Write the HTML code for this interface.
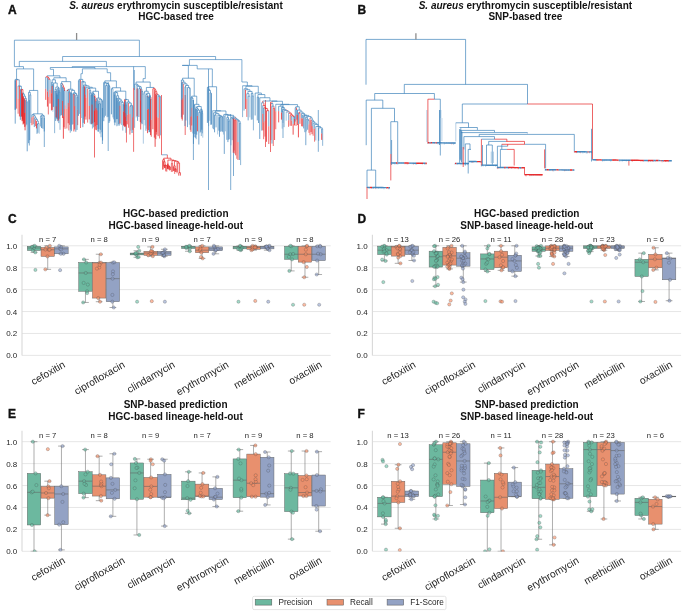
<!DOCTYPE html><html><head><meta charset="utf-8"><style>html,body{margin:0;padding:0;background:#fff;}svg{display:block;will-change:transform;}</style></head><body>
<svg width="685" height="614" viewBox="0 0 685 614" font-family='"Liberation Sans", sans-serif'>
<rect width="685" height="614" fill="#fff"/>
<text x="176" y="8.9" font-size="10" font-weight="bold" text-anchor="middle" fill="#111"><tspan font-style="italic">S. aureus</tspan> erythromycin susceptible/resistant</text>
<text x="176" y="19.9" font-size="10" font-weight="bold" text-anchor="middle" fill="#111">HGC-based tree</text>
<text x="525.4" y="8.9" font-size="10" font-weight="bold" text-anchor="middle" fill="#111"><tspan font-style="italic">S. aureus</tspan> erythromycin susceptible/resistant</text>
<text x="525.4" y="19.9" font-size="10" font-weight="bold" text-anchor="middle" fill="#111">SNP-based tree</text>
<text x="175.8" y="216.9" font-size="10" font-weight="bold" text-anchor="middle" fill="#111">HGC-based prediction</text>
<text x="175.8" y="229" font-size="10" font-weight="bold" text-anchor="middle" fill="#111">HGC-based lineage-held-out</text>
<text x="526.7" y="216.9" font-size="10" font-weight="bold" text-anchor="middle" fill="#111">HGC-based prediction</text>
<text x="526.7" y="229" font-size="10" font-weight="bold" text-anchor="middle" fill="#111">SNP-based lineage-held-out</text>
<text x="175.6" y="408" font-size="10" font-weight="bold" text-anchor="middle" fill="#111">SNP-based prediction</text>
<text x="175.6" y="420" font-size="10" font-weight="bold" text-anchor="middle" fill="#111">HGC-based lineage-held-out</text>
<text x="526.7" y="408" font-size="10" font-weight="bold" text-anchor="middle" fill="#111">SNP-based prediction</text>
<text x="526.7" y="420" font-size="10" font-weight="bold" text-anchor="middle" fill="#111">SNP-based lineage-held-out</text>
<text x="8" y="14" font-size="12" font-weight="bold" font-style="normal" text-anchor="start" fill="#111" stroke="#111" stroke-width="0.35">A</text>
<text x="357.6" y="13.9" font-size="12" font-weight="bold" font-style="normal" text-anchor="start" fill="#111" stroke="#111" stroke-width="0.35">B</text>
<text x="8" y="222.6" font-size="12" font-weight="bold" font-style="normal" text-anchor="start" fill="#111" stroke="#111" stroke-width="0.35">C</text>
<text x="357.6" y="222.6" font-size="12" font-weight="bold" font-style="normal" text-anchor="start" fill="#111" stroke="#111" stroke-width="0.35">D</text>
<text x="8" y="417.8" font-size="12" font-weight="bold" font-style="normal" text-anchor="start" fill="#111" stroke="#111" stroke-width="0.35">E</text>
<text x="357.6" y="417.8" font-size="12" font-weight="bold" font-style="normal" text-anchor="start" fill="#111" stroke="#111" stroke-width="0.35">F</text>
<path d="M22 355.4H330.7M22 333.48H330.7M22 311.56H330.7M22 289.64H330.7M22 267.72H330.7M22 245.8H330.7" stroke="#e3e3e3" stroke-width="0.9" fill="none"/>
<path d="M22 234.84V355.4" stroke="#d9d9d9" stroke-width="1.1" fill="none"/>
<text x="17.3" y="358.4" font-size="8.0" font-weight="normal" font-style="normal" text-anchor="end" fill="#262626" >0.0</text>
<text x="17.3" y="336.48" font-size="8.0" font-weight="normal" font-style="normal" text-anchor="end" fill="#262626" >0.2</text>
<text x="17.3" y="314.56" font-size="8.0" font-weight="normal" font-style="normal" text-anchor="end" fill="#262626" >0.4</text>
<text x="17.3" y="292.64" font-size="8.0" font-weight="normal" font-style="normal" text-anchor="end" fill="#262626" >0.6</text>
<text x="17.3" y="270.72" font-size="8.0" font-weight="normal" font-style="normal" text-anchor="end" fill="#262626" >0.8</text>
<text x="17.3" y="248.8" font-size="8.0" font-weight="normal" font-style="normal" text-anchor="end" fill="#262626" >1.0</text>
<text x="47.73" y="242" font-size="7.7" font-weight="normal" font-style="normal" text-anchor="middle" fill="#262626" >n = 7</text>
<text transform="translate(49.73,375.9) rotate(-30)" font-size="10.2" text-anchor="middle" fill="#262626">cefoxitin</text>
<text x="99.18" y="242" font-size="7.7" font-weight="normal" font-style="normal" text-anchor="middle" fill="#262626" >n = 8</text>
<text transform="translate(101.18,380.72) rotate(-30)" font-size="10.2" text-anchor="middle" fill="#262626">ciprofloxacin</text>
<text x="150.62" y="242" font-size="7.7" font-weight="normal" font-style="normal" text-anchor="middle" fill="#262626" >n = 9</text>
<text transform="translate(152.62,379.87) rotate(-30)" font-size="10.2" text-anchor="middle" fill="#262626">clindamycin</text>
<text x="202.08" y="242" font-size="7.7" font-weight="normal" font-style="normal" text-anchor="middle" fill="#262626" >n = 7</text>
<text transform="translate(204.08,381.14) rotate(-30)" font-size="10.2" text-anchor="middle" fill="#262626">erythromycin</text>
<text x="253.53" y="242" font-size="7.7" font-weight="normal" font-style="normal" text-anchor="middle" fill="#262626" >n = 9</text>
<text transform="translate(255.53,377.74) rotate(-30)" font-size="10.2" text-anchor="middle" fill="#262626">methicillin</text>
<text x="304.98" y="242" font-size="7.7" font-weight="normal" font-style="normal" text-anchor="middle" fill="#262626" >n = 8</text>
<text transform="translate(306.98,375.62) rotate(-30)" font-size="10.2" text-anchor="middle" fill="#262626">oxacillin</text>
<clipPath id="clip1"><rect x="22" y="230.84" width="308.7" height="124.86"/></clipPath>
<g clip-path="url(#clip1)">
<path d="M34.01 246.24V245.8M34.01 250.51V252.38M30.64 245.8H37.37M30.64 252.38H37.37" stroke="#777" stroke-width="0.6" fill="none"/>
<rect x="27.28" y="246.24" width="13.45" height="4.27" fill="#6cb89f" stroke="#606060" stroke-width="0.45"/>
<path d="M27.28 247.99H40.73" stroke="#606060" stroke-width="0.55" fill="none"/>
<circle cx="35.27" cy="252.38" r="1.6" fill="#66c2a5" fill-opacity="0.6" stroke="#444" stroke-width="0.35" stroke-opacity="0.75"/>
<circle cx="32.83" cy="250.51" r="1.6" fill="#66c2a5" fill-opacity="0.6" stroke="#444" stroke-width="0.35" stroke-opacity="0.75"/>
<circle cx="33.98" cy="247.99" r="1.6" fill="#66c2a5" fill-opacity="0.6" stroke="#444" stroke-width="0.35" stroke-opacity="0.75"/>
<circle cx="33.76" cy="246.24" r="1.6" fill="#66c2a5" fill-opacity="0.6" stroke="#444" stroke-width="0.35" stroke-opacity="0.75"/>
<circle cx="34.73" cy="245.8" r="1.6" fill="#66c2a5" fill-opacity="0.6" stroke="#444" stroke-width="0.35" stroke-opacity="0.75"/>
<circle cx="35.39" cy="269.91" r="1.6" fill="#66c2a5" fill-opacity="0.6" stroke="#444" stroke-width="0.35" stroke-opacity="0.75"/>
<circle cx="32.06" cy="246.8" r="1.6" fill="#66c2a5" fill-opacity="0.6" stroke="#444" stroke-width="0.35" stroke-opacity="0.75"/>
<path d="M47.73 247.44V245.8M47.73 256.43V269.36M44.36 245.8H51.09M44.36 269.36H51.09" stroke="#777" stroke-width="0.6" fill="none"/>
<rect x="41" y="247.44" width="13.45" height="8.99" fill="#e8906e" stroke="#606060" stroke-width="0.45"/>
<path d="M41 249.75H54.45" stroke="#606060" stroke-width="0.55" fill="none"/>
<circle cx="45.34" cy="269.36" r="1.6" fill="#fc8d62" fill-opacity="0.6" stroke="#444" stroke-width="0.35" stroke-opacity="0.75"/>
<circle cx="47.46" cy="256.43" r="1.6" fill="#fc8d62" fill-opacity="0.6" stroke="#444" stroke-width="0.35" stroke-opacity="0.75"/>
<circle cx="48.79" cy="249.75" r="1.6" fill="#fc8d62" fill-opacity="0.6" stroke="#444" stroke-width="0.35" stroke-opacity="0.75"/>
<circle cx="46.42" cy="247.44" r="1.6" fill="#fc8d62" fill-opacity="0.6" stroke="#444" stroke-width="0.35" stroke-opacity="0.75"/>
<circle cx="49.86" cy="245.8" r="1.6" fill="#fc8d62" fill-opacity="0.6" stroke="#444" stroke-width="0.35" stroke-opacity="0.75"/>
<circle cx="49.65" cy="249.67" r="1.6" fill="#fc8d62" fill-opacity="0.6" stroke="#444" stroke-width="0.35" stroke-opacity="0.75"/>
<circle cx="45.47" cy="249.58" r="1.6" fill="#fc8d62" fill-opacity="0.6" stroke="#444" stroke-width="0.35" stroke-opacity="0.75"/>
<path d="M61.45 246.9V245.8M61.45 253.8V253.8M58.08 245.8H64.81M58.08 253.8H64.81" stroke="#777" stroke-width="0.6" fill="none"/>
<rect x="54.72" y="246.9" width="13.45" height="6.9" fill="#93a2c4" stroke="#606060" stroke-width="0.45"/>
<path d="M54.72 248.87H68.17" stroke="#606060" stroke-width="0.55" fill="none"/>
<circle cx="63.55" cy="253.8" r="1.6" fill="#8da0cb" fill-opacity="0.6" stroke="#444" stroke-width="0.35" stroke-opacity="0.75"/>
<circle cx="60.87" cy="253.8" r="1.6" fill="#8da0cb" fill-opacity="0.6" stroke="#444" stroke-width="0.35" stroke-opacity="0.75"/>
<circle cx="60.08" cy="248.87" r="1.6" fill="#8da0cb" fill-opacity="0.6" stroke="#444" stroke-width="0.35" stroke-opacity="0.75"/>
<circle cx="61.07" cy="246.9" r="1.6" fill="#8da0cb" fill-opacity="0.6" stroke="#444" stroke-width="0.35" stroke-opacity="0.75"/>
<circle cx="59.18" cy="245.8" r="1.6" fill="#8da0cb" fill-opacity="0.6" stroke="#444" stroke-width="0.35" stroke-opacity="0.75"/>
<circle cx="60.11" cy="270.13" r="1.6" fill="#8da0cb" fill-opacity="0.6" stroke="#444" stroke-width="0.35" stroke-opacity="0.75"/>
<circle cx="61.15" cy="249.47" r="1.6" fill="#8da0cb" fill-opacity="0.6" stroke="#444" stroke-width="0.35" stroke-opacity="0.75"/>
<path d="M85.46 262.46V259.39M85.46 291.28V302.46M82.09 259.39H88.82M82.09 302.46H88.82" stroke="#777" stroke-width="0.6" fill="none"/>
<rect x="78.73" y="262.46" width="13.45" height="28.82" fill="#6cb89f" stroke="#606060" stroke-width="0.45"/>
<path d="M78.73 272.98H92.18" stroke="#606060" stroke-width="0.55" fill="none"/>
<circle cx="83.16" cy="302.46" r="1.6" fill="#66c2a5" fill-opacity="0.6" stroke="#444" stroke-width="0.35" stroke-opacity="0.75"/>
<circle cx="87.08" cy="291.28" r="1.6" fill="#66c2a5" fill-opacity="0.6" stroke="#444" stroke-width="0.35" stroke-opacity="0.75"/>
<circle cx="85.73" cy="272.98" r="1.6" fill="#66c2a5" fill-opacity="0.6" stroke="#444" stroke-width="0.35" stroke-opacity="0.75"/>
<circle cx="86.14" cy="262.46" r="1.6" fill="#66c2a5" fill-opacity="0.6" stroke="#444" stroke-width="0.35" stroke-opacity="0.75"/>
<circle cx="83.95" cy="259.39" r="1.6" fill="#66c2a5" fill-opacity="0.6" stroke="#444" stroke-width="0.35" stroke-opacity="0.75"/>
<circle cx="87.82" cy="284.57" r="1.6" fill="#66c2a5" fill-opacity="0.6" stroke="#444" stroke-width="0.35" stroke-opacity="0.75"/>
<circle cx="87.18" cy="293.04" r="1.6" fill="#66c2a5" fill-opacity="0.6" stroke="#444" stroke-width="0.35" stroke-opacity="0.75"/>
<circle cx="83.64" cy="282.93" r="1.6" fill="#66c2a5" fill-opacity="0.6" stroke="#444" stroke-width="0.35" stroke-opacity="0.75"/>
<path d="M99.18 262.57V254.24M99.18 298.08V301.7M95.81 254.24H102.54M95.81 301.7H102.54" stroke="#777" stroke-width="0.6" fill="none"/>
<rect x="92.45" y="262.57" width="13.45" height="35.51" fill="#e8906e" stroke="#606060" stroke-width="0.45"/>
<path d="M92.45 262.79H105.9" stroke="#606060" stroke-width="0.55" fill="none"/>
<circle cx="99.99" cy="301.7" r="1.6" fill="#fc8d62" fill-opacity="0.6" stroke="#444" stroke-width="0.35" stroke-opacity="0.75"/>
<circle cx="98.23" cy="298.08" r="1.6" fill="#fc8d62" fill-opacity="0.6" stroke="#444" stroke-width="0.35" stroke-opacity="0.75"/>
<circle cx="99.6" cy="262.79" r="1.6" fill="#fc8d62" fill-opacity="0.6" stroke="#444" stroke-width="0.35" stroke-opacity="0.75"/>
<circle cx="101.01" cy="262.57" r="1.6" fill="#fc8d62" fill-opacity="0.6" stroke="#444" stroke-width="0.35" stroke-opacity="0.75"/>
<circle cx="100.84" cy="254.24" r="1.6" fill="#fc8d62" fill-opacity="0.6" stroke="#444" stroke-width="0.35" stroke-opacity="0.75"/>
<circle cx="99.2" cy="267.46" r="1.6" fill="#fc8d62" fill-opacity="0.6" stroke="#444" stroke-width="0.35" stroke-opacity="0.75"/>
<circle cx="99.6" cy="264.83" r="1.6" fill="#fc8d62" fill-opacity="0.6" stroke="#444" stroke-width="0.35" stroke-opacity="0.75"/>
<circle cx="96.94" cy="268.6" r="1.6" fill="#fc8d62" fill-opacity="0.6" stroke="#444" stroke-width="0.35" stroke-opacity="0.75"/>
<path d="M112.9 262.57V262.24M112.9 301.7V307.5M109.53 262.24H116.26M109.53 307.5H116.26" stroke="#777" stroke-width="0.6" fill="none"/>
<rect x="106.17" y="262.57" width="13.45" height="39.13" fill="#93a2c4" stroke="#606060" stroke-width="0.45"/>
<path d="M106.17 278.68H119.62" stroke="#606060" stroke-width="0.55" fill="none"/>
<circle cx="113.73" cy="307.5" r="1.6" fill="#8da0cb" fill-opacity="0.6" stroke="#444" stroke-width="0.35" stroke-opacity="0.75"/>
<circle cx="112.29" cy="301.7" r="1.6" fill="#8da0cb" fill-opacity="0.6" stroke="#444" stroke-width="0.35" stroke-opacity="0.75"/>
<circle cx="112.6" cy="278.68" r="1.6" fill="#8da0cb" fill-opacity="0.6" stroke="#444" stroke-width="0.35" stroke-opacity="0.75"/>
<circle cx="112.94" cy="262.57" r="1.6" fill="#8da0cb" fill-opacity="0.6" stroke="#444" stroke-width="0.35" stroke-opacity="0.75"/>
<circle cx="114.23" cy="262.24" r="1.6" fill="#8da0cb" fill-opacity="0.6" stroke="#444" stroke-width="0.35" stroke-opacity="0.75"/>
<circle cx="113" cy="271.41" r="1.6" fill="#8da0cb" fill-opacity="0.6" stroke="#444" stroke-width="0.35" stroke-opacity="0.75"/>
<circle cx="112.38" cy="294.93" r="1.6" fill="#8da0cb" fill-opacity="0.6" stroke="#444" stroke-width="0.35" stroke-opacity="0.75"/>
<circle cx="112.85" cy="274.19" r="1.6" fill="#8da0cb" fill-opacity="0.6" stroke="#444" stroke-width="0.35" stroke-opacity="0.75"/>
<path d="M136.91 253.03V250.73M136.91 254.9V257.31M133.54 250.73H140.27M133.54 257.31H140.27" stroke="#777" stroke-width="0.6" fill="none"/>
<rect x="130.18" y="253.03" width="13.45" height="1.86" fill="#6cb89f" stroke="#606060" stroke-width="0.45"/>
<path d="M130.18 253.8H143.63" stroke="#606060" stroke-width="0.55" fill="none"/>
<circle cx="137.35" cy="257.31" r="1.6" fill="#66c2a5" fill-opacity="0.6" stroke="#444" stroke-width="0.35" stroke-opacity="0.75"/>
<circle cx="136.39" cy="254.9" r="1.6" fill="#66c2a5" fill-opacity="0.6" stroke="#444" stroke-width="0.35" stroke-opacity="0.75"/>
<circle cx="135.32" cy="253.8" r="1.6" fill="#66c2a5" fill-opacity="0.6" stroke="#444" stroke-width="0.35" stroke-opacity="0.75"/>
<circle cx="136.92" cy="253.03" r="1.6" fill="#66c2a5" fill-opacity="0.6" stroke="#444" stroke-width="0.35" stroke-opacity="0.75"/>
<circle cx="139.22" cy="250.73" r="1.6" fill="#66c2a5" fill-opacity="0.6" stroke="#444" stroke-width="0.35" stroke-opacity="0.75"/>
<circle cx="138.2" cy="246.9" r="1.6" fill="#66c2a5" fill-opacity="0.6" stroke="#444" stroke-width="0.35" stroke-opacity="0.75"/>
<circle cx="137.1" cy="301.7" r="1.6" fill="#66c2a5" fill-opacity="0.6" stroke="#444" stroke-width="0.35" stroke-opacity="0.75"/>
<circle cx="138.63" cy="257.02" r="1.6" fill="#66c2a5" fill-opacity="0.6" stroke="#444" stroke-width="0.35" stroke-opacity="0.75"/>
<circle cx="135.62" cy="253.06" r="1.6" fill="#66c2a5" fill-opacity="0.6" stroke="#444" stroke-width="0.35" stroke-opacity="0.75"/>
<path d="M150.62 251.28V246.9M150.62 255.34V256.21M147.26 246.9H153.99M147.26 256.21H153.99" stroke="#777" stroke-width="0.6" fill="none"/>
<rect x="143.9" y="251.28" width="13.45" height="4.06" fill="#e8906e" stroke="#606060" stroke-width="0.45"/>
<path d="M143.9 253.03H157.35" stroke="#606060" stroke-width="0.55" fill="none"/>
<circle cx="152.82" cy="256.21" r="1.6" fill="#fc8d62" fill-opacity="0.6" stroke="#444" stroke-width="0.35" stroke-opacity="0.75"/>
<circle cx="148.25" cy="255.34" r="1.6" fill="#fc8d62" fill-opacity="0.6" stroke="#444" stroke-width="0.35" stroke-opacity="0.75"/>
<circle cx="151.99" cy="253.03" r="1.6" fill="#fc8d62" fill-opacity="0.6" stroke="#444" stroke-width="0.35" stroke-opacity="0.75"/>
<circle cx="152.16" cy="251.28" r="1.6" fill="#fc8d62" fill-opacity="0.6" stroke="#444" stroke-width="0.35" stroke-opacity="0.75"/>
<circle cx="152.48" cy="246.9" r="1.6" fill="#fc8d62" fill-opacity="0.6" stroke="#444" stroke-width="0.35" stroke-opacity="0.75"/>
<circle cx="151.78" cy="301.15" r="1.6" fill="#fc8d62" fill-opacity="0.6" stroke="#444" stroke-width="0.35" stroke-opacity="0.75"/>
<circle cx="152.11" cy="251.47" r="1.6" fill="#fc8d62" fill-opacity="0.6" stroke="#444" stroke-width="0.35" stroke-opacity="0.75"/>
<circle cx="150.71" cy="253.47" r="1.6" fill="#fc8d62" fill-opacity="0.6" stroke="#444" stroke-width="0.35" stroke-opacity="0.75"/>
<circle cx="150.92" cy="251.11" r="1.6" fill="#fc8d62" fill-opacity="0.6" stroke="#444" stroke-width="0.35" stroke-opacity="0.75"/>
<path d="M164.34 251.28V249.31M164.34 255.34V256.21M160.98 249.31H167.71M160.98 256.21H167.71" stroke="#777" stroke-width="0.6" fill="none"/>
<rect x="157.62" y="251.28" width="13.45" height="4.06" fill="#93a2c4" stroke="#606060" stroke-width="0.45"/>
<path d="M157.62 253.03H171.07" stroke="#606060" stroke-width="0.55" fill="none"/>
<circle cx="164.27" cy="256.21" r="1.6" fill="#8da0cb" fill-opacity="0.6" stroke="#444" stroke-width="0.35" stroke-opacity="0.75"/>
<circle cx="163.66" cy="255.34" r="1.6" fill="#8da0cb" fill-opacity="0.6" stroke="#444" stroke-width="0.35" stroke-opacity="0.75"/>
<circle cx="163.61" cy="253.03" r="1.6" fill="#8da0cb" fill-opacity="0.6" stroke="#444" stroke-width="0.35" stroke-opacity="0.75"/>
<circle cx="164.53" cy="251.28" r="1.6" fill="#8da0cb" fill-opacity="0.6" stroke="#444" stroke-width="0.35" stroke-opacity="0.75"/>
<circle cx="164.94" cy="249.31" r="1.6" fill="#8da0cb" fill-opacity="0.6" stroke="#444" stroke-width="0.35" stroke-opacity="0.75"/>
<circle cx="164.88" cy="301.7" r="1.6" fill="#8da0cb" fill-opacity="0.6" stroke="#444" stroke-width="0.35" stroke-opacity="0.75"/>
<circle cx="164.14" cy="255.11" r="1.6" fill="#8da0cb" fill-opacity="0.6" stroke="#444" stroke-width="0.35" stroke-opacity="0.75"/>
<circle cx="162.08" cy="253.02" r="1.6" fill="#8da0cb" fill-opacity="0.6" stroke="#444" stroke-width="0.35" stroke-opacity="0.75"/>
<circle cx="163.05" cy="252.73" r="1.6" fill="#8da0cb" fill-opacity="0.6" stroke="#444" stroke-width="0.35" stroke-opacity="0.75"/>
<path d="M188.36 246.24V245.8M188.36 248.54V251.28M184.99 245.8H191.72M184.99 251.28H191.72" stroke="#777" stroke-width="0.6" fill="none"/>
<rect x="181.63" y="246.24" width="13.45" height="2.3" fill="#6cb89f" stroke="#606060" stroke-width="0.45"/>
<path d="M181.63 246.9H195.08" stroke="#606060" stroke-width="0.55" fill="none"/>
<circle cx="189.78" cy="251.28" r="1.6" fill="#66c2a5" fill-opacity="0.6" stroke="#444" stroke-width="0.35" stroke-opacity="0.75"/>
<circle cx="189.87" cy="248.54" r="1.6" fill="#66c2a5" fill-opacity="0.6" stroke="#444" stroke-width="0.35" stroke-opacity="0.75"/>
<circle cx="187.18" cy="246.9" r="1.6" fill="#66c2a5" fill-opacity="0.6" stroke="#444" stroke-width="0.35" stroke-opacity="0.75"/>
<circle cx="190" cy="246.24" r="1.6" fill="#66c2a5" fill-opacity="0.6" stroke="#444" stroke-width="0.35" stroke-opacity="0.75"/>
<circle cx="189.19" cy="245.8" r="1.6" fill="#66c2a5" fill-opacity="0.6" stroke="#444" stroke-width="0.35" stroke-opacity="0.75"/>
<circle cx="186.35" cy="248.08" r="1.6" fill="#66c2a5" fill-opacity="0.6" stroke="#444" stroke-width="0.35" stroke-opacity="0.75"/>
<circle cx="186.04" cy="246.7" r="1.6" fill="#66c2a5" fill-opacity="0.6" stroke="#444" stroke-width="0.35" stroke-opacity="0.75"/>
<path d="M202.08 246.9V245.8M202.08 252.7V258.4M198.71 245.8H205.44M198.71 258.4H205.44" stroke="#777" stroke-width="0.6" fill="none"/>
<rect x="195.35" y="246.9" width="13.45" height="5.81" fill="#e8906e" stroke="#606060" stroke-width="0.45"/>
<path d="M195.35 250.18H208.8" stroke="#606060" stroke-width="0.55" fill="none"/>
<circle cx="202.67" cy="258.4" r="1.6" fill="#fc8d62" fill-opacity="0.6" stroke="#444" stroke-width="0.35" stroke-opacity="0.75"/>
<circle cx="201.33" cy="252.7" r="1.6" fill="#fc8d62" fill-opacity="0.6" stroke="#444" stroke-width="0.35" stroke-opacity="0.75"/>
<circle cx="200.01" cy="250.18" r="1.6" fill="#fc8d62" fill-opacity="0.6" stroke="#444" stroke-width="0.35" stroke-opacity="0.75"/>
<circle cx="200.44" cy="246.9" r="1.6" fill="#fc8d62" fill-opacity="0.6" stroke="#444" stroke-width="0.35" stroke-opacity="0.75"/>
<circle cx="202.21" cy="245.8" r="1.6" fill="#fc8d62" fill-opacity="0.6" stroke="#444" stroke-width="0.35" stroke-opacity="0.75"/>
<circle cx="200.48" cy="248.88" r="1.6" fill="#fc8d62" fill-opacity="0.6" stroke="#444" stroke-width="0.35" stroke-opacity="0.75"/>
<circle cx="200.98" cy="257.02" r="1.6" fill="#fc8d62" fill-opacity="0.6" stroke="#444" stroke-width="0.35" stroke-opacity="0.75"/>
<path d="M215.8 246.9V245.8M215.8 250.73V253.8M212.43 245.8H219.16M212.43 253.8H219.16" stroke="#777" stroke-width="0.6" fill="none"/>
<rect x="209.07" y="246.9" width="13.45" height="3.84" fill="#93a2c4" stroke="#606060" stroke-width="0.45"/>
<path d="M209.07 248.87H222.52" stroke="#606060" stroke-width="0.55" fill="none"/>
<circle cx="213.51" cy="253.8" r="1.6" fill="#8da0cb" fill-opacity="0.6" stroke="#444" stroke-width="0.35" stroke-opacity="0.75"/>
<circle cx="215.25" cy="250.73" r="1.6" fill="#8da0cb" fill-opacity="0.6" stroke="#444" stroke-width="0.35" stroke-opacity="0.75"/>
<circle cx="215.42" cy="248.87" r="1.6" fill="#8da0cb" fill-opacity="0.6" stroke="#444" stroke-width="0.35" stroke-opacity="0.75"/>
<circle cx="214.3" cy="246.9" r="1.6" fill="#8da0cb" fill-opacity="0.6" stroke="#444" stroke-width="0.35" stroke-opacity="0.75"/>
<circle cx="213.92" cy="245.8" r="1.6" fill="#8da0cb" fill-opacity="0.6" stroke="#444" stroke-width="0.35" stroke-opacity="0.75"/>
<circle cx="217.71" cy="248.99" r="1.6" fill="#8da0cb" fill-opacity="0.6" stroke="#444" stroke-width="0.35" stroke-opacity="0.75"/>
<circle cx="215.84" cy="250.01" r="1.6" fill="#8da0cb" fill-opacity="0.6" stroke="#444" stroke-width="0.35" stroke-opacity="0.75"/>
<path d="M239.81 246.24V245.8M239.81 248.87V250.18M236.44 245.8H243.17M236.44 250.18H243.17" stroke="#777" stroke-width="0.6" fill="none"/>
<rect x="233.08" y="246.24" width="13.45" height="2.63" fill="#6cb89f" stroke="#606060" stroke-width="0.45"/>
<path d="M233.08 246.9H246.53" stroke="#606060" stroke-width="0.55" fill="none"/>
<circle cx="240.86" cy="250.18" r="1.6" fill="#66c2a5" fill-opacity="0.6" stroke="#444" stroke-width="0.35" stroke-opacity="0.75"/>
<circle cx="238.17" cy="248.87" r="1.6" fill="#66c2a5" fill-opacity="0.6" stroke="#444" stroke-width="0.35" stroke-opacity="0.75"/>
<circle cx="240.79" cy="246.9" r="1.6" fill="#66c2a5" fill-opacity="0.6" stroke="#444" stroke-width="0.35" stroke-opacity="0.75"/>
<circle cx="240.66" cy="246.24" r="1.6" fill="#66c2a5" fill-opacity="0.6" stroke="#444" stroke-width="0.35" stroke-opacity="0.75"/>
<circle cx="240.02" cy="245.8" r="1.6" fill="#66c2a5" fill-opacity="0.6" stroke="#444" stroke-width="0.35" stroke-opacity="0.75"/>
<circle cx="238.46" cy="301.7" r="1.6" fill="#66c2a5" fill-opacity="0.6" stroke="#444" stroke-width="0.35" stroke-opacity="0.75"/>
<circle cx="242.09" cy="247.53" r="1.6" fill="#66c2a5" fill-opacity="0.6" stroke="#444" stroke-width="0.35" stroke-opacity="0.75"/>
<circle cx="241.23" cy="248.81" r="1.6" fill="#66c2a5" fill-opacity="0.6" stroke="#444" stroke-width="0.35" stroke-opacity="0.75"/>
<circle cx="239.88" cy="249.54" r="1.6" fill="#66c2a5" fill-opacity="0.6" stroke="#444" stroke-width="0.35" stroke-opacity="0.75"/>
<path d="M253.53 246.24V245.8M253.53 249.31V250.18M250.16 245.8H256.89M250.16 250.18H256.89" stroke="#777" stroke-width="0.6" fill="none"/>
<rect x="246.8" y="246.24" width="13.45" height="3.07" fill="#e8906e" stroke="#606060" stroke-width="0.45"/>
<path d="M246.8 247.44H260.25" stroke="#606060" stroke-width="0.55" fill="none"/>
<circle cx="251.41" cy="250.18" r="1.6" fill="#fc8d62" fill-opacity="0.6" stroke="#444" stroke-width="0.35" stroke-opacity="0.75"/>
<circle cx="252.56" cy="249.31" r="1.6" fill="#fc8d62" fill-opacity="0.6" stroke="#444" stroke-width="0.35" stroke-opacity="0.75"/>
<circle cx="255.77" cy="247.44" r="1.6" fill="#fc8d62" fill-opacity="0.6" stroke="#444" stroke-width="0.35" stroke-opacity="0.75"/>
<circle cx="255.33" cy="246.24" r="1.6" fill="#fc8d62" fill-opacity="0.6" stroke="#444" stroke-width="0.35" stroke-opacity="0.75"/>
<circle cx="252.6" cy="245.8" r="1.6" fill="#fc8d62" fill-opacity="0.6" stroke="#444" stroke-width="0.35" stroke-opacity="0.75"/>
<circle cx="255.25" cy="300.93" r="1.6" fill="#fc8d62" fill-opacity="0.6" stroke="#444" stroke-width="0.35" stroke-opacity="0.75"/>
<circle cx="252.61" cy="247.34" r="1.6" fill="#fc8d62" fill-opacity="0.6" stroke="#444" stroke-width="0.35" stroke-opacity="0.75"/>
<circle cx="255.63" cy="247.66" r="1.6" fill="#fc8d62" fill-opacity="0.6" stroke="#444" stroke-width="0.35" stroke-opacity="0.75"/>
<circle cx="254.7" cy="247.42" r="1.6" fill="#fc8d62" fill-opacity="0.6" stroke="#444" stroke-width="0.35" stroke-opacity="0.75"/>
<path d="M267.25 246.24V245.8M267.25 248.87V250.18M263.88 245.8H270.61M263.88 250.18H270.61" stroke="#777" stroke-width="0.6" fill="none"/>
<rect x="260.52" y="246.24" width="13.45" height="2.63" fill="#93a2c4" stroke="#606060" stroke-width="0.45"/>
<path d="M260.52 246.9H273.97" stroke="#606060" stroke-width="0.55" fill="none"/>
<circle cx="269.46" cy="250.18" r="1.6" fill="#8da0cb" fill-opacity="0.6" stroke="#444" stroke-width="0.35" stroke-opacity="0.75"/>
<circle cx="267.58" cy="248.87" r="1.6" fill="#8da0cb" fill-opacity="0.6" stroke="#444" stroke-width="0.35" stroke-opacity="0.75"/>
<circle cx="265.67" cy="246.9" r="1.6" fill="#8da0cb" fill-opacity="0.6" stroke="#444" stroke-width="0.35" stroke-opacity="0.75"/>
<circle cx="269.01" cy="246.24" r="1.6" fill="#8da0cb" fill-opacity="0.6" stroke="#444" stroke-width="0.35" stroke-opacity="0.75"/>
<circle cx="269.52" cy="245.8" r="1.6" fill="#8da0cb" fill-opacity="0.6" stroke="#444" stroke-width="0.35" stroke-opacity="0.75"/>
<circle cx="268.22" cy="301.7" r="1.6" fill="#8da0cb" fill-opacity="0.6" stroke="#444" stroke-width="0.35" stroke-opacity="0.75"/>
<circle cx="267.29" cy="248.2" r="1.6" fill="#8da0cb" fill-opacity="0.6" stroke="#444" stroke-width="0.35" stroke-opacity="0.75"/>
<circle cx="266.66" cy="246.33" r="1.6" fill="#8da0cb" fill-opacity="0.6" stroke="#444" stroke-width="0.35" stroke-opacity="0.75"/>
<circle cx="266.51" cy="246.59" r="1.6" fill="#8da0cb" fill-opacity="0.6" stroke="#444" stroke-width="0.35" stroke-opacity="0.75"/>
<path d="M291.25 246.24V245.8M291.25 259.39V270.9M287.89 245.8H294.62M287.89 270.9H294.62" stroke="#777" stroke-width="0.6" fill="none"/>
<rect x="284.53" y="246.24" width="13.45" height="13.15" fill="#6cb89f" stroke="#606060" stroke-width="0.45"/>
<path d="M284.53 254.24H297.98" stroke="#606060" stroke-width="0.55" fill="none"/>
<circle cx="289.36" cy="270.9" r="1.6" fill="#66c2a5" fill-opacity="0.6" stroke="#444" stroke-width="0.35" stroke-opacity="0.75"/>
<circle cx="292.05" cy="259.39" r="1.6" fill="#66c2a5" fill-opacity="0.6" stroke="#444" stroke-width="0.35" stroke-opacity="0.75"/>
<circle cx="290.28" cy="254.24" r="1.6" fill="#66c2a5" fill-opacity="0.6" stroke="#444" stroke-width="0.35" stroke-opacity="0.75"/>
<circle cx="291.25" cy="246.24" r="1.6" fill="#66c2a5" fill-opacity="0.6" stroke="#444" stroke-width="0.35" stroke-opacity="0.75"/>
<circle cx="290.42" cy="245.8" r="1.6" fill="#66c2a5" fill-opacity="0.6" stroke="#444" stroke-width="0.35" stroke-opacity="0.75"/>
<circle cx="293.04" cy="304.76" r="1.6" fill="#66c2a5" fill-opacity="0.6" stroke="#444" stroke-width="0.35" stroke-opacity="0.75"/>
<circle cx="293.17" cy="253.98" r="1.6" fill="#66c2a5" fill-opacity="0.6" stroke="#444" stroke-width="0.35" stroke-opacity="0.75"/>
<circle cx="288.94" cy="256.84" r="1.6" fill="#66c2a5" fill-opacity="0.6" stroke="#444" stroke-width="0.35" stroke-opacity="0.75"/>
<path d="M304.98 246.24V245.8M304.98 262.13V277.26M301.61 245.8H308.34M301.61 277.26H308.34" stroke="#777" stroke-width="0.6" fill="none"/>
<rect x="298.25" y="246.24" width="13.45" height="15.89" fill="#e8906e" stroke="#606060" stroke-width="0.45"/>
<path d="M298.25 254.24H311.7" stroke="#606060" stroke-width="0.55" fill="none"/>
<circle cx="304.2" cy="277.26" r="1.6" fill="#fc8d62" fill-opacity="0.6" stroke="#444" stroke-width="0.35" stroke-opacity="0.75"/>
<circle cx="303.6" cy="262.13" r="1.6" fill="#fc8d62" fill-opacity="0.6" stroke="#444" stroke-width="0.35" stroke-opacity="0.75"/>
<circle cx="305.81" cy="254.24" r="1.6" fill="#fc8d62" fill-opacity="0.6" stroke="#444" stroke-width="0.35" stroke-opacity="0.75"/>
<circle cx="306.6" cy="246.24" r="1.6" fill="#fc8d62" fill-opacity="0.6" stroke="#444" stroke-width="0.35" stroke-opacity="0.75"/>
<circle cx="307.05" cy="245.8" r="1.6" fill="#fc8d62" fill-opacity="0.6" stroke="#444" stroke-width="0.35" stroke-opacity="0.75"/>
<circle cx="304.23" cy="304.76" r="1.6" fill="#fc8d62" fill-opacity="0.6" stroke="#444" stroke-width="0.35" stroke-opacity="0.75"/>
<circle cx="306.81" cy="266.95" r="1.6" fill="#fc8d62" fill-opacity="0.6" stroke="#444" stroke-width="0.35" stroke-opacity="0.75"/>
<circle cx="305.87" cy="249.69" r="1.6" fill="#fc8d62" fill-opacity="0.6" stroke="#444" stroke-width="0.35" stroke-opacity="0.75"/>
<path d="M318.7 246.24V245.8M318.7 260.6V274.52M315.33 245.8H322.06M315.33 274.52H322.06" stroke="#777" stroke-width="0.6" fill="none"/>
<rect x="311.97" y="246.24" width="13.45" height="14.36" fill="#93a2c4" stroke="#606060" stroke-width="0.45"/>
<path d="M311.97 254.24H325.42" stroke="#606060" stroke-width="0.55" fill="none"/>
<circle cx="316.7" cy="274.52" r="1.6" fill="#8da0cb" fill-opacity="0.6" stroke="#444" stroke-width="0.35" stroke-opacity="0.75"/>
<circle cx="317.11" cy="260.6" r="1.6" fill="#8da0cb" fill-opacity="0.6" stroke="#444" stroke-width="0.35" stroke-opacity="0.75"/>
<circle cx="320.67" cy="254.24" r="1.6" fill="#8da0cb" fill-opacity="0.6" stroke="#444" stroke-width="0.35" stroke-opacity="0.75"/>
<circle cx="317.32" cy="246.24" r="1.6" fill="#8da0cb" fill-opacity="0.6" stroke="#444" stroke-width="0.35" stroke-opacity="0.75"/>
<circle cx="319.94" cy="245.8" r="1.6" fill="#8da0cb" fill-opacity="0.6" stroke="#444" stroke-width="0.35" stroke-opacity="0.75"/>
<circle cx="319.18" cy="304.76" r="1.6" fill="#8da0cb" fill-opacity="0.6" stroke="#444" stroke-width="0.35" stroke-opacity="0.75"/>
<circle cx="320.33" cy="246.45" r="1.6" fill="#8da0cb" fill-opacity="0.6" stroke="#444" stroke-width="0.35" stroke-opacity="0.75"/>
<circle cx="318.06" cy="253.68" r="1.6" fill="#8da0cb" fill-opacity="0.6" stroke="#444" stroke-width="0.35" stroke-opacity="0.75"/>
</g>
<path d="M372.4 355.4H681.1M372.4 333.48H681.1M372.4 311.56H681.1M372.4 289.64H681.1M372.4 267.72H681.1M372.4 245.8H681.1" stroke="#e3e3e3" stroke-width="0.9" fill="none"/>
<path d="M372.4 234.84V355.4" stroke="#d9d9d9" stroke-width="1.1" fill="none"/>
<text x="367.7" y="358.4" font-size="8.0" font-weight="normal" font-style="normal" text-anchor="end" fill="#262626" >0.0</text>
<text x="367.7" y="336.48" font-size="8.0" font-weight="normal" font-style="normal" text-anchor="end" fill="#262626" >0.2</text>
<text x="367.7" y="314.56" font-size="8.0" font-weight="normal" font-style="normal" text-anchor="end" fill="#262626" >0.4</text>
<text x="367.7" y="292.64" font-size="8.0" font-weight="normal" font-style="normal" text-anchor="end" fill="#262626" >0.6</text>
<text x="367.7" y="270.72" font-size="8.0" font-weight="normal" font-style="normal" text-anchor="end" fill="#262626" >0.8</text>
<text x="367.7" y="248.8" font-size="8.0" font-weight="normal" font-style="normal" text-anchor="end" fill="#262626" >1.0</text>
<text x="398.12" y="242" font-size="7.7" font-weight="normal" font-style="normal" text-anchor="middle" fill="#262626" >n = 13</text>
<text transform="translate(400.12,375.9) rotate(-30)" font-size="10.2" text-anchor="middle" fill="#262626">cefoxitin</text>
<text x="449.57" y="242" font-size="7.7" font-weight="normal" font-style="normal" text-anchor="middle" fill="#262626" >n = 26</text>
<text transform="translate(451.57,380.72) rotate(-30)" font-size="10.2" text-anchor="middle" fill="#262626">ciprofloxacin</text>
<text x="501.02" y="242" font-size="7.7" font-weight="normal" font-style="normal" text-anchor="middle" fill="#262626" >n = 11</text>
<text transform="translate(503.02,379.87) rotate(-30)" font-size="10.2" text-anchor="middle" fill="#262626">clindamycin</text>
<text x="552.48" y="242" font-size="7.7" font-weight="normal" font-style="normal" text-anchor="middle" fill="#262626" >n = 28</text>
<text transform="translate(554.48,381.14) rotate(-30)" font-size="10.2" text-anchor="middle" fill="#262626">erythromycin</text>
<text x="603.92" y="242" font-size="7.7" font-weight="normal" font-style="normal" text-anchor="middle" fill="#262626" >n = 23</text>
<text transform="translate(605.92,377.74) rotate(-30)" font-size="10.2" text-anchor="middle" fill="#262626">methicillin</text>
<text x="655.38" y="242" font-size="7.7" font-weight="normal" font-style="normal" text-anchor="middle" fill="#262626" >n = 6</text>
<text transform="translate(657.38,375.62) rotate(-30)" font-size="10.2" text-anchor="middle" fill="#262626">oxacillin</text>
<clipPath id="clip2"><rect x="372.4" y="230.84" width="308.7" height="124.86"/></clipPath>
<g clip-path="url(#clip2)">
<path d="M384.4 246.13V245.8M384.4 254.57V260.92M381.04 245.8H387.77M381.04 260.92H387.77" stroke="#777" stroke-width="0.6" fill="none"/>
<rect x="377.68" y="246.13" width="13.45" height="8.44" fill="#6cb89f" stroke="#606060" stroke-width="0.45"/>
<path d="M377.68 250.18H391.13" stroke="#606060" stroke-width="0.55" fill="none"/>
<circle cx="385.48" cy="260.92" r="1.6" fill="#66c2a5" fill-opacity="0.6" stroke="#444" stroke-width="0.35" stroke-opacity="0.75"/>
<circle cx="386.78" cy="254.57" r="1.6" fill="#66c2a5" fill-opacity="0.6" stroke="#444" stroke-width="0.35" stroke-opacity="0.75"/>
<circle cx="386.56" cy="250.18" r="1.6" fill="#66c2a5" fill-opacity="0.6" stroke="#444" stroke-width="0.35" stroke-opacity="0.75"/>
<circle cx="384.62" cy="246.13" r="1.6" fill="#66c2a5" fill-opacity="0.6" stroke="#444" stroke-width="0.35" stroke-opacity="0.75"/>
<circle cx="384.14" cy="245.8" r="1.6" fill="#66c2a5" fill-opacity="0.6" stroke="#444" stroke-width="0.35" stroke-opacity="0.75"/>
<circle cx="383.29" cy="282.08" r="1.6" fill="#66c2a5" fill-opacity="0.6" stroke="#444" stroke-width="0.35" stroke-opacity="0.75"/>
<circle cx="382.18" cy="246.57" r="1.6" fill="#66c2a5" fill-opacity="0.6" stroke="#444" stroke-width="0.35" stroke-opacity="0.75"/>
<circle cx="382.14" cy="259.64" r="1.6" fill="#66c2a5" fill-opacity="0.6" stroke="#444" stroke-width="0.35" stroke-opacity="0.75"/>
<circle cx="384.24" cy="248.36" r="1.6" fill="#66c2a5" fill-opacity="0.6" stroke="#444" stroke-width="0.35" stroke-opacity="0.75"/>
<circle cx="383.53" cy="251.97" r="1.6" fill="#66c2a5" fill-opacity="0.6" stroke="#444" stroke-width="0.35" stroke-opacity="0.75"/>
<circle cx="383.83" cy="249.45" r="1.6" fill="#66c2a5" fill-opacity="0.6" stroke="#444" stroke-width="0.35" stroke-opacity="0.75"/>
<circle cx="386.29" cy="253.23" r="1.6" fill="#66c2a5" fill-opacity="0.6" stroke="#444" stroke-width="0.35" stroke-opacity="0.75"/>
<circle cx="384.53" cy="251.25" r="1.6" fill="#66c2a5" fill-opacity="0.6" stroke="#444" stroke-width="0.35" stroke-opacity="0.75"/>
<path d="M398.12 246.13V245.8M398.12 256.1V263.34M394.76 245.8H401.49M394.76 263.34H401.49" stroke="#777" stroke-width="0.6" fill="none"/>
<rect x="391.4" y="246.13" width="13.45" height="9.97" fill="#e8906e" stroke="#606060" stroke-width="0.45"/>
<path d="M391.4 246.9H404.85" stroke="#606060" stroke-width="0.55" fill="none"/>
<circle cx="400.43" cy="263.34" r="1.6" fill="#fc8d62" fill-opacity="0.6" stroke="#444" stroke-width="0.35" stroke-opacity="0.75"/>
<circle cx="400.34" cy="256.1" r="1.6" fill="#fc8d62" fill-opacity="0.6" stroke="#444" stroke-width="0.35" stroke-opacity="0.75"/>
<circle cx="396.5" cy="246.9" r="1.6" fill="#fc8d62" fill-opacity="0.6" stroke="#444" stroke-width="0.35" stroke-opacity="0.75"/>
<circle cx="399.34" cy="246.13" r="1.6" fill="#fc8d62" fill-opacity="0.6" stroke="#444" stroke-width="0.35" stroke-opacity="0.75"/>
<circle cx="399.16" cy="245.8" r="1.6" fill="#fc8d62" fill-opacity="0.6" stroke="#444" stroke-width="0.35" stroke-opacity="0.75"/>
<circle cx="397.94" cy="253.75" r="1.6" fill="#fc8d62" fill-opacity="0.6" stroke="#444" stroke-width="0.35" stroke-opacity="0.75"/>
<circle cx="398.27" cy="257.63" r="1.6" fill="#fc8d62" fill-opacity="0.6" stroke="#444" stroke-width="0.35" stroke-opacity="0.75"/>
<circle cx="398.08" cy="254.39" r="1.6" fill="#fc8d62" fill-opacity="0.6" stroke="#444" stroke-width="0.35" stroke-opacity="0.75"/>
<circle cx="400.16" cy="249.38" r="1.6" fill="#fc8d62" fill-opacity="0.6" stroke="#444" stroke-width="0.35" stroke-opacity="0.75"/>
<circle cx="398.13" cy="247.67" r="1.6" fill="#fc8d62" fill-opacity="0.6" stroke="#444" stroke-width="0.35" stroke-opacity="0.75"/>
<circle cx="399.72" cy="248.78" r="1.6" fill="#fc8d62" fill-opacity="0.6" stroke="#444" stroke-width="0.35" stroke-opacity="0.75"/>
<circle cx="397.42" cy="248.49" r="1.6" fill="#fc8d62" fill-opacity="0.6" stroke="#444" stroke-width="0.35" stroke-opacity="0.75"/>
<circle cx="399.96" cy="252.57" r="1.6" fill="#fc8d62" fill-opacity="0.6" stroke="#444" stroke-width="0.35" stroke-opacity="0.75"/>
<path d="M411.85 246.13V245.8M411.85 254.57V260.49M408.48 245.8H415.21M408.48 260.49H415.21" stroke="#777" stroke-width="0.6" fill="none"/>
<rect x="405.12" y="246.13" width="13.45" height="8.44" fill="#93a2c4" stroke="#606060" stroke-width="0.45"/>
<path d="M405.12 250.18H418.57" stroke="#606060" stroke-width="0.55" fill="none"/>
<circle cx="414.04" cy="260.49" r="1.6" fill="#8da0cb" fill-opacity="0.6" stroke="#444" stroke-width="0.35" stroke-opacity="0.75"/>
<circle cx="412.83" cy="254.57" r="1.6" fill="#8da0cb" fill-opacity="0.6" stroke="#444" stroke-width="0.35" stroke-opacity="0.75"/>
<circle cx="411.87" cy="250.18" r="1.6" fill="#8da0cb" fill-opacity="0.6" stroke="#444" stroke-width="0.35" stroke-opacity="0.75"/>
<circle cx="411.93" cy="246.13" r="1.6" fill="#8da0cb" fill-opacity="0.6" stroke="#444" stroke-width="0.35" stroke-opacity="0.75"/>
<circle cx="412.57" cy="245.8" r="1.6" fill="#8da0cb" fill-opacity="0.6" stroke="#444" stroke-width="0.35" stroke-opacity="0.75"/>
<circle cx="412.27" cy="280.98" r="1.6" fill="#8da0cb" fill-opacity="0.6" stroke="#444" stroke-width="0.35" stroke-opacity="0.75"/>
<circle cx="410.94" cy="250.68" r="1.6" fill="#8da0cb" fill-opacity="0.6" stroke="#444" stroke-width="0.35" stroke-opacity="0.75"/>
<circle cx="410.44" cy="246.8" r="1.6" fill="#8da0cb" fill-opacity="0.6" stroke="#444" stroke-width="0.35" stroke-opacity="0.75"/>
<circle cx="411.9" cy="250.46" r="1.6" fill="#8da0cb" fill-opacity="0.6" stroke="#444" stroke-width="0.35" stroke-opacity="0.75"/>
<circle cx="413.93" cy="255.72" r="1.6" fill="#8da0cb" fill-opacity="0.6" stroke="#444" stroke-width="0.35" stroke-opacity="0.75"/>
<circle cx="412.44" cy="253.17" r="1.6" fill="#8da0cb" fill-opacity="0.6" stroke="#444" stroke-width="0.35" stroke-opacity="0.75"/>
<circle cx="409.81" cy="252.31" r="1.6" fill="#8da0cb" fill-opacity="0.6" stroke="#444" stroke-width="0.35" stroke-opacity="0.75"/>
<circle cx="413.38" cy="251.96" r="1.6" fill="#8da0cb" fill-opacity="0.6" stroke="#444" stroke-width="0.35" stroke-opacity="0.75"/>
<path d="M435.85 251.17V245.8M435.85 267.06V286.24M432.49 245.8H439.22M432.49 286.24H439.22" stroke="#777" stroke-width="0.6" fill="none"/>
<rect x="429.13" y="251.17" width="13.45" height="15.89" fill="#6cb89f" stroke="#606060" stroke-width="0.45"/>
<path d="M429.13 256.76H442.58" stroke="#606060" stroke-width="0.55" fill="none"/>
<circle cx="435.11" cy="286.24" r="1.6" fill="#66c2a5" fill-opacity="0.6" stroke="#444" stroke-width="0.35" stroke-opacity="0.75"/>
<circle cx="436.41" cy="267.06" r="1.6" fill="#66c2a5" fill-opacity="0.6" stroke="#444" stroke-width="0.35" stroke-opacity="0.75"/>
<circle cx="437.02" cy="256.76" r="1.6" fill="#66c2a5" fill-opacity="0.6" stroke="#444" stroke-width="0.35" stroke-opacity="0.75"/>
<circle cx="434" cy="251.17" r="1.6" fill="#66c2a5" fill-opacity="0.6" stroke="#444" stroke-width="0.35" stroke-opacity="0.75"/>
<circle cx="435.07" cy="245.8" r="1.6" fill="#66c2a5" fill-opacity="0.6" stroke="#444" stroke-width="0.35" stroke-opacity="0.75"/>
<circle cx="433.6" cy="301.7" r="1.6" fill="#66c2a5" fill-opacity="0.6" stroke="#444" stroke-width="0.35" stroke-opacity="0.75"/>
<circle cx="435.61" cy="302.79" r="1.6" fill="#66c2a5" fill-opacity="0.6" stroke="#444" stroke-width="0.35" stroke-opacity="0.75"/>
<circle cx="437.13" cy="303.23" r="1.6" fill="#66c2a5" fill-opacity="0.6" stroke="#444" stroke-width="0.35" stroke-opacity="0.75"/>
<circle cx="437.01" cy="252.64" r="1.6" fill="#66c2a5" fill-opacity="0.6" stroke="#444" stroke-width="0.35" stroke-opacity="0.75"/>
<circle cx="437.78" cy="256.12" r="1.6" fill="#66c2a5" fill-opacity="0.6" stroke="#444" stroke-width="0.35" stroke-opacity="0.75"/>
<circle cx="437.08" cy="259.84" r="1.6" fill="#66c2a5" fill-opacity="0.6" stroke="#444" stroke-width="0.35" stroke-opacity="0.75"/>
<circle cx="437.59" cy="277.08" r="1.6" fill="#66c2a5" fill-opacity="0.6" stroke="#444" stroke-width="0.35" stroke-opacity="0.75"/>
<circle cx="436.84" cy="265.37" r="1.6" fill="#66c2a5" fill-opacity="0.6" stroke="#444" stroke-width="0.35" stroke-opacity="0.75"/>
<circle cx="435.72" cy="253.49" r="1.6" fill="#66c2a5" fill-opacity="0.6" stroke="#444" stroke-width="0.35" stroke-opacity="0.75"/>
<circle cx="434.54" cy="277.73" r="1.6" fill="#66c2a5" fill-opacity="0.6" stroke="#444" stroke-width="0.35" stroke-opacity="0.75"/>
<circle cx="436.63" cy="260.34" r="1.6" fill="#66c2a5" fill-opacity="0.6" stroke="#444" stroke-width="0.35" stroke-opacity="0.75"/>
<circle cx="434.97" cy="266.56" r="1.6" fill="#66c2a5" fill-opacity="0.6" stroke="#444" stroke-width="0.35" stroke-opacity="0.75"/>
<circle cx="433.94" cy="279.29" r="1.6" fill="#66c2a5" fill-opacity="0.6" stroke="#444" stroke-width="0.35" stroke-opacity="0.75"/>
<circle cx="435.6" cy="265.74" r="1.6" fill="#66c2a5" fill-opacity="0.6" stroke="#444" stroke-width="0.35" stroke-opacity="0.75"/>
<circle cx="437.65" cy="266.66" r="1.6" fill="#66c2a5" fill-opacity="0.6" stroke="#444" stroke-width="0.35" stroke-opacity="0.75"/>
<circle cx="434.07" cy="266.73" r="1.6" fill="#66c2a5" fill-opacity="0.6" stroke="#444" stroke-width="0.35" stroke-opacity="0.75"/>
<circle cx="436.26" cy="253.35" r="1.6" fill="#66c2a5" fill-opacity="0.6" stroke="#444" stroke-width="0.35" stroke-opacity="0.75"/>
<circle cx="435.34" cy="278.81" r="1.6" fill="#66c2a5" fill-opacity="0.6" stroke="#444" stroke-width="0.35" stroke-opacity="0.75"/>
<circle cx="435.93" cy="260.93" r="1.6" fill="#66c2a5" fill-opacity="0.6" stroke="#444" stroke-width="0.35" stroke-opacity="0.75"/>
<circle cx="434.15" cy="246.2" r="1.6" fill="#66c2a5" fill-opacity="0.6" stroke="#444" stroke-width="0.35" stroke-opacity="0.75"/>
<circle cx="438.06" cy="284.78" r="1.6" fill="#66c2a5" fill-opacity="0.6" stroke="#444" stroke-width="0.35" stroke-opacity="0.75"/>
<path d="M449.57 247.33V245.8M449.57 265.09V268.93M446.21 245.8H452.94M446.21 268.93H452.94" stroke="#777" stroke-width="0.6" fill="none"/>
<rect x="442.85" y="247.33" width="13.45" height="17.76" fill="#e8906e" stroke="#606060" stroke-width="0.45"/>
<path d="M442.85 255.88H456.3" stroke="#606060" stroke-width="0.55" fill="none"/>
<circle cx="449.4" cy="268.93" r="1.6" fill="#fc8d62" fill-opacity="0.6" stroke="#444" stroke-width="0.35" stroke-opacity="0.75"/>
<circle cx="448.66" cy="265.09" r="1.6" fill="#fc8d62" fill-opacity="0.6" stroke="#444" stroke-width="0.35" stroke-opacity="0.75"/>
<circle cx="450.26" cy="255.88" r="1.6" fill="#fc8d62" fill-opacity="0.6" stroke="#444" stroke-width="0.35" stroke-opacity="0.75"/>
<circle cx="448.19" cy="247.33" r="1.6" fill="#fc8d62" fill-opacity="0.6" stroke="#444" stroke-width="0.35" stroke-opacity="0.75"/>
<circle cx="451.53" cy="245.8" r="1.6" fill="#fc8d62" fill-opacity="0.6" stroke="#444" stroke-width="0.35" stroke-opacity="0.75"/>
<circle cx="451.8" cy="293.37" r="1.6" fill="#fc8d62" fill-opacity="0.6" stroke="#444" stroke-width="0.35" stroke-opacity="0.75"/>
<circle cx="450.67" cy="300.6" r="1.6" fill="#fc8d62" fill-opacity="0.6" stroke="#444" stroke-width="0.35" stroke-opacity="0.75"/>
<circle cx="449.26" cy="304.44" r="1.6" fill="#fc8d62" fill-opacity="0.6" stroke="#444" stroke-width="0.35" stroke-opacity="0.75"/>
<circle cx="449.63" cy="254.91" r="1.6" fill="#fc8d62" fill-opacity="0.6" stroke="#444" stroke-width="0.35" stroke-opacity="0.75"/>
<circle cx="449.96" cy="264.77" r="1.6" fill="#fc8d62" fill-opacity="0.6" stroke="#444" stroke-width="0.35" stroke-opacity="0.75"/>
<circle cx="447.42" cy="262.59" r="1.6" fill="#fc8d62" fill-opacity="0.6" stroke="#444" stroke-width="0.35" stroke-opacity="0.75"/>
<circle cx="449.18" cy="268.15" r="1.6" fill="#fc8d62" fill-opacity="0.6" stroke="#444" stroke-width="0.35" stroke-opacity="0.75"/>
<circle cx="449.7" cy="266.71" r="1.6" fill="#fc8d62" fill-opacity="0.6" stroke="#444" stroke-width="0.35" stroke-opacity="0.75"/>
<circle cx="448.04" cy="256.07" r="1.6" fill="#fc8d62" fill-opacity="0.6" stroke="#444" stroke-width="0.35" stroke-opacity="0.75"/>
<circle cx="447.63" cy="248.5" r="1.6" fill="#fc8d62" fill-opacity="0.6" stroke="#444" stroke-width="0.35" stroke-opacity="0.75"/>
<circle cx="451.03" cy="260.96" r="1.6" fill="#fc8d62" fill-opacity="0.6" stroke="#444" stroke-width="0.35" stroke-opacity="0.75"/>
<circle cx="448.93" cy="260.64" r="1.6" fill="#fc8d62" fill-opacity="0.6" stroke="#444" stroke-width="0.35" stroke-opacity="0.75"/>
<circle cx="449.67" cy="254.01" r="1.6" fill="#fc8d62" fill-opacity="0.6" stroke="#444" stroke-width="0.35" stroke-opacity="0.75"/>
<circle cx="451.6" cy="252.49" r="1.6" fill="#fc8d62" fill-opacity="0.6" stroke="#444" stroke-width="0.35" stroke-opacity="0.75"/>
<circle cx="450.11" cy="259.14" r="1.6" fill="#fc8d62" fill-opacity="0.6" stroke="#444" stroke-width="0.35" stroke-opacity="0.75"/>
<circle cx="448.56" cy="265" r="1.6" fill="#fc8d62" fill-opacity="0.6" stroke="#444" stroke-width="0.35" stroke-opacity="0.75"/>
<circle cx="451.9" cy="259.47" r="1.6" fill="#fc8d62" fill-opacity="0.6" stroke="#444" stroke-width="0.35" stroke-opacity="0.75"/>
<circle cx="448.96" cy="252.19" r="1.6" fill="#fc8d62" fill-opacity="0.6" stroke="#444" stroke-width="0.35" stroke-opacity="0.75"/>
<circle cx="447.27" cy="266.62" r="1.6" fill="#fc8d62" fill-opacity="0.6" stroke="#444" stroke-width="0.35" stroke-opacity="0.75"/>
<circle cx="450.46" cy="263.57" r="1.6" fill="#fc8d62" fill-opacity="0.6" stroke="#444" stroke-width="0.35" stroke-opacity="0.75"/>
<circle cx="447.66" cy="256.88" r="1.6" fill="#fc8d62" fill-opacity="0.6" stroke="#444" stroke-width="0.35" stroke-opacity="0.75"/>
<path d="M463.3 252.7V245.8M463.3 266.19V282.08M459.93 245.8H466.66M459.93 282.08H466.66" stroke="#777" stroke-width="0.6" fill="none"/>
<rect x="456.57" y="252.7" width="13.45" height="13.48" fill="#93a2c4" stroke="#606060" stroke-width="0.45"/>
<path d="M456.57 258.18H470.02" stroke="#606060" stroke-width="0.55" fill="none"/>
<circle cx="463.29" cy="282.08" r="1.6" fill="#8da0cb" fill-opacity="0.6" stroke="#444" stroke-width="0.35" stroke-opacity="0.75"/>
<circle cx="462.61" cy="266.19" r="1.6" fill="#8da0cb" fill-opacity="0.6" stroke="#444" stroke-width="0.35" stroke-opacity="0.75"/>
<circle cx="463.09" cy="258.18" r="1.6" fill="#8da0cb" fill-opacity="0.6" stroke="#444" stroke-width="0.35" stroke-opacity="0.75"/>
<circle cx="464.73" cy="252.7" r="1.6" fill="#8da0cb" fill-opacity="0.6" stroke="#444" stroke-width="0.35" stroke-opacity="0.75"/>
<circle cx="462.19" cy="245.8" r="1.6" fill="#8da0cb" fill-opacity="0.6" stroke="#444" stroke-width="0.35" stroke-opacity="0.75"/>
<circle cx="463.42" cy="289.64" r="1.6" fill="#8da0cb" fill-opacity="0.6" stroke="#444" stroke-width="0.35" stroke-opacity="0.75"/>
<circle cx="463.19" cy="297.31" r="1.6" fill="#8da0cb" fill-opacity="0.6" stroke="#444" stroke-width="0.35" stroke-opacity="0.75"/>
<circle cx="465.48" cy="299.5" r="1.6" fill="#8da0cb" fill-opacity="0.6" stroke="#444" stroke-width="0.35" stroke-opacity="0.75"/>
<circle cx="464.76" cy="301.7" r="1.6" fill="#8da0cb" fill-opacity="0.6" stroke="#444" stroke-width="0.35" stroke-opacity="0.75"/>
<circle cx="465.37" cy="303.89" r="1.6" fill="#8da0cb" fill-opacity="0.6" stroke="#444" stroke-width="0.35" stroke-opacity="0.75"/>
<circle cx="464.91" cy="251.58" r="1.6" fill="#8da0cb" fill-opacity="0.6" stroke="#444" stroke-width="0.35" stroke-opacity="0.75"/>
<circle cx="462.32" cy="265.97" r="1.6" fill="#8da0cb" fill-opacity="0.6" stroke="#444" stroke-width="0.35" stroke-opacity="0.75"/>
<circle cx="462.01" cy="260.65" r="1.6" fill="#8da0cb" fill-opacity="0.6" stroke="#444" stroke-width="0.35" stroke-opacity="0.75"/>
<circle cx="463.24" cy="263.38" r="1.6" fill="#8da0cb" fill-opacity="0.6" stroke="#444" stroke-width="0.35" stroke-opacity="0.75"/>
<circle cx="462.14" cy="265.19" r="1.6" fill="#8da0cb" fill-opacity="0.6" stroke="#444" stroke-width="0.35" stroke-opacity="0.75"/>
<circle cx="462.95" cy="268.55" r="1.6" fill="#8da0cb" fill-opacity="0.6" stroke="#444" stroke-width="0.35" stroke-opacity="0.75"/>
<circle cx="464.15" cy="265.15" r="1.6" fill="#8da0cb" fill-opacity="0.6" stroke="#444" stroke-width="0.35" stroke-opacity="0.75"/>
<circle cx="465.3" cy="263.59" r="1.6" fill="#8da0cb" fill-opacity="0.6" stroke="#444" stroke-width="0.35" stroke-opacity="0.75"/>
<circle cx="463.71" cy="260.9" r="1.6" fill="#8da0cb" fill-opacity="0.6" stroke="#444" stroke-width="0.35" stroke-opacity="0.75"/>
<circle cx="464.82" cy="256.03" r="1.6" fill="#8da0cb" fill-opacity="0.6" stroke="#444" stroke-width="0.35" stroke-opacity="0.75"/>
<circle cx="461.36" cy="277.66" r="1.6" fill="#8da0cb" fill-opacity="0.6" stroke="#444" stroke-width="0.35" stroke-opacity="0.75"/>
<circle cx="462.6" cy="279.16" r="1.6" fill="#8da0cb" fill-opacity="0.6" stroke="#444" stroke-width="0.35" stroke-opacity="0.75"/>
<circle cx="465.68" cy="257.54" r="1.6" fill="#8da0cb" fill-opacity="0.6" stroke="#444" stroke-width="0.35" stroke-opacity="0.75"/>
<circle cx="461.6" cy="256.85" r="1.6" fill="#8da0cb" fill-opacity="0.6" stroke="#444" stroke-width="0.35" stroke-opacity="0.75"/>
<circle cx="462.9" cy="258.16" r="1.6" fill="#8da0cb" fill-opacity="0.6" stroke="#444" stroke-width="0.35" stroke-opacity="0.75"/>
<circle cx="461.22" cy="256.43" r="1.6" fill="#8da0cb" fill-opacity="0.6" stroke="#444" stroke-width="0.35" stroke-opacity="0.75"/>
<path d="M487.3 253.91V245.8M487.3 269.47V271.45M483.94 245.8H490.67M483.94 271.45H490.67" stroke="#777" stroke-width="0.6" fill="none"/>
<rect x="480.58" y="253.91" width="13.45" height="15.56" fill="#6cb89f" stroke="#606060" stroke-width="0.45"/>
<path d="M480.58 258.95H494.03" stroke="#606060" stroke-width="0.55" fill="none"/>
<circle cx="487.42" cy="271.45" r="1.6" fill="#66c2a5" fill-opacity="0.6" stroke="#444" stroke-width="0.35" stroke-opacity="0.75"/>
<circle cx="485.44" cy="269.47" r="1.6" fill="#66c2a5" fill-opacity="0.6" stroke="#444" stroke-width="0.35" stroke-opacity="0.75"/>
<circle cx="487.5" cy="258.95" r="1.6" fill="#66c2a5" fill-opacity="0.6" stroke="#444" stroke-width="0.35" stroke-opacity="0.75"/>
<circle cx="489.46" cy="253.91" r="1.6" fill="#66c2a5" fill-opacity="0.6" stroke="#444" stroke-width="0.35" stroke-opacity="0.75"/>
<circle cx="488.53" cy="245.8" r="1.6" fill="#66c2a5" fill-opacity="0.6" stroke="#444" stroke-width="0.35" stroke-opacity="0.75"/>
<circle cx="485.37" cy="301.04" r="1.6" fill="#66c2a5" fill-opacity="0.6" stroke="#444" stroke-width="0.35" stroke-opacity="0.75"/>
<circle cx="487.38" cy="248.48" r="1.6" fill="#66c2a5" fill-opacity="0.6" stroke="#444" stroke-width="0.35" stroke-opacity="0.75"/>
<circle cx="488.34" cy="259.39" r="1.6" fill="#66c2a5" fill-opacity="0.6" stroke="#444" stroke-width="0.35" stroke-opacity="0.75"/>
<circle cx="486.14" cy="263.85" r="1.6" fill="#66c2a5" fill-opacity="0.6" stroke="#444" stroke-width="0.35" stroke-opacity="0.75"/>
<circle cx="489.2" cy="254.24" r="1.6" fill="#66c2a5" fill-opacity="0.6" stroke="#444" stroke-width="0.35" stroke-opacity="0.75"/>
<circle cx="487.12" cy="262.64" r="1.6" fill="#66c2a5" fill-opacity="0.6" stroke="#444" stroke-width="0.35" stroke-opacity="0.75"/>
<path d="M501.02 251.17V245.8M501.02 267.72V270.35M497.66 245.8H504.39M497.66 270.35H504.39" stroke="#777" stroke-width="0.6" fill="none"/>
<rect x="494.3" y="251.17" width="13.45" height="16.55" fill="#e8906e" stroke="#606060" stroke-width="0.45"/>
<path d="M494.3 257.2H507.75" stroke="#606060" stroke-width="0.55" fill="none"/>
<circle cx="501.48" cy="270.35" r="1.6" fill="#fc8d62" fill-opacity="0.6" stroke="#444" stroke-width="0.35" stroke-opacity="0.75"/>
<circle cx="502.86" cy="267.72" r="1.6" fill="#fc8d62" fill-opacity="0.6" stroke="#444" stroke-width="0.35" stroke-opacity="0.75"/>
<circle cx="499.49" cy="257.2" r="1.6" fill="#fc8d62" fill-opacity="0.6" stroke="#444" stroke-width="0.35" stroke-opacity="0.75"/>
<circle cx="501.07" cy="251.17" r="1.6" fill="#fc8d62" fill-opacity="0.6" stroke="#444" stroke-width="0.35" stroke-opacity="0.75"/>
<circle cx="500.94" cy="245.8" r="1.6" fill="#fc8d62" fill-opacity="0.6" stroke="#444" stroke-width="0.35" stroke-opacity="0.75"/>
<circle cx="500.57" cy="301.37" r="1.6" fill="#fc8d62" fill-opacity="0.6" stroke="#444" stroke-width="0.35" stroke-opacity="0.75"/>
<circle cx="502.04" cy="301.7" r="1.6" fill="#fc8d62" fill-opacity="0.6" stroke="#444" stroke-width="0.35" stroke-opacity="0.75"/>
<circle cx="503.12" cy="261.03" r="1.6" fill="#fc8d62" fill-opacity="0.6" stroke="#444" stroke-width="0.35" stroke-opacity="0.75"/>
<circle cx="502.01" cy="254.76" r="1.6" fill="#fc8d62" fill-opacity="0.6" stroke="#444" stroke-width="0.35" stroke-opacity="0.75"/>
<circle cx="500.89" cy="265.32" r="1.6" fill="#fc8d62" fill-opacity="0.6" stroke="#444" stroke-width="0.35" stroke-opacity="0.75"/>
<circle cx="503.24" cy="267.23" r="1.6" fill="#fc8d62" fill-opacity="0.6" stroke="#444" stroke-width="0.35" stroke-opacity="0.75"/>
<path d="M514.75 255.23V245.8M514.75 271.45V276.16M511.38 245.8H518.11M511.38 276.16H518.11" stroke="#777" stroke-width="0.6" fill="none"/>
<rect x="508.02" y="255.23" width="13.45" height="16.22" fill="#93a2c4" stroke="#606060" stroke-width="0.45"/>
<path d="M508.02 260.92H521.47" stroke="#606060" stroke-width="0.55" fill="none"/>
<circle cx="515.39" cy="276.16" r="1.6" fill="#8da0cb" fill-opacity="0.6" stroke="#444" stroke-width="0.35" stroke-opacity="0.75"/>
<circle cx="512.4" cy="271.45" r="1.6" fill="#8da0cb" fill-opacity="0.6" stroke="#444" stroke-width="0.35" stroke-opacity="0.75"/>
<circle cx="514.57" cy="260.92" r="1.6" fill="#8da0cb" fill-opacity="0.6" stroke="#444" stroke-width="0.35" stroke-opacity="0.75"/>
<circle cx="515.76" cy="255.23" r="1.6" fill="#8da0cb" fill-opacity="0.6" stroke="#444" stroke-width="0.35" stroke-opacity="0.75"/>
<circle cx="516.58" cy="245.8" r="1.6" fill="#8da0cb" fill-opacity="0.6" stroke="#444" stroke-width="0.35" stroke-opacity="0.75"/>
<circle cx="515.47" cy="301.04" r="1.6" fill="#8da0cb" fill-opacity="0.6" stroke="#444" stroke-width="0.35" stroke-opacity="0.75"/>
<circle cx="516.26" cy="253.52" r="1.6" fill="#8da0cb" fill-opacity="0.6" stroke="#444" stroke-width="0.35" stroke-opacity="0.75"/>
<circle cx="512.43" cy="259.09" r="1.6" fill="#8da0cb" fill-opacity="0.6" stroke="#444" stroke-width="0.35" stroke-opacity="0.75"/>
<circle cx="516.87" cy="267.8" r="1.6" fill="#8da0cb" fill-opacity="0.6" stroke="#444" stroke-width="0.35" stroke-opacity="0.75"/>
<circle cx="515.85" cy="264.91" r="1.6" fill="#8da0cb" fill-opacity="0.6" stroke="#444" stroke-width="0.35" stroke-opacity="0.75"/>
<circle cx="515.26" cy="255.59" r="1.6" fill="#8da0cb" fill-opacity="0.6" stroke="#444" stroke-width="0.35" stroke-opacity="0.75"/>
<path d="M538.75 246.9V245.8M538.75 251.28V255.99M535.39 245.8H542.12M535.39 255.99H542.12" stroke="#777" stroke-width="0.6" fill="none"/>
<rect x="532.03" y="246.9" width="13.45" height="4.38" fill="#6cb89f" stroke="#606060" stroke-width="0.45"/>
<path d="M532.03 249.42H545.48" stroke="#606060" stroke-width="0.55" fill="none"/>
<circle cx="538.59" cy="255.99" r="1.6" fill="#66c2a5" fill-opacity="0.6" stroke="#444" stroke-width="0.35" stroke-opacity="0.75"/>
<circle cx="537.77" cy="251.28" r="1.6" fill="#66c2a5" fill-opacity="0.6" stroke="#444" stroke-width="0.35" stroke-opacity="0.75"/>
<circle cx="536.4" cy="249.42" r="1.6" fill="#66c2a5" fill-opacity="0.6" stroke="#444" stroke-width="0.35" stroke-opacity="0.75"/>
<circle cx="539.03" cy="246.9" r="1.6" fill="#66c2a5" fill-opacity="0.6" stroke="#444" stroke-width="0.35" stroke-opacity="0.75"/>
<circle cx="541" cy="245.8" r="1.6" fill="#66c2a5" fill-opacity="0.6" stroke="#444" stroke-width="0.35" stroke-opacity="0.75"/>
<circle cx="538.11" cy="263.88" r="1.6" fill="#66c2a5" fill-opacity="0.6" stroke="#444" stroke-width="0.35" stroke-opacity="0.75"/>
<circle cx="538.94" cy="267.72" r="1.6" fill="#66c2a5" fill-opacity="0.6" stroke="#444" stroke-width="0.35" stroke-opacity="0.75"/>
<circle cx="538.19" cy="247.4" r="1.6" fill="#66c2a5" fill-opacity="0.6" stroke="#444" stroke-width="0.35" stroke-opacity="0.75"/>
<circle cx="538.48" cy="247.68" r="1.6" fill="#66c2a5" fill-opacity="0.6" stroke="#444" stroke-width="0.35" stroke-opacity="0.75"/>
<circle cx="540.53" cy="250.41" r="1.6" fill="#66c2a5" fill-opacity="0.6" stroke="#444" stroke-width="0.35" stroke-opacity="0.75"/>
<circle cx="537.84" cy="248.71" r="1.6" fill="#66c2a5" fill-opacity="0.6" stroke="#444" stroke-width="0.35" stroke-opacity="0.75"/>
<circle cx="539.47" cy="247.8" r="1.6" fill="#66c2a5" fill-opacity="0.6" stroke="#444" stroke-width="0.35" stroke-opacity="0.75"/>
<circle cx="538.68" cy="249.75" r="1.6" fill="#66c2a5" fill-opacity="0.6" stroke="#444" stroke-width="0.35" stroke-opacity="0.75"/>
<circle cx="538.94" cy="250.17" r="1.6" fill="#66c2a5" fill-opacity="0.6" stroke="#444" stroke-width="0.35" stroke-opacity="0.75"/>
<circle cx="540.75" cy="249.23" r="1.6" fill="#66c2a5" fill-opacity="0.6" stroke="#444" stroke-width="0.35" stroke-opacity="0.75"/>
<circle cx="536.72" cy="246.14" r="1.6" fill="#66c2a5" fill-opacity="0.6" stroke="#444" stroke-width="0.35" stroke-opacity="0.75"/>
<circle cx="540.31" cy="255.96" r="1.6" fill="#66c2a5" fill-opacity="0.6" stroke="#444" stroke-width="0.35" stroke-opacity="0.75"/>
<circle cx="537.82" cy="247.61" r="1.6" fill="#66c2a5" fill-opacity="0.6" stroke="#444" stroke-width="0.35" stroke-opacity="0.75"/>
<circle cx="539.46" cy="247.97" r="1.6" fill="#66c2a5" fill-opacity="0.6" stroke="#444" stroke-width="0.35" stroke-opacity="0.75"/>
<circle cx="540.18" cy="248.32" r="1.6" fill="#66c2a5" fill-opacity="0.6" stroke="#444" stroke-width="0.35" stroke-opacity="0.75"/>
<circle cx="539.49" cy="253.27" r="1.6" fill="#66c2a5" fill-opacity="0.6" stroke="#444" stroke-width="0.35" stroke-opacity="0.75"/>
<circle cx="538.24" cy="251.16" r="1.6" fill="#66c2a5" fill-opacity="0.6" stroke="#444" stroke-width="0.35" stroke-opacity="0.75"/>
<circle cx="540.39" cy="248.31" r="1.6" fill="#66c2a5" fill-opacity="0.6" stroke="#444" stroke-width="0.35" stroke-opacity="0.75"/>
<circle cx="536.8" cy="248.35" r="1.6" fill="#66c2a5" fill-opacity="0.6" stroke="#444" stroke-width="0.35" stroke-opacity="0.75"/>
<circle cx="539.39" cy="249.51" r="1.6" fill="#66c2a5" fill-opacity="0.6" stroke="#444" stroke-width="0.35" stroke-opacity="0.75"/>
<circle cx="538.23" cy="247.83" r="1.6" fill="#66c2a5" fill-opacity="0.6" stroke="#444" stroke-width="0.35" stroke-opacity="0.75"/>
<circle cx="538.9" cy="250.69" r="1.6" fill="#66c2a5" fill-opacity="0.6" stroke="#444" stroke-width="0.35" stroke-opacity="0.75"/>
<circle cx="540.44" cy="252.1" r="1.6" fill="#66c2a5" fill-opacity="0.6" stroke="#444" stroke-width="0.35" stroke-opacity="0.75"/>
<path d="M552.48 245.91V245.8M552.48 250.4V256.43M549.11 245.8H555.84M549.11 256.43H555.84" stroke="#777" stroke-width="0.6" fill="none"/>
<rect x="545.75" y="245.91" width="13.45" height="4.49" fill="#e8906e" stroke="#606060" stroke-width="0.45"/>
<path d="M545.75 248.21H559.2" stroke="#606060" stroke-width="0.55" fill="none"/>
<circle cx="554.25" cy="256.43" r="1.6" fill="#fc8d62" fill-opacity="0.6" stroke="#444" stroke-width="0.35" stroke-opacity="0.75"/>
<circle cx="554.57" cy="250.4" r="1.6" fill="#fc8d62" fill-opacity="0.6" stroke="#444" stroke-width="0.35" stroke-opacity="0.75"/>
<circle cx="553.69" cy="248.21" r="1.6" fill="#fc8d62" fill-opacity="0.6" stroke="#444" stroke-width="0.35" stroke-opacity="0.75"/>
<circle cx="554.77" cy="245.91" r="1.6" fill="#fc8d62" fill-opacity="0.6" stroke="#444" stroke-width="0.35" stroke-opacity="0.75"/>
<circle cx="551.47" cy="245.8" r="1.6" fill="#fc8d62" fill-opacity="0.6" stroke="#444" stroke-width="0.35" stroke-opacity="0.75"/>
<circle cx="553.06" cy="263.88" r="1.6" fill="#fc8d62" fill-opacity="0.6" stroke="#444" stroke-width="0.35" stroke-opacity="0.75"/>
<circle cx="553.29" cy="247.58" r="1.6" fill="#fc8d62" fill-opacity="0.6" stroke="#444" stroke-width="0.35" stroke-opacity="0.75"/>
<circle cx="551.84" cy="253.96" r="1.6" fill="#fc8d62" fill-opacity="0.6" stroke="#444" stroke-width="0.35" stroke-opacity="0.75"/>
<circle cx="551.97" cy="249.36" r="1.6" fill="#fc8d62" fill-opacity="0.6" stroke="#444" stroke-width="0.35" stroke-opacity="0.75"/>
<circle cx="550.91" cy="246.25" r="1.6" fill="#fc8d62" fill-opacity="0.6" stroke="#444" stroke-width="0.35" stroke-opacity="0.75"/>
<circle cx="554.67" cy="247.73" r="1.6" fill="#fc8d62" fill-opacity="0.6" stroke="#444" stroke-width="0.35" stroke-opacity="0.75"/>
<circle cx="551.77" cy="252.56" r="1.6" fill="#fc8d62" fill-opacity="0.6" stroke="#444" stroke-width="0.35" stroke-opacity="0.75"/>
<circle cx="552.36" cy="255.61" r="1.6" fill="#fc8d62" fill-opacity="0.6" stroke="#444" stroke-width="0.35" stroke-opacity="0.75"/>
<circle cx="554.36" cy="249.66" r="1.6" fill="#fc8d62" fill-opacity="0.6" stroke="#444" stroke-width="0.35" stroke-opacity="0.75"/>
<circle cx="550.97" cy="249.09" r="1.6" fill="#fc8d62" fill-opacity="0.6" stroke="#444" stroke-width="0.35" stroke-opacity="0.75"/>
<circle cx="554.69" cy="246.26" r="1.6" fill="#fc8d62" fill-opacity="0.6" stroke="#444" stroke-width="0.35" stroke-opacity="0.75"/>
<circle cx="550.68" cy="247.53" r="1.6" fill="#fc8d62" fill-opacity="0.6" stroke="#444" stroke-width="0.35" stroke-opacity="0.75"/>
<circle cx="550.21" cy="248.94" r="1.6" fill="#fc8d62" fill-opacity="0.6" stroke="#444" stroke-width="0.35" stroke-opacity="0.75"/>
<circle cx="551.76" cy="253.9" r="1.6" fill="#fc8d62" fill-opacity="0.6" stroke="#444" stroke-width="0.35" stroke-opacity="0.75"/>
<circle cx="551.8" cy="249.22" r="1.6" fill="#fc8d62" fill-opacity="0.6" stroke="#444" stroke-width="0.35" stroke-opacity="0.75"/>
<circle cx="554.48" cy="252.65" r="1.6" fill="#fc8d62" fill-opacity="0.6" stroke="#444" stroke-width="0.35" stroke-opacity="0.75"/>
<circle cx="554.31" cy="249.36" r="1.6" fill="#fc8d62" fill-opacity="0.6" stroke="#444" stroke-width="0.35" stroke-opacity="0.75"/>
<circle cx="553.73" cy="247.56" r="1.6" fill="#fc8d62" fill-opacity="0.6" stroke="#444" stroke-width="0.35" stroke-opacity="0.75"/>
<circle cx="552.17" cy="246.7" r="1.6" fill="#fc8d62" fill-opacity="0.6" stroke="#444" stroke-width="0.35" stroke-opacity="0.75"/>
<circle cx="552.68" cy="247.09" r="1.6" fill="#fc8d62" fill-opacity="0.6" stroke="#444" stroke-width="0.35" stroke-opacity="0.75"/>
<circle cx="551.21" cy="248.14" r="1.6" fill="#fc8d62" fill-opacity="0.6" stroke="#444" stroke-width="0.35" stroke-opacity="0.75"/>
<circle cx="554.08" cy="246.14" r="1.6" fill="#fc8d62" fill-opacity="0.6" stroke="#444" stroke-width="0.35" stroke-opacity="0.75"/>
<circle cx="551.95" cy="247.03" r="1.6" fill="#fc8d62" fill-opacity="0.6" stroke="#444" stroke-width="0.35" stroke-opacity="0.75"/>
<path d="M566.2 245.91V245.8M566.2 251.28V256.43M562.83 245.8H569.56M562.83 256.43H569.56" stroke="#777" stroke-width="0.6" fill="none"/>
<rect x="559.47" y="245.91" width="13.45" height="5.37" fill="#93a2c4" stroke="#606060" stroke-width="0.45"/>
<path d="M559.47 248.21H572.92" stroke="#606060" stroke-width="0.55" fill="none"/>
<circle cx="565.98" cy="256.43" r="1.6" fill="#8da0cb" fill-opacity="0.6" stroke="#444" stroke-width="0.35" stroke-opacity="0.75"/>
<circle cx="565.77" cy="251.28" r="1.6" fill="#8da0cb" fill-opacity="0.6" stroke="#444" stroke-width="0.35" stroke-opacity="0.75"/>
<circle cx="566.31" cy="248.21" r="1.6" fill="#8da0cb" fill-opacity="0.6" stroke="#444" stroke-width="0.35" stroke-opacity="0.75"/>
<circle cx="564.02" cy="245.91" r="1.6" fill="#8da0cb" fill-opacity="0.6" stroke="#444" stroke-width="0.35" stroke-opacity="0.75"/>
<circle cx="564.31" cy="245.8" r="1.6" fill="#8da0cb" fill-opacity="0.6" stroke="#444" stroke-width="0.35" stroke-opacity="0.75"/>
<circle cx="568.57" cy="263.88" r="1.6" fill="#8da0cb" fill-opacity="0.6" stroke="#444" stroke-width="0.35" stroke-opacity="0.75"/>
<circle cx="564.41" cy="273.31" r="1.6" fill="#8da0cb" fill-opacity="0.6" stroke="#444" stroke-width="0.35" stroke-opacity="0.75"/>
<circle cx="568.29" cy="249.65" r="1.6" fill="#8da0cb" fill-opacity="0.6" stroke="#444" stroke-width="0.35" stroke-opacity="0.75"/>
<circle cx="567.06" cy="253.07" r="1.6" fill="#8da0cb" fill-opacity="0.6" stroke="#444" stroke-width="0.35" stroke-opacity="0.75"/>
<circle cx="568.19" cy="250.77" r="1.6" fill="#8da0cb" fill-opacity="0.6" stroke="#444" stroke-width="0.35" stroke-opacity="0.75"/>
<circle cx="564.17" cy="254.26" r="1.6" fill="#8da0cb" fill-opacity="0.6" stroke="#444" stroke-width="0.35" stroke-opacity="0.75"/>
<circle cx="565.26" cy="251.96" r="1.6" fill="#8da0cb" fill-opacity="0.6" stroke="#444" stroke-width="0.35" stroke-opacity="0.75"/>
<circle cx="567.63" cy="252.79" r="1.6" fill="#8da0cb" fill-opacity="0.6" stroke="#444" stroke-width="0.35" stroke-opacity="0.75"/>
<circle cx="563.84" cy="253.88" r="1.6" fill="#8da0cb" fill-opacity="0.6" stroke="#444" stroke-width="0.35" stroke-opacity="0.75"/>
<circle cx="564.3" cy="249.47" r="1.6" fill="#8da0cb" fill-opacity="0.6" stroke="#444" stroke-width="0.35" stroke-opacity="0.75"/>
<circle cx="565.48" cy="248.27" r="1.6" fill="#8da0cb" fill-opacity="0.6" stroke="#444" stroke-width="0.35" stroke-opacity="0.75"/>
<circle cx="564.63" cy="254.9" r="1.6" fill="#8da0cb" fill-opacity="0.6" stroke="#444" stroke-width="0.35" stroke-opacity="0.75"/>
<circle cx="564.5" cy="248.97" r="1.6" fill="#8da0cb" fill-opacity="0.6" stroke="#444" stroke-width="0.35" stroke-opacity="0.75"/>
<circle cx="567.01" cy="250.57" r="1.6" fill="#8da0cb" fill-opacity="0.6" stroke="#444" stroke-width="0.35" stroke-opacity="0.75"/>
<circle cx="564.24" cy="246.74" r="1.6" fill="#8da0cb" fill-opacity="0.6" stroke="#444" stroke-width="0.35" stroke-opacity="0.75"/>
<circle cx="568.46" cy="248.26" r="1.6" fill="#8da0cb" fill-opacity="0.6" stroke="#444" stroke-width="0.35" stroke-opacity="0.75"/>
<circle cx="566.91" cy="249.16" r="1.6" fill="#8da0cb" fill-opacity="0.6" stroke="#444" stroke-width="0.35" stroke-opacity="0.75"/>
<circle cx="564.03" cy="249.17" r="1.6" fill="#8da0cb" fill-opacity="0.6" stroke="#444" stroke-width="0.35" stroke-opacity="0.75"/>
<circle cx="568.11" cy="247.95" r="1.6" fill="#8da0cb" fill-opacity="0.6" stroke="#444" stroke-width="0.35" stroke-opacity="0.75"/>
<circle cx="564.95" cy="247.53" r="1.6" fill="#8da0cb" fill-opacity="0.6" stroke="#444" stroke-width="0.35" stroke-opacity="0.75"/>
<circle cx="566.11" cy="248.12" r="1.6" fill="#8da0cb" fill-opacity="0.6" stroke="#444" stroke-width="0.35" stroke-opacity="0.75"/>
<circle cx="566.48" cy="245.99" r="1.6" fill="#8da0cb" fill-opacity="0.6" stroke="#444" stroke-width="0.35" stroke-opacity="0.75"/>
<circle cx="564.46" cy="246.76" r="1.6" fill="#8da0cb" fill-opacity="0.6" stroke="#444" stroke-width="0.35" stroke-opacity="0.75"/>
<path d="M590.2 245.8V245.8M590.2 248.54V251.61M586.84 245.8H593.57M586.84 251.61H593.57" stroke="#777" stroke-width="0.6" fill="none"/>
<rect x="583.48" y="245.8" width="13.45" height="2.74" fill="#6cb89f" stroke="#606060" stroke-width="0.45"/>
<path d="M583.48 247.01H596.93" stroke="#606060" stroke-width="0.55" fill="none"/>
<circle cx="589.72" cy="251.61" r="1.6" fill="#66c2a5" fill-opacity="0.6" stroke="#444" stroke-width="0.35" stroke-opacity="0.75"/>
<circle cx="591.63" cy="248.54" r="1.6" fill="#66c2a5" fill-opacity="0.6" stroke="#444" stroke-width="0.35" stroke-opacity="0.75"/>
<circle cx="591.7" cy="247.01" r="1.6" fill="#66c2a5" fill-opacity="0.6" stroke="#444" stroke-width="0.35" stroke-opacity="0.75"/>
<circle cx="590.5" cy="245.8" r="1.6" fill="#66c2a5" fill-opacity="0.6" stroke="#444" stroke-width="0.35" stroke-opacity="0.75"/>
<circle cx="590.07" cy="245.8" r="1.6" fill="#66c2a5" fill-opacity="0.6" stroke="#444" stroke-width="0.35" stroke-opacity="0.75"/>
<circle cx="589.17" cy="253.14" r="1.6" fill="#66c2a5" fill-opacity="0.6" stroke="#444" stroke-width="0.35" stroke-opacity="0.75"/>
<circle cx="591.48" cy="301.48" r="1.6" fill="#66c2a5" fill-opacity="0.6" stroke="#444" stroke-width="0.35" stroke-opacity="0.75"/>
<circle cx="592.54" cy="248.37" r="1.6" fill="#66c2a5" fill-opacity="0.6" stroke="#444" stroke-width="0.35" stroke-opacity="0.75"/>
<circle cx="588.9" cy="246.27" r="1.6" fill="#66c2a5" fill-opacity="0.6" stroke="#444" stroke-width="0.35" stroke-opacity="0.75"/>
<circle cx="591.18" cy="247.11" r="1.6" fill="#66c2a5" fill-opacity="0.6" stroke="#444" stroke-width="0.35" stroke-opacity="0.75"/>
<circle cx="591.16" cy="246.14" r="1.6" fill="#66c2a5" fill-opacity="0.6" stroke="#444" stroke-width="0.35" stroke-opacity="0.75"/>
<circle cx="590.96" cy="248.75" r="1.6" fill="#66c2a5" fill-opacity="0.6" stroke="#444" stroke-width="0.35" stroke-opacity="0.75"/>
<circle cx="587.95" cy="250.93" r="1.6" fill="#66c2a5" fill-opacity="0.6" stroke="#444" stroke-width="0.35" stroke-opacity="0.75"/>
<circle cx="590.45" cy="250.38" r="1.6" fill="#66c2a5" fill-opacity="0.6" stroke="#444" stroke-width="0.35" stroke-opacity="0.75"/>
<circle cx="588.77" cy="250.36" r="1.6" fill="#66c2a5" fill-opacity="0.6" stroke="#444" stroke-width="0.35" stroke-opacity="0.75"/>
<circle cx="588.74" cy="247.99" r="1.6" fill="#66c2a5" fill-opacity="0.6" stroke="#444" stroke-width="0.35" stroke-opacity="0.75"/>
<circle cx="590.59" cy="246.06" r="1.6" fill="#66c2a5" fill-opacity="0.6" stroke="#444" stroke-width="0.35" stroke-opacity="0.75"/>
<circle cx="590.9" cy="247.15" r="1.6" fill="#66c2a5" fill-opacity="0.6" stroke="#444" stroke-width="0.35" stroke-opacity="0.75"/>
<circle cx="590.81" cy="248.09" r="1.6" fill="#66c2a5" fill-opacity="0.6" stroke="#444" stroke-width="0.35" stroke-opacity="0.75"/>
<circle cx="591.37" cy="246.86" r="1.6" fill="#66c2a5" fill-opacity="0.6" stroke="#444" stroke-width="0.35" stroke-opacity="0.75"/>
<circle cx="591.18" cy="247.96" r="1.6" fill="#66c2a5" fill-opacity="0.6" stroke="#444" stroke-width="0.35" stroke-opacity="0.75"/>
<circle cx="590.09" cy="249.88" r="1.6" fill="#66c2a5" fill-opacity="0.6" stroke="#444" stroke-width="0.35" stroke-opacity="0.75"/>
<circle cx="588.03" cy="247.37" r="1.6" fill="#66c2a5" fill-opacity="0.6" stroke="#444" stroke-width="0.35" stroke-opacity="0.75"/>
<path d="M603.92 245.8V245.8M603.92 248.54V250.18M600.56 245.8H607.29M600.56 250.18H607.29" stroke="#777" stroke-width="0.6" fill="none"/>
<rect x="597.2" y="245.8" width="13.45" height="2.74" fill="#e8906e" stroke="#606060" stroke-width="0.45"/>
<path d="M597.2 246.9H610.65" stroke="#606060" stroke-width="0.55" fill="none"/>
<circle cx="604.11" cy="250.18" r="1.6" fill="#fc8d62" fill-opacity="0.6" stroke="#444" stroke-width="0.35" stroke-opacity="0.75"/>
<circle cx="603.41" cy="248.54" r="1.6" fill="#fc8d62" fill-opacity="0.6" stroke="#444" stroke-width="0.35" stroke-opacity="0.75"/>
<circle cx="604.05" cy="246.9" r="1.6" fill="#fc8d62" fill-opacity="0.6" stroke="#444" stroke-width="0.35" stroke-opacity="0.75"/>
<circle cx="605.96" cy="245.8" r="1.6" fill="#fc8d62" fill-opacity="0.6" stroke="#444" stroke-width="0.35" stroke-opacity="0.75"/>
<circle cx="602.49" cy="245.8" r="1.6" fill="#fc8d62" fill-opacity="0.6" stroke="#444" stroke-width="0.35" stroke-opacity="0.75"/>
<circle cx="605.23" cy="255.01" r="1.6" fill="#fc8d62" fill-opacity="0.6" stroke="#444" stroke-width="0.35" stroke-opacity="0.75"/>
<circle cx="604.85" cy="301.48" r="1.6" fill="#fc8d62" fill-opacity="0.6" stroke="#444" stroke-width="0.35" stroke-opacity="0.75"/>
<circle cx="605.3" cy="246.28" r="1.6" fill="#fc8d62" fill-opacity="0.6" stroke="#444" stroke-width="0.35" stroke-opacity="0.75"/>
<circle cx="603.67" cy="246.9" r="1.6" fill="#fc8d62" fill-opacity="0.6" stroke="#444" stroke-width="0.35" stroke-opacity="0.75"/>
<circle cx="603.71" cy="249.33" r="1.6" fill="#fc8d62" fill-opacity="0.6" stroke="#444" stroke-width="0.35" stroke-opacity="0.75"/>
<circle cx="603.19" cy="247.4" r="1.6" fill="#fc8d62" fill-opacity="0.6" stroke="#444" stroke-width="0.35" stroke-opacity="0.75"/>
<circle cx="603.8" cy="248.03" r="1.6" fill="#fc8d62" fill-opacity="0.6" stroke="#444" stroke-width="0.35" stroke-opacity="0.75"/>
<circle cx="602.75" cy="245.86" r="1.6" fill="#fc8d62" fill-opacity="0.6" stroke="#444" stroke-width="0.35" stroke-opacity="0.75"/>
<circle cx="602.44" cy="247.27" r="1.6" fill="#fc8d62" fill-opacity="0.6" stroke="#444" stroke-width="0.35" stroke-opacity="0.75"/>
<circle cx="603.81" cy="249.27" r="1.6" fill="#fc8d62" fill-opacity="0.6" stroke="#444" stroke-width="0.35" stroke-opacity="0.75"/>
<circle cx="602.45" cy="246.62" r="1.6" fill="#fc8d62" fill-opacity="0.6" stroke="#444" stroke-width="0.35" stroke-opacity="0.75"/>
<circle cx="603.78" cy="246.23" r="1.6" fill="#fc8d62" fill-opacity="0.6" stroke="#444" stroke-width="0.35" stroke-opacity="0.75"/>
<circle cx="604.28" cy="247.41" r="1.6" fill="#fc8d62" fill-opacity="0.6" stroke="#444" stroke-width="0.35" stroke-opacity="0.75"/>
<circle cx="603.01" cy="246.57" r="1.6" fill="#fc8d62" fill-opacity="0.6" stroke="#444" stroke-width="0.35" stroke-opacity="0.75"/>
<circle cx="602.34" cy="246.73" r="1.6" fill="#fc8d62" fill-opacity="0.6" stroke="#444" stroke-width="0.35" stroke-opacity="0.75"/>
<circle cx="604.43" cy="247.11" r="1.6" fill="#fc8d62" fill-opacity="0.6" stroke="#444" stroke-width="0.35" stroke-opacity="0.75"/>
<circle cx="605.65" cy="246.19" r="1.6" fill="#fc8d62" fill-opacity="0.6" stroke="#444" stroke-width="0.35" stroke-opacity="0.75"/>
<circle cx="602.59" cy="248.72" r="1.6" fill="#fc8d62" fill-opacity="0.6" stroke="#444" stroke-width="0.35" stroke-opacity="0.75"/>
<path d="M617.64 245.8V245.8M617.64 248.54V250.18M614.28 245.8H621.01M614.28 250.18H621.01" stroke="#777" stroke-width="0.6" fill="none"/>
<rect x="610.92" y="245.8" width="13.45" height="2.74" fill="#93a2c4" stroke="#606060" stroke-width="0.45"/>
<path d="M610.92 247.01H624.37" stroke="#606060" stroke-width="0.55" fill="none"/>
<circle cx="619.09" cy="250.18" r="1.6" fill="#8da0cb" fill-opacity="0.6" stroke="#444" stroke-width="0.35" stroke-opacity="0.75"/>
<circle cx="619.64" cy="248.54" r="1.6" fill="#8da0cb" fill-opacity="0.6" stroke="#444" stroke-width="0.35" stroke-opacity="0.75"/>
<circle cx="615.97" cy="247.01" r="1.6" fill="#8da0cb" fill-opacity="0.6" stroke="#444" stroke-width="0.35" stroke-opacity="0.75"/>
<circle cx="616.68" cy="245.8" r="1.6" fill="#8da0cb" fill-opacity="0.6" stroke="#444" stroke-width="0.35" stroke-opacity="0.75"/>
<circle cx="619.88" cy="245.8" r="1.6" fill="#8da0cb" fill-opacity="0.6" stroke="#444" stroke-width="0.35" stroke-opacity="0.75"/>
<circle cx="619.69" cy="254.57" r="1.6" fill="#8da0cb" fill-opacity="0.6" stroke="#444" stroke-width="0.35" stroke-opacity="0.75"/>
<circle cx="616.22" cy="257.97" r="1.6" fill="#8da0cb" fill-opacity="0.6" stroke="#444" stroke-width="0.35" stroke-opacity="0.75"/>
<circle cx="618.62" cy="301.48" r="1.6" fill="#8da0cb" fill-opacity="0.6" stroke="#444" stroke-width="0.35" stroke-opacity="0.75"/>
<circle cx="619.44" cy="246.74" r="1.6" fill="#8da0cb" fill-opacity="0.6" stroke="#444" stroke-width="0.35" stroke-opacity="0.75"/>
<circle cx="618.08" cy="246.67" r="1.6" fill="#8da0cb" fill-opacity="0.6" stroke="#444" stroke-width="0.35" stroke-opacity="0.75"/>
<circle cx="618.62" cy="249.28" r="1.6" fill="#8da0cb" fill-opacity="0.6" stroke="#444" stroke-width="0.35" stroke-opacity="0.75"/>
<circle cx="617.76" cy="247.72" r="1.6" fill="#8da0cb" fill-opacity="0.6" stroke="#444" stroke-width="0.35" stroke-opacity="0.75"/>
<circle cx="616.37" cy="246.37" r="1.6" fill="#8da0cb" fill-opacity="0.6" stroke="#444" stroke-width="0.35" stroke-opacity="0.75"/>
<circle cx="616.27" cy="248.81" r="1.6" fill="#8da0cb" fill-opacity="0.6" stroke="#444" stroke-width="0.35" stroke-opacity="0.75"/>
<circle cx="615.54" cy="249.06" r="1.6" fill="#8da0cb" fill-opacity="0.6" stroke="#444" stroke-width="0.35" stroke-opacity="0.75"/>
<circle cx="618.44" cy="247.6" r="1.6" fill="#8da0cb" fill-opacity="0.6" stroke="#444" stroke-width="0.35" stroke-opacity="0.75"/>
<circle cx="615.91" cy="247.39" r="1.6" fill="#8da0cb" fill-opacity="0.6" stroke="#444" stroke-width="0.35" stroke-opacity="0.75"/>
<circle cx="618.23" cy="248.49" r="1.6" fill="#8da0cb" fill-opacity="0.6" stroke="#444" stroke-width="0.35" stroke-opacity="0.75"/>
<circle cx="617.12" cy="248.18" r="1.6" fill="#8da0cb" fill-opacity="0.6" stroke="#444" stroke-width="0.35" stroke-opacity="0.75"/>
<circle cx="617.34" cy="247.52" r="1.6" fill="#8da0cb" fill-opacity="0.6" stroke="#444" stroke-width="0.35" stroke-opacity="0.75"/>
<circle cx="619.9" cy="249.9" r="1.6" fill="#8da0cb" fill-opacity="0.6" stroke="#444" stroke-width="0.35" stroke-opacity="0.75"/>
<circle cx="617.13" cy="246.03" r="1.6" fill="#8da0cb" fill-opacity="0.6" stroke="#444" stroke-width="0.35" stroke-opacity="0.75"/>
<circle cx="617.52" cy="247.18" r="1.6" fill="#8da0cb" fill-opacity="0.6" stroke="#444" stroke-width="0.35" stroke-opacity="0.75"/>
<path d="M641.65 259.28V253.14M641.65 276.49V301.48M638.29 253.14H645.02M638.29 301.48H645.02" stroke="#777" stroke-width="0.6" fill="none"/>
<rect x="634.93" y="259.28" width="13.45" height="17.21" fill="#6cb89f" stroke="#606060" stroke-width="0.45"/>
<path d="M634.93 262.24H648.38" stroke="#606060" stroke-width="0.55" fill="none"/>
<circle cx="640.33" cy="301.48" r="1.6" fill="#66c2a5" fill-opacity="0.6" stroke="#444" stroke-width="0.35" stroke-opacity="0.75"/>
<circle cx="641.81" cy="276.49" r="1.6" fill="#66c2a5" fill-opacity="0.6" stroke="#444" stroke-width="0.35" stroke-opacity="0.75"/>
<circle cx="643.18" cy="262.24" r="1.6" fill="#66c2a5" fill-opacity="0.6" stroke="#444" stroke-width="0.35" stroke-opacity="0.75"/>
<circle cx="639.69" cy="259.28" r="1.6" fill="#66c2a5" fill-opacity="0.6" stroke="#444" stroke-width="0.35" stroke-opacity="0.75"/>
<circle cx="643.79" cy="253.14" r="1.6" fill="#66c2a5" fill-opacity="0.6" stroke="#444" stroke-width="0.35" stroke-opacity="0.75"/>
<circle cx="642.49" cy="291.08" r="1.6" fill="#66c2a5" fill-opacity="0.6" stroke="#444" stroke-width="0.35" stroke-opacity="0.75"/>
<path d="M655.38 254.35V247.77M655.38 267.72V269.91M652.01 247.77H658.74M652.01 269.91H658.74" stroke="#777" stroke-width="0.6" fill="none"/>
<rect x="648.65" y="254.35" width="13.45" height="13.37" fill="#e8906e" stroke="#606060" stroke-width="0.45"/>
<path d="M648.65 259.28H662.1" stroke="#606060" stroke-width="0.55" fill="none"/>
<circle cx="653.23" cy="269.91" r="1.6" fill="#fc8d62" fill-opacity="0.6" stroke="#444" stroke-width="0.35" stroke-opacity="0.75"/>
<circle cx="656.37" cy="267.72" r="1.6" fill="#fc8d62" fill-opacity="0.6" stroke="#444" stroke-width="0.35" stroke-opacity="0.75"/>
<circle cx="654.9" cy="259.28" r="1.6" fill="#fc8d62" fill-opacity="0.6" stroke="#444" stroke-width="0.35" stroke-opacity="0.75"/>
<circle cx="655.45" cy="254.35" r="1.6" fill="#fc8d62" fill-opacity="0.6" stroke="#444" stroke-width="0.35" stroke-opacity="0.75"/>
<circle cx="653.46" cy="247.77" r="1.6" fill="#fc8d62" fill-opacity="0.6" stroke="#444" stroke-width="0.35" stroke-opacity="0.75"/>
<circle cx="655.42" cy="301.92" r="1.6" fill="#fc8d62" fill-opacity="0.6" stroke="#444" stroke-width="0.35" stroke-opacity="0.75"/>
<path d="M669.1 257.97V253.14M669.1 279.78V300.71M665.73 253.14H672.46M665.73 300.71H672.46" stroke="#777" stroke-width="0.6" fill="none"/>
<rect x="662.37" y="257.97" width="13.45" height="21.81" fill="#93a2c4" stroke="#606060" stroke-width="0.45"/>
<path d="M662.37 258.51H675.82" stroke="#606060" stroke-width="0.55" fill="none"/>
<circle cx="669.48" cy="300.71" r="1.6" fill="#8da0cb" fill-opacity="0.6" stroke="#444" stroke-width="0.35" stroke-opacity="0.75"/>
<circle cx="670.08" cy="279.78" r="1.6" fill="#8da0cb" fill-opacity="0.6" stroke="#444" stroke-width="0.35" stroke-opacity="0.75"/>
<circle cx="670.22" cy="258.51" r="1.6" fill="#8da0cb" fill-opacity="0.6" stroke="#444" stroke-width="0.35" stroke-opacity="0.75"/>
<circle cx="667.76" cy="257.97" r="1.6" fill="#8da0cb" fill-opacity="0.6" stroke="#444" stroke-width="0.35" stroke-opacity="0.75"/>
<circle cx="666.81" cy="253.14" r="1.6" fill="#8da0cb" fill-opacity="0.6" stroke="#444" stroke-width="0.35" stroke-opacity="0.75"/>
<circle cx="668.99" cy="262.71" r="1.6" fill="#8da0cb" fill-opacity="0.6" stroke="#444" stroke-width="0.35" stroke-opacity="0.75"/>
</g>
<path d="M22 551.3H330.7M22 529.38H330.7M22 507.46H330.7M22 485.54H330.7M22 463.62H330.7M22 441.7H330.7" stroke="#e3e3e3" stroke-width="0.9" fill="none"/>
<path d="M22 430.74V551.3" stroke="#d9d9d9" stroke-width="1.1" fill="none"/>
<text x="17.3" y="554.3" font-size="8.0" font-weight="normal" font-style="normal" text-anchor="end" fill="#262626" >0.0</text>
<text x="17.3" y="532.38" font-size="8.0" font-weight="normal" font-style="normal" text-anchor="end" fill="#262626" >0.2</text>
<text x="17.3" y="510.46" font-size="8.0" font-weight="normal" font-style="normal" text-anchor="end" fill="#262626" >0.4</text>
<text x="17.3" y="488.54" font-size="8.0" font-weight="normal" font-style="normal" text-anchor="end" fill="#262626" >0.6</text>
<text x="17.3" y="466.62" font-size="8.0" font-weight="normal" font-style="normal" text-anchor="end" fill="#262626" >0.8</text>
<text x="17.3" y="444.7" font-size="8.0" font-weight="normal" font-style="normal" text-anchor="end" fill="#262626" >1.0</text>
<text x="47.73" y="437.9" font-size="7.7" font-weight="normal" font-style="normal" text-anchor="middle" fill="#262626" >n = 7</text>
<text transform="translate(49.73,571.8) rotate(-30)" font-size="10.2" text-anchor="middle" fill="#262626">cefoxitin</text>
<text x="99.18" y="437.9" font-size="7.7" font-weight="normal" font-style="normal" text-anchor="middle" fill="#262626" >n = 8</text>
<text transform="translate(101.18,576.62) rotate(-30)" font-size="10.2" text-anchor="middle" fill="#262626">ciprofloxacin</text>
<text x="150.62" y="437.9" font-size="7.7" font-weight="normal" font-style="normal" text-anchor="middle" fill="#262626" >n = 9</text>
<text transform="translate(152.62,575.77) rotate(-30)" font-size="10.2" text-anchor="middle" fill="#262626">clindamycin</text>
<text x="202.08" y="437.9" font-size="7.7" font-weight="normal" font-style="normal" text-anchor="middle" fill="#262626" >n = 7</text>
<text transform="translate(204.08,577.04) rotate(-30)" font-size="10.2" text-anchor="middle" fill="#262626">erythromycin</text>
<text x="253.53" y="437.9" font-size="7.7" font-weight="normal" font-style="normal" text-anchor="middle" fill="#262626" >n = 9</text>
<text transform="translate(255.53,573.64) rotate(-30)" font-size="10.2" text-anchor="middle" fill="#262626">methicillin</text>
<text x="304.98" y="437.9" font-size="7.7" font-weight="normal" font-style="normal" text-anchor="middle" fill="#262626" >n = 8</text>
<text transform="translate(306.98,571.52) rotate(-30)" font-size="10.2" text-anchor="middle" fill="#262626">oxacillin</text>
<clipPath id="clip3"><rect x="22" y="426.74" width="308.7" height="124.86"/></clipPath>
<g clip-path="url(#clip3)">
<path d="M34.01 473.37V441.7M34.01 525V551.3M30.64 441.7H37.37M30.64 551.3H37.37" stroke="#777" stroke-width="0.6" fill="none"/>
<rect x="27.28" y="473.37" width="13.45" height="51.62" fill="#6cb89f" stroke="#606060" stroke-width="0.45"/>
<path d="M27.28 492.34H40.73" stroke="#606060" stroke-width="0.55" fill="none"/>
<circle cx="34.61" cy="551.3" r="1.6" fill="#66c2a5" fill-opacity="0.6" stroke="#444" stroke-width="0.35" stroke-opacity="0.75"/>
<circle cx="31.92" cy="525" r="1.6" fill="#66c2a5" fill-opacity="0.6" stroke="#444" stroke-width="0.35" stroke-opacity="0.75"/>
<circle cx="31.67" cy="492.34" r="1.6" fill="#66c2a5" fill-opacity="0.6" stroke="#444" stroke-width="0.35" stroke-opacity="0.75"/>
<circle cx="35.62" cy="473.37" r="1.6" fill="#66c2a5" fill-opacity="0.6" stroke="#444" stroke-width="0.35" stroke-opacity="0.75"/>
<circle cx="32.85" cy="441.7" r="1.6" fill="#66c2a5" fill-opacity="0.6" stroke="#444" stroke-width="0.35" stroke-opacity="0.75"/>
<circle cx="32.73" cy="491.65" r="1.6" fill="#66c2a5" fill-opacity="0.6" stroke="#444" stroke-width="0.35" stroke-opacity="0.75"/>
<circle cx="36.38" cy="485.11" r="1.6" fill="#66c2a5" fill-opacity="0.6" stroke="#444" stroke-width="0.35" stroke-opacity="0.75"/>
<path d="M47.73 486.42V481.16M47.73 498.14V515.13M44.36 481.16H51.09M44.36 515.13H51.09" stroke="#777" stroke-width="0.6" fill="none"/>
<rect x="41" y="486.42" width="13.45" height="11.73" fill="#e8906e" stroke="#606060" stroke-width="0.45"/>
<path d="M41 492.99H54.45" stroke="#606060" stroke-width="0.55" fill="none"/>
<circle cx="47.61" cy="515.13" r="1.6" fill="#fc8d62" fill-opacity="0.6" stroke="#444" stroke-width="0.35" stroke-opacity="0.75"/>
<circle cx="48.39" cy="498.14" r="1.6" fill="#fc8d62" fill-opacity="0.6" stroke="#444" stroke-width="0.35" stroke-opacity="0.75"/>
<circle cx="46.05" cy="492.99" r="1.6" fill="#fc8d62" fill-opacity="0.6" stroke="#444" stroke-width="0.35" stroke-opacity="0.75"/>
<circle cx="48.37" cy="486.42" r="1.6" fill="#fc8d62" fill-opacity="0.6" stroke="#444" stroke-width="0.35" stroke-opacity="0.75"/>
<circle cx="49.49" cy="481.16" r="1.6" fill="#fc8d62" fill-opacity="0.6" stroke="#444" stroke-width="0.35" stroke-opacity="0.75"/>
<circle cx="47.84" cy="449.15" r="1.6" fill="#fc8d62" fill-opacity="0.6" stroke="#444" stroke-width="0.35" stroke-opacity="0.75"/>
<circle cx="48.88" cy="488.33" r="1.6" fill="#fc8d62" fill-opacity="0.6" stroke="#444" stroke-width="0.35" stroke-opacity="0.75"/>
<path d="M61.45 486.2V446.08M61.45 524.67V549.88M58.08 446.08H64.81M58.08 549.88H64.81" stroke="#777" stroke-width="0.6" fill="none"/>
<rect x="54.72" y="486.2" width="13.45" height="38.47" fill="#93a2c4" stroke="#606060" stroke-width="0.45"/>
<path d="M54.72 493.98H68.17" stroke="#606060" stroke-width="0.55" fill="none"/>
<circle cx="60.49" cy="549.88" r="1.6" fill="#8da0cb" fill-opacity="0.6" stroke="#444" stroke-width="0.35" stroke-opacity="0.75"/>
<circle cx="59.19" cy="524.67" r="1.6" fill="#8da0cb" fill-opacity="0.6" stroke="#444" stroke-width="0.35" stroke-opacity="0.75"/>
<circle cx="63.2" cy="493.98" r="1.6" fill="#8da0cb" fill-opacity="0.6" stroke="#444" stroke-width="0.35" stroke-opacity="0.75"/>
<circle cx="61.31" cy="486.2" r="1.6" fill="#8da0cb" fill-opacity="0.6" stroke="#444" stroke-width="0.35" stroke-opacity="0.75"/>
<circle cx="62.5" cy="446.08" r="1.6" fill="#8da0cb" fill-opacity="0.6" stroke="#444" stroke-width="0.35" stroke-opacity="0.75"/>
<circle cx="63.26" cy="522.2" r="1.6" fill="#8da0cb" fill-opacity="0.6" stroke="#444" stroke-width="0.35" stroke-opacity="0.75"/>
<circle cx="62.47" cy="501.93" r="1.6" fill="#8da0cb" fill-opacity="0.6" stroke="#444" stroke-width="0.35" stroke-opacity="0.75"/>
<path d="M85.46 471.73V449.59M85.46 493.65V497.6M82.09 449.59H88.82M82.09 497.6H88.82" stroke="#777" stroke-width="0.6" fill="none"/>
<rect x="78.73" y="471.73" width="13.45" height="21.92" fill="#6cb89f" stroke="#606060" stroke-width="0.45"/>
<path d="M78.73 481.16H92.18" stroke="#606060" stroke-width="0.55" fill="none"/>
<circle cx="83.52" cy="497.6" r="1.6" fill="#66c2a5" fill-opacity="0.6" stroke="#444" stroke-width="0.35" stroke-opacity="0.75"/>
<circle cx="83.71" cy="493.65" r="1.6" fill="#66c2a5" fill-opacity="0.6" stroke="#444" stroke-width="0.35" stroke-opacity="0.75"/>
<circle cx="84.1" cy="481.16" r="1.6" fill="#66c2a5" fill-opacity="0.6" stroke="#444" stroke-width="0.35" stroke-opacity="0.75"/>
<circle cx="87.69" cy="471.73" r="1.6" fill="#66c2a5" fill-opacity="0.6" stroke="#444" stroke-width="0.35" stroke-opacity="0.75"/>
<circle cx="85.15" cy="449.59" r="1.6" fill="#66c2a5" fill-opacity="0.6" stroke="#444" stroke-width="0.35" stroke-opacity="0.75"/>
<circle cx="86.06" cy="484.99" r="1.6" fill="#66c2a5" fill-opacity="0.6" stroke="#444" stroke-width="0.35" stroke-opacity="0.75"/>
<circle cx="84.5" cy="483.9" r="1.6" fill="#66c2a5" fill-opacity="0.6" stroke="#444" stroke-width="0.35" stroke-opacity="0.75"/>
<circle cx="85.49" cy="474.39" r="1.6" fill="#66c2a5" fill-opacity="0.6" stroke="#444" stroke-width="0.35" stroke-opacity="0.75"/>
<path d="M99.18 474.8V456.17M99.18 496.06V500.66M95.81 456.17H102.54M95.81 500.66H102.54" stroke="#777" stroke-width="0.6" fill="none"/>
<rect x="92.45" y="474.8" width="13.45" height="21.26" fill="#e8906e" stroke="#606060" stroke-width="0.45"/>
<path d="M92.45 486.2H105.9" stroke="#606060" stroke-width="0.55" fill="none"/>
<circle cx="101.23" cy="500.66" r="1.6" fill="#fc8d62" fill-opacity="0.6" stroke="#444" stroke-width="0.35" stroke-opacity="0.75"/>
<circle cx="100.89" cy="496.06" r="1.6" fill="#fc8d62" fill-opacity="0.6" stroke="#444" stroke-width="0.35" stroke-opacity="0.75"/>
<circle cx="101.53" cy="486.2" r="1.6" fill="#fc8d62" fill-opacity="0.6" stroke="#444" stroke-width="0.35" stroke-opacity="0.75"/>
<circle cx="100" cy="474.8" r="1.6" fill="#fc8d62" fill-opacity="0.6" stroke="#444" stroke-width="0.35" stroke-opacity="0.75"/>
<circle cx="97.56" cy="456.17" r="1.6" fill="#fc8d62" fill-opacity="0.6" stroke="#444" stroke-width="0.35" stroke-opacity="0.75"/>
<circle cx="100.91" cy="485.05" r="1.6" fill="#fc8d62" fill-opacity="0.6" stroke="#444" stroke-width="0.35" stroke-opacity="0.75"/>
<circle cx="101.41" cy="483.64" r="1.6" fill="#fc8d62" fill-opacity="0.6" stroke="#444" stroke-width="0.35" stroke-opacity="0.75"/>
<circle cx="101.12" cy="481.56" r="1.6" fill="#fc8d62" fill-opacity="0.6" stroke="#444" stroke-width="0.35" stroke-opacity="0.75"/>
<path d="M112.9 477.87V453.76M112.9 498.8V516.34M109.53 453.76H116.26M109.53 516.34H116.26" stroke="#777" stroke-width="0.6" fill="none"/>
<rect x="106.17" y="477.87" width="13.45" height="20.93" fill="#93a2c4" stroke="#606060" stroke-width="0.45"/>
<path d="M106.17 489.92H119.62" stroke="#606060" stroke-width="0.55" fill="none"/>
<circle cx="110.8" cy="516.34" r="1.6" fill="#8da0cb" fill-opacity="0.6" stroke="#444" stroke-width="0.35" stroke-opacity="0.75"/>
<circle cx="114.59" cy="498.8" r="1.6" fill="#8da0cb" fill-opacity="0.6" stroke="#444" stroke-width="0.35" stroke-opacity="0.75"/>
<circle cx="115.25" cy="489.92" r="1.6" fill="#8da0cb" fill-opacity="0.6" stroke="#444" stroke-width="0.35" stroke-opacity="0.75"/>
<circle cx="110.92" cy="477.87" r="1.6" fill="#8da0cb" fill-opacity="0.6" stroke="#444" stroke-width="0.35" stroke-opacity="0.75"/>
<circle cx="114.34" cy="453.76" r="1.6" fill="#8da0cb" fill-opacity="0.6" stroke="#444" stroke-width="0.35" stroke-opacity="0.75"/>
<circle cx="112.47" cy="483.86" r="1.6" fill="#8da0cb" fill-opacity="0.6" stroke="#444" stroke-width="0.35" stroke-opacity="0.75"/>
<circle cx="111.22" cy="464.29" r="1.6" fill="#8da0cb" fill-opacity="0.6" stroke="#444" stroke-width="0.35" stroke-opacity="0.75"/>
<circle cx="111.91" cy="492.84" r="1.6" fill="#8da0cb" fill-opacity="0.6" stroke="#444" stroke-width="0.35" stroke-opacity="0.75"/>
<path d="M136.91 462.96V458.91M136.91 499.24V534.97M133.54 458.91H140.27M133.54 534.97H140.27" stroke="#777" stroke-width="0.6" fill="none"/>
<rect x="130.18" y="462.96" width="13.45" height="36.28" fill="#6cb89f" stroke="#606060" stroke-width="0.45"/>
<path d="M130.18 472.94H143.63" stroke="#606060" stroke-width="0.55" fill="none"/>
<circle cx="139.21" cy="534.97" r="1.6" fill="#66c2a5" fill-opacity="0.6" stroke="#444" stroke-width="0.35" stroke-opacity="0.75"/>
<circle cx="136.93" cy="499.24" r="1.6" fill="#66c2a5" fill-opacity="0.6" stroke="#444" stroke-width="0.35" stroke-opacity="0.75"/>
<circle cx="139.3" cy="472.94" r="1.6" fill="#66c2a5" fill-opacity="0.6" stroke="#444" stroke-width="0.35" stroke-opacity="0.75"/>
<circle cx="135.99" cy="462.96" r="1.6" fill="#66c2a5" fill-opacity="0.6" stroke="#444" stroke-width="0.35" stroke-opacity="0.75"/>
<circle cx="134.87" cy="458.91" r="1.6" fill="#66c2a5" fill-opacity="0.6" stroke="#444" stroke-width="0.35" stroke-opacity="0.75"/>
<circle cx="137.38" cy="467.58" r="1.6" fill="#66c2a5" fill-opacity="0.6" stroke="#444" stroke-width="0.35" stroke-opacity="0.75"/>
<circle cx="134.66" cy="488.23" r="1.6" fill="#66c2a5" fill-opacity="0.6" stroke="#444" stroke-width="0.35" stroke-opacity="0.75"/>
<circle cx="135.45" cy="480.32" r="1.6" fill="#66c2a5" fill-opacity="0.6" stroke="#444" stroke-width="0.35" stroke-opacity="0.75"/>
<circle cx="136.46" cy="467.97" r="1.6" fill="#66c2a5" fill-opacity="0.6" stroke="#444" stroke-width="0.35" stroke-opacity="0.75"/>
<path d="M150.62 477.43V459.24M150.62 497.16V497.16M147.26 459.24H153.99M147.26 497.16H153.99" stroke="#777" stroke-width="0.6" fill="none"/>
<rect x="143.9" y="477.43" width="13.45" height="19.73" fill="#e8906e" stroke="#606060" stroke-width="0.45"/>
<path d="M143.9 486.42H157.35" stroke="#606060" stroke-width="0.55" fill="none"/>
<circle cx="150.43" cy="497.16" r="1.6" fill="#fc8d62" fill-opacity="0.6" stroke="#444" stroke-width="0.35" stroke-opacity="0.75"/>
<circle cx="150.72" cy="497.16" r="1.6" fill="#fc8d62" fill-opacity="0.6" stroke="#444" stroke-width="0.35" stroke-opacity="0.75"/>
<circle cx="151.32" cy="486.42" r="1.6" fill="#fc8d62" fill-opacity="0.6" stroke="#444" stroke-width="0.35" stroke-opacity="0.75"/>
<circle cx="151.08" cy="477.43" r="1.6" fill="#fc8d62" fill-opacity="0.6" stroke="#444" stroke-width="0.35" stroke-opacity="0.75"/>
<circle cx="150.91" cy="459.24" r="1.6" fill="#fc8d62" fill-opacity="0.6" stroke="#444" stroke-width="0.35" stroke-opacity="0.75"/>
<circle cx="151.2" cy="494.08" r="1.6" fill="#fc8d62" fill-opacity="0.6" stroke="#444" stroke-width="0.35" stroke-opacity="0.75"/>
<circle cx="152.74" cy="464.25" r="1.6" fill="#fc8d62" fill-opacity="0.6" stroke="#444" stroke-width="0.35" stroke-opacity="0.75"/>
<circle cx="150.66" cy="460.8" r="1.6" fill="#fc8d62" fill-opacity="0.6" stroke="#444" stroke-width="0.35" stroke-opacity="0.75"/>
<circle cx="150.29" cy="489.7" r="1.6" fill="#fc8d62" fill-opacity="0.6" stroke="#444" stroke-width="0.35" stroke-opacity="0.75"/>
<path d="M164.34 474.36V459.24M164.34 497.71V526.09M160.98 459.24H167.71M160.98 526.09H167.71" stroke="#777" stroke-width="0.6" fill="none"/>
<rect x="157.62" y="474.36" width="13.45" height="23.34" fill="#93a2c4" stroke="#606060" stroke-width="0.45"/>
<path d="M157.62 497.16H171.07" stroke="#606060" stroke-width="0.55" fill="none"/>
<circle cx="164.73" cy="526.09" r="1.6" fill="#8da0cb" fill-opacity="0.6" stroke="#444" stroke-width="0.35" stroke-opacity="0.75"/>
<circle cx="162.04" cy="497.71" r="1.6" fill="#8da0cb" fill-opacity="0.6" stroke="#444" stroke-width="0.35" stroke-opacity="0.75"/>
<circle cx="164.9" cy="497.16" r="1.6" fill="#8da0cb" fill-opacity="0.6" stroke="#444" stroke-width="0.35" stroke-opacity="0.75"/>
<circle cx="164.98" cy="474.36" r="1.6" fill="#8da0cb" fill-opacity="0.6" stroke="#444" stroke-width="0.35" stroke-opacity="0.75"/>
<circle cx="162.23" cy="459.24" r="1.6" fill="#8da0cb" fill-opacity="0.6" stroke="#444" stroke-width="0.35" stroke-opacity="0.75"/>
<circle cx="164.96" cy="492.16" r="1.6" fill="#8da0cb" fill-opacity="0.6" stroke="#444" stroke-width="0.35" stroke-opacity="0.75"/>
<circle cx="164.18" cy="460.72" r="1.6" fill="#8da0cb" fill-opacity="0.6" stroke="#444" stroke-width="0.35" stroke-opacity="0.75"/>
<circle cx="165.21" cy="484.9" r="1.6" fill="#8da0cb" fill-opacity="0.6" stroke="#444" stroke-width="0.35" stroke-opacity="0.75"/>
<circle cx="163.64" cy="498.33" r="1.6" fill="#8da0cb" fill-opacity="0.6" stroke="#444" stroke-width="0.35" stroke-opacity="0.75"/>
<path d="M188.36 481.16V471.84M188.36 499.79V513.27M184.99 471.84H191.72M184.99 513.27H191.72" stroke="#777" stroke-width="0.6" fill="none"/>
<rect x="181.63" y="481.16" width="13.45" height="18.63" fill="#6cb89f" stroke="#606060" stroke-width="0.45"/>
<path d="M181.63 498.14H195.08" stroke="#606060" stroke-width="0.55" fill="none"/>
<circle cx="189.2" cy="513.27" r="1.6" fill="#66c2a5" fill-opacity="0.6" stroke="#444" stroke-width="0.35" stroke-opacity="0.75"/>
<circle cx="190.58" cy="499.79" r="1.6" fill="#66c2a5" fill-opacity="0.6" stroke="#444" stroke-width="0.35" stroke-opacity="0.75"/>
<circle cx="187.16" cy="498.14" r="1.6" fill="#66c2a5" fill-opacity="0.6" stroke="#444" stroke-width="0.35" stroke-opacity="0.75"/>
<circle cx="188.15" cy="481.16" r="1.6" fill="#66c2a5" fill-opacity="0.6" stroke="#444" stroke-width="0.35" stroke-opacity="0.75"/>
<circle cx="188.8" cy="471.84" r="1.6" fill="#66c2a5" fill-opacity="0.6" stroke="#444" stroke-width="0.35" stroke-opacity="0.75"/>
<circle cx="187.49" cy="486.04" r="1.6" fill="#66c2a5" fill-opacity="0.6" stroke="#444" stroke-width="0.35" stroke-opacity="0.75"/>
<circle cx="187.7" cy="510.76" r="1.6" fill="#66c2a5" fill-opacity="0.6" stroke="#444" stroke-width="0.35" stroke-opacity="0.75"/>
<path d="M202.08 484.12V472.94M202.08 496.5V496.5M198.71 472.94H205.44M198.71 496.5H205.44" stroke="#777" stroke-width="0.6" fill="none"/>
<rect x="195.35" y="484.12" width="13.45" height="12.38" fill="#e8906e" stroke="#606060" stroke-width="0.45"/>
<path d="M195.35 496.06H208.8" stroke="#606060" stroke-width="0.55" fill="none"/>
<circle cx="201.49" cy="496.5" r="1.6" fill="#fc8d62" fill-opacity="0.6" stroke="#444" stroke-width="0.35" stroke-opacity="0.75"/>
<circle cx="203.38" cy="496.5" r="1.6" fill="#fc8d62" fill-opacity="0.6" stroke="#444" stroke-width="0.35" stroke-opacity="0.75"/>
<circle cx="199.8" cy="496.06" r="1.6" fill="#fc8d62" fill-opacity="0.6" stroke="#444" stroke-width="0.35" stroke-opacity="0.75"/>
<circle cx="202.41" cy="484.12" r="1.6" fill="#fc8d62" fill-opacity="0.6" stroke="#444" stroke-width="0.35" stroke-opacity="0.75"/>
<circle cx="203.2" cy="472.94" r="1.6" fill="#fc8d62" fill-opacity="0.6" stroke="#444" stroke-width="0.35" stroke-opacity="0.75"/>
<circle cx="201.16" cy="487.8" r="1.6" fill="#fc8d62" fill-opacity="0.6" stroke="#444" stroke-width="0.35" stroke-opacity="0.75"/>
<circle cx="200.74" cy="492.78" r="1.6" fill="#fc8d62" fill-opacity="0.6" stroke="#444" stroke-width="0.35" stroke-opacity="0.75"/>
<path d="M215.8 488.28V476.88M215.8 499.57V506.47M212.43 476.88H219.16M212.43 506.47H219.16" stroke="#777" stroke-width="0.6" fill="none"/>
<rect x="209.07" y="488.28" width="13.45" height="11.29" fill="#93a2c4" stroke="#606060" stroke-width="0.45"/>
<path d="M209.07 497.16H222.52" stroke="#606060" stroke-width="0.55" fill="none"/>
<circle cx="216.75" cy="506.47" r="1.6" fill="#8da0cb" fill-opacity="0.6" stroke="#444" stroke-width="0.35" stroke-opacity="0.75"/>
<circle cx="213.88" cy="499.57" r="1.6" fill="#8da0cb" fill-opacity="0.6" stroke="#444" stroke-width="0.35" stroke-opacity="0.75"/>
<circle cx="214.94" cy="497.16" r="1.6" fill="#8da0cb" fill-opacity="0.6" stroke="#444" stroke-width="0.35" stroke-opacity="0.75"/>
<circle cx="215" cy="488.28" r="1.6" fill="#8da0cb" fill-opacity="0.6" stroke="#444" stroke-width="0.35" stroke-opacity="0.75"/>
<circle cx="217.4" cy="476.88" r="1.6" fill="#8da0cb" fill-opacity="0.6" stroke="#444" stroke-width="0.35" stroke-opacity="0.75"/>
<circle cx="215.5" cy="496.87" r="1.6" fill="#8da0cb" fill-opacity="0.6" stroke="#444" stroke-width="0.35" stroke-opacity="0.75"/>
<circle cx="217.5" cy="493.59" r="1.6" fill="#8da0cb" fill-opacity="0.6" stroke="#444" stroke-width="0.35" stroke-opacity="0.75"/>
<path d="M239.81 458.91V449.59M239.81 497.71V511.19M236.44 449.59H243.17M236.44 511.19H243.17" stroke="#777" stroke-width="0.6" fill="none"/>
<rect x="233.08" y="458.91" width="13.45" height="38.8" fill="#6cb89f" stroke="#606060" stroke-width="0.45"/>
<path d="M233.08 480.17H246.53" stroke="#606060" stroke-width="0.55" fill="none"/>
<circle cx="238.32" cy="511.19" r="1.6" fill="#66c2a5" fill-opacity="0.6" stroke="#444" stroke-width="0.35" stroke-opacity="0.75"/>
<circle cx="241.28" cy="497.71" r="1.6" fill="#66c2a5" fill-opacity="0.6" stroke="#444" stroke-width="0.35" stroke-opacity="0.75"/>
<circle cx="241.43" cy="480.17" r="1.6" fill="#66c2a5" fill-opacity="0.6" stroke="#444" stroke-width="0.35" stroke-opacity="0.75"/>
<circle cx="238.29" cy="458.91" r="1.6" fill="#66c2a5" fill-opacity="0.6" stroke="#444" stroke-width="0.35" stroke-opacity="0.75"/>
<circle cx="238.74" cy="449.59" r="1.6" fill="#66c2a5" fill-opacity="0.6" stroke="#444" stroke-width="0.35" stroke-opacity="0.75"/>
<circle cx="241.28" cy="490.45" r="1.6" fill="#66c2a5" fill-opacity="0.6" stroke="#444" stroke-width="0.35" stroke-opacity="0.75"/>
<circle cx="240.49" cy="463.37" r="1.6" fill="#66c2a5" fill-opacity="0.6" stroke="#444" stroke-width="0.35" stroke-opacity="0.75"/>
<circle cx="241.28" cy="488.97" r="1.6" fill="#66c2a5" fill-opacity="0.6" stroke="#444" stroke-width="0.35" stroke-opacity="0.75"/>
<circle cx="239.06" cy="478.56" r="1.6" fill="#66c2a5" fill-opacity="0.6" stroke="#444" stroke-width="0.35" stroke-opacity="0.75"/>
<path d="M253.53 454.08V445.43M253.53 496.72V496.72M250.16 445.43H256.89M250.16 496.72H256.89" stroke="#777" stroke-width="0.6" fill="none"/>
<rect x="246.8" y="454.08" width="13.45" height="42.63" fill="#e8906e" stroke="#606060" stroke-width="0.45"/>
<path d="M246.8 483.24H260.25" stroke="#606060" stroke-width="0.55" fill="none"/>
<circle cx="255.54" cy="496.72" r="1.6" fill="#fc8d62" fill-opacity="0.6" stroke="#444" stroke-width="0.35" stroke-opacity="0.75"/>
<circle cx="251.87" cy="496.72" r="1.6" fill="#fc8d62" fill-opacity="0.6" stroke="#444" stroke-width="0.35" stroke-opacity="0.75"/>
<circle cx="251.15" cy="483.24" r="1.6" fill="#fc8d62" fill-opacity="0.6" stroke="#444" stroke-width="0.35" stroke-opacity="0.75"/>
<circle cx="255.65" cy="454.08" r="1.6" fill="#fc8d62" fill-opacity="0.6" stroke="#444" stroke-width="0.35" stroke-opacity="0.75"/>
<circle cx="255.35" cy="445.43" r="1.6" fill="#fc8d62" fill-opacity="0.6" stroke="#444" stroke-width="0.35" stroke-opacity="0.75"/>
<circle cx="255.86" cy="481.74" r="1.6" fill="#fc8d62" fill-opacity="0.6" stroke="#444" stroke-width="0.35" stroke-opacity="0.75"/>
<circle cx="253.21" cy="485.16" r="1.6" fill="#fc8d62" fill-opacity="0.6" stroke="#444" stroke-width="0.35" stroke-opacity="0.75"/>
<circle cx="255.69" cy="475.33" r="1.6" fill="#fc8d62" fill-opacity="0.6" stroke="#444" stroke-width="0.35" stroke-opacity="0.75"/>
<circle cx="255.58" cy="479.26" r="1.6" fill="#fc8d62" fill-opacity="0.6" stroke="#444" stroke-width="0.35" stroke-opacity="0.75"/>
<path d="M267.25 457.26V452M267.25 497.16V504.94M263.88 452H270.61M263.88 504.94H270.61" stroke="#777" stroke-width="0.6" fill="none"/>
<rect x="260.52" y="457.26" width="13.45" height="39.89" fill="#93a2c4" stroke="#606060" stroke-width="0.45"/>
<path d="M260.52 493.65H273.97" stroke="#606060" stroke-width="0.55" fill="none"/>
<circle cx="265.17" cy="504.94" r="1.6" fill="#8da0cb" fill-opacity="0.6" stroke="#444" stroke-width="0.35" stroke-opacity="0.75"/>
<circle cx="267.67" cy="497.16" r="1.6" fill="#8da0cb" fill-opacity="0.6" stroke="#444" stroke-width="0.35" stroke-opacity="0.75"/>
<circle cx="266.22" cy="493.65" r="1.6" fill="#8da0cb" fill-opacity="0.6" stroke="#444" stroke-width="0.35" stroke-opacity="0.75"/>
<circle cx="268.73" cy="457.26" r="1.6" fill="#8da0cb" fill-opacity="0.6" stroke="#444" stroke-width="0.35" stroke-opacity="0.75"/>
<circle cx="265.06" cy="452" r="1.6" fill="#8da0cb" fill-opacity="0.6" stroke="#444" stroke-width="0.35" stroke-opacity="0.75"/>
<circle cx="269.18" cy="465.47" r="1.6" fill="#8da0cb" fill-opacity="0.6" stroke="#444" stroke-width="0.35" stroke-opacity="0.75"/>
<circle cx="268.17" cy="470.71" r="1.6" fill="#8da0cb" fill-opacity="0.6" stroke="#444" stroke-width="0.35" stroke-opacity="0.75"/>
<circle cx="269.28" cy="485.63" r="1.6" fill="#8da0cb" fill-opacity="0.6" stroke="#444" stroke-width="0.35" stroke-opacity="0.75"/>
<circle cx="269.15" cy="492.9" r="1.6" fill="#8da0cb" fill-opacity="0.6" stroke="#444" stroke-width="0.35" stroke-opacity="0.75"/>
<path d="M291.25 473.7V451.02M291.25 511.62V539.13M287.89 451.02H294.62M287.89 539.13H294.62" stroke="#777" stroke-width="0.6" fill="none"/>
<rect x="284.53" y="473.7" width="13.45" height="37.92" fill="#6cb89f" stroke="#606060" stroke-width="0.45"/>
<path d="M284.53 487.84H297.98" stroke="#606060" stroke-width="0.55" fill="none"/>
<circle cx="292.04" cy="539.13" r="1.6" fill="#66c2a5" fill-opacity="0.6" stroke="#444" stroke-width="0.35" stroke-opacity="0.75"/>
<circle cx="291.37" cy="511.62" r="1.6" fill="#66c2a5" fill-opacity="0.6" stroke="#444" stroke-width="0.35" stroke-opacity="0.75"/>
<circle cx="290.84" cy="487.84" r="1.6" fill="#66c2a5" fill-opacity="0.6" stroke="#444" stroke-width="0.35" stroke-opacity="0.75"/>
<circle cx="293.36" cy="473.7" r="1.6" fill="#66c2a5" fill-opacity="0.6" stroke="#444" stroke-width="0.35" stroke-opacity="0.75"/>
<circle cx="291.79" cy="451.02" r="1.6" fill="#66c2a5" fill-opacity="0.6" stroke="#444" stroke-width="0.35" stroke-opacity="0.75"/>
<circle cx="290.49" cy="489.75" r="1.6" fill="#66c2a5" fill-opacity="0.6" stroke="#444" stroke-width="0.35" stroke-opacity="0.75"/>
<circle cx="290.07" cy="473.46" r="1.6" fill="#66c2a5" fill-opacity="0.6" stroke="#444" stroke-width="0.35" stroke-opacity="0.75"/>
<circle cx="292.99" cy="512.71" r="1.6" fill="#66c2a5" fill-opacity="0.6" stroke="#444" stroke-width="0.35" stroke-opacity="0.75"/>
<path d="M304.98 475.46V451.02M304.98 496.06V496.06M301.61 451.02H308.34M301.61 496.06H308.34" stroke="#777" stroke-width="0.6" fill="none"/>
<rect x="298.25" y="475.46" width="13.45" height="20.6" fill="#e8906e" stroke="#606060" stroke-width="0.45"/>
<path d="M298.25 492.55H311.7" stroke="#606060" stroke-width="0.55" fill="none"/>
<circle cx="303.4" cy="496.06" r="1.6" fill="#fc8d62" fill-opacity="0.6" stroke="#444" stroke-width="0.35" stroke-opacity="0.75"/>
<circle cx="306.38" cy="496.06" r="1.6" fill="#fc8d62" fill-opacity="0.6" stroke="#444" stroke-width="0.35" stroke-opacity="0.75"/>
<circle cx="307" cy="492.55" r="1.6" fill="#fc8d62" fill-opacity="0.6" stroke="#444" stroke-width="0.35" stroke-opacity="0.75"/>
<circle cx="306.44" cy="475.46" r="1.6" fill="#fc8d62" fill-opacity="0.6" stroke="#444" stroke-width="0.35" stroke-opacity="0.75"/>
<circle cx="306.53" cy="451.02" r="1.6" fill="#fc8d62" fill-opacity="0.6" stroke="#444" stroke-width="0.35" stroke-opacity="0.75"/>
<circle cx="302.61" cy="479.94" r="1.6" fill="#fc8d62" fill-opacity="0.6" stroke="#444" stroke-width="0.35" stroke-opacity="0.75"/>
<circle cx="305.59" cy="487.17" r="1.6" fill="#fc8d62" fill-opacity="0.6" stroke="#444" stroke-width="0.35" stroke-opacity="0.75"/>
<circle cx="306.72" cy="479.23" r="1.6" fill="#fc8d62" fill-opacity="0.6" stroke="#444" stroke-width="0.35" stroke-opacity="0.75"/>
<path d="M318.7 475.02V451.67M318.7 506.04V531.24M315.33 451.67H322.06M315.33 531.24H322.06" stroke="#777" stroke-width="0.6" fill="none"/>
<rect x="311.97" y="475.02" width="13.45" height="31.02" fill="#93a2c4" stroke="#606060" stroke-width="0.45"/>
<path d="M311.97 490.91H325.42" stroke="#606060" stroke-width="0.55" fill="none"/>
<circle cx="320.02" cy="531.24" r="1.6" fill="#8da0cb" fill-opacity="0.6" stroke="#444" stroke-width="0.35" stroke-opacity="0.75"/>
<circle cx="316.3" cy="506.04" r="1.6" fill="#8da0cb" fill-opacity="0.6" stroke="#444" stroke-width="0.35" stroke-opacity="0.75"/>
<circle cx="316.56" cy="490.91" r="1.6" fill="#8da0cb" fill-opacity="0.6" stroke="#444" stroke-width="0.35" stroke-opacity="0.75"/>
<circle cx="316.9" cy="475.02" r="1.6" fill="#8da0cb" fill-opacity="0.6" stroke="#444" stroke-width="0.35" stroke-opacity="0.75"/>
<circle cx="316.89" cy="451.67" r="1.6" fill="#8da0cb" fill-opacity="0.6" stroke="#444" stroke-width="0.35" stroke-opacity="0.75"/>
<circle cx="316.62" cy="509.65" r="1.6" fill="#8da0cb" fill-opacity="0.6" stroke="#444" stroke-width="0.35" stroke-opacity="0.75"/>
<circle cx="320.97" cy="489.29" r="1.6" fill="#8da0cb" fill-opacity="0.6" stroke="#444" stroke-width="0.35" stroke-opacity="0.75"/>
<circle cx="320.4" cy="491.37" r="1.6" fill="#8da0cb" fill-opacity="0.6" stroke="#444" stroke-width="0.35" stroke-opacity="0.75"/>
</g>
<path d="M372.4 551.3H681.1M372.4 529.38H681.1M372.4 507.46H681.1M372.4 485.54H681.1M372.4 463.62H681.1M372.4 441.7H681.1" stroke="#e3e3e3" stroke-width="0.9" fill="none"/>
<path d="M372.4 430.74V551.3" stroke="#d9d9d9" stroke-width="1.1" fill="none"/>
<text x="367.7" y="554.3" font-size="8.0" font-weight="normal" font-style="normal" text-anchor="end" fill="#262626" >0.0</text>
<text x="367.7" y="532.38" font-size="8.0" font-weight="normal" font-style="normal" text-anchor="end" fill="#262626" >0.2</text>
<text x="367.7" y="510.46" font-size="8.0" font-weight="normal" font-style="normal" text-anchor="end" fill="#262626" >0.4</text>
<text x="367.7" y="488.54" font-size="8.0" font-weight="normal" font-style="normal" text-anchor="end" fill="#262626" >0.6</text>
<text x="367.7" y="466.62" font-size="8.0" font-weight="normal" font-style="normal" text-anchor="end" fill="#262626" >0.8</text>
<text x="367.7" y="444.7" font-size="8.0" font-weight="normal" font-style="normal" text-anchor="end" fill="#262626" >1.0</text>
<text x="398.12" y="437.9" font-size="7.7" font-weight="normal" font-style="normal" text-anchor="middle" fill="#262626" >n = 13</text>
<text transform="translate(400.12,571.8) rotate(-30)" font-size="10.2" text-anchor="middle" fill="#262626">cefoxitin</text>
<text x="449.57" y="437.9" font-size="7.7" font-weight="normal" font-style="normal" text-anchor="middle" fill="#262626" >n = 26</text>
<text transform="translate(451.57,576.62) rotate(-30)" font-size="10.2" text-anchor="middle" fill="#262626">ciprofloxacin</text>
<text x="501.02" y="437.9" font-size="7.7" font-weight="normal" font-style="normal" text-anchor="middle" fill="#262626" >n = 11</text>
<text transform="translate(503.02,575.77) rotate(-30)" font-size="10.2" text-anchor="middle" fill="#262626">clindamycin</text>
<text x="552.48" y="437.9" font-size="7.7" font-weight="normal" font-style="normal" text-anchor="middle" fill="#262626" >n = 28</text>
<text transform="translate(554.48,577.04) rotate(-30)" font-size="10.2" text-anchor="middle" fill="#262626">erythromycin</text>
<text x="603.92" y="437.9" font-size="7.7" font-weight="normal" font-style="normal" text-anchor="middle" fill="#262626" >n = 23</text>
<text transform="translate(605.92,573.64) rotate(-30)" font-size="10.2" text-anchor="middle" fill="#262626">methicillin</text>
<text x="655.38" y="437.9" font-size="7.7" font-weight="normal" font-style="normal" text-anchor="middle" fill="#262626" >n = 6</text>
<text transform="translate(657.38,571.52) rotate(-30)" font-size="10.2" text-anchor="middle" fill="#262626">oxacillin</text>
<clipPath id="clip4"><rect x="372.4" y="426.74" width="308.7" height="124.86"/></clipPath>
<g clip-path="url(#clip4)">
<path d="M384.4 497.27V497.27M384.4 516.89V524.12M381.04 497.27H387.77M381.04 524.12H387.77" stroke="#777" stroke-width="0.6" fill="none"/>
<rect x="377.68" y="497.27" width="13.45" height="19.62" fill="#6cb89f" stroke="#606060" stroke-width="0.45"/>
<path d="M377.68 503.4H391.13" stroke="#606060" stroke-width="0.55" fill="none"/>
<circle cx="385.68" cy="524.12" r="1.6" fill="#66c2a5" fill-opacity="0.6" stroke="#444" stroke-width="0.35" stroke-opacity="0.75"/>
<circle cx="383.07" cy="516.89" r="1.6" fill="#66c2a5" fill-opacity="0.6" stroke="#444" stroke-width="0.35" stroke-opacity="0.75"/>
<circle cx="384.58" cy="503.4" r="1.6" fill="#66c2a5" fill-opacity="0.6" stroke="#444" stroke-width="0.35" stroke-opacity="0.75"/>
<circle cx="383.33" cy="497.27" r="1.6" fill="#66c2a5" fill-opacity="0.6" stroke="#444" stroke-width="0.35" stroke-opacity="0.75"/>
<circle cx="382.83" cy="497.27" r="1.6" fill="#66c2a5" fill-opacity="0.6" stroke="#444" stroke-width="0.35" stroke-opacity="0.75"/>
<circle cx="382.51" cy="459.89" r="1.6" fill="#66c2a5" fill-opacity="0.6" stroke="#444" stroke-width="0.35" stroke-opacity="0.75"/>
<circle cx="383.03" cy="461.43" r="1.6" fill="#66c2a5" fill-opacity="0.6" stroke="#444" stroke-width="0.35" stroke-opacity="0.75"/>
<circle cx="386.46" cy="466.14" r="1.6" fill="#66c2a5" fill-opacity="0.6" stroke="#444" stroke-width="0.35" stroke-opacity="0.75"/>
<circle cx="385.98" cy="549.66" r="1.6" fill="#66c2a5" fill-opacity="0.6" stroke="#444" stroke-width="0.35" stroke-opacity="0.75"/>
<circle cx="385.88" cy="521.35" r="1.6" fill="#66c2a5" fill-opacity="0.6" stroke="#444" stroke-width="0.35" stroke-opacity="0.75"/>
<circle cx="385.85" cy="519.96" r="1.6" fill="#66c2a5" fill-opacity="0.6" stroke="#444" stroke-width="0.35" stroke-opacity="0.75"/>
<circle cx="382.93" cy="513.34" r="1.6" fill="#66c2a5" fill-opacity="0.6" stroke="#444" stroke-width="0.35" stroke-opacity="0.75"/>
<circle cx="383.49" cy="501.18" r="1.6" fill="#66c2a5" fill-opacity="0.6" stroke="#444" stroke-width="0.35" stroke-opacity="0.75"/>
<path d="M398.12 481.27V464.72M398.12 502.42V528.28M394.76 464.72H401.49M394.76 528.28H401.49" stroke="#777" stroke-width="0.6" fill="none"/>
<rect x="391.4" y="481.27" width="13.45" height="21.15" fill="#e8906e" stroke="#606060" stroke-width="0.45"/>
<path d="M391.4 496.17H404.85" stroke="#606060" stroke-width="0.55" fill="none"/>
<circle cx="399.88" cy="528.28" r="1.6" fill="#fc8d62" fill-opacity="0.6" stroke="#444" stroke-width="0.35" stroke-opacity="0.75"/>
<circle cx="398.35" cy="502.42" r="1.6" fill="#fc8d62" fill-opacity="0.6" stroke="#444" stroke-width="0.35" stroke-opacity="0.75"/>
<circle cx="397.17" cy="496.17" r="1.6" fill="#fc8d62" fill-opacity="0.6" stroke="#444" stroke-width="0.35" stroke-opacity="0.75"/>
<circle cx="400.09" cy="481.27" r="1.6" fill="#fc8d62" fill-opacity="0.6" stroke="#444" stroke-width="0.35" stroke-opacity="0.75"/>
<circle cx="398.47" cy="464.72" r="1.6" fill="#fc8d62" fill-opacity="0.6" stroke="#444" stroke-width="0.35" stroke-opacity="0.75"/>
<circle cx="399.96" cy="444" r="1.6" fill="#fc8d62" fill-opacity="0.6" stroke="#444" stroke-width="0.35" stroke-opacity="0.75"/>
<circle cx="399.8" cy="550.09" r="1.6" fill="#fc8d62" fill-opacity="0.6" stroke="#444" stroke-width="0.35" stroke-opacity="0.75"/>
<circle cx="398.17" cy="486.94" r="1.6" fill="#fc8d62" fill-opacity="0.6" stroke="#444" stroke-width="0.35" stroke-opacity="0.75"/>
<circle cx="397.71" cy="483.8" r="1.6" fill="#fc8d62" fill-opacity="0.6" stroke="#444" stroke-width="0.35" stroke-opacity="0.75"/>
<circle cx="398.6" cy="489.77" r="1.6" fill="#fc8d62" fill-opacity="0.6" stroke="#444" stroke-width="0.35" stroke-opacity="0.75"/>
<circle cx="397.79" cy="491.72" r="1.6" fill="#fc8d62" fill-opacity="0.6" stroke="#444" stroke-width="0.35" stroke-opacity="0.75"/>
<circle cx="396.5" cy="498.18" r="1.6" fill="#fc8d62" fill-opacity="0.6" stroke="#444" stroke-width="0.35" stroke-opacity="0.75"/>
<circle cx="397.19" cy="468.87" r="1.6" fill="#fc8d62" fill-opacity="0.6" stroke="#444" stroke-width="0.35" stroke-opacity="0.75"/>
<path d="M411.85 491.02V491.02M411.85 496.61V499.35M408.48 491.02H415.21M408.48 499.35H415.21" stroke="#777" stroke-width="0.6" fill="none"/>
<rect x="405.12" y="491.02" width="13.45" height="5.59" fill="#93a2c4" stroke="#606060" stroke-width="0.45"/>
<path d="M405.12 494.53H418.57" stroke="#606060" stroke-width="0.55" fill="none"/>
<circle cx="411.43" cy="499.35" r="1.6" fill="#8da0cb" fill-opacity="0.6" stroke="#444" stroke-width="0.35" stroke-opacity="0.75"/>
<circle cx="410.42" cy="496.61" r="1.6" fill="#8da0cb" fill-opacity="0.6" stroke="#444" stroke-width="0.35" stroke-opacity="0.75"/>
<circle cx="412.48" cy="494.53" r="1.6" fill="#8da0cb" fill-opacity="0.6" stroke="#444" stroke-width="0.35" stroke-opacity="0.75"/>
<circle cx="410.77" cy="491.02" r="1.6" fill="#8da0cb" fill-opacity="0.6" stroke="#444" stroke-width="0.35" stroke-opacity="0.75"/>
<circle cx="411.15" cy="491.02" r="1.6" fill="#8da0cb" fill-opacity="0.6" stroke="#444" stroke-width="0.35" stroke-opacity="0.75"/>
<circle cx="413.03" cy="465.15" r="1.6" fill="#8da0cb" fill-opacity="0.6" stroke="#444" stroke-width="0.35" stroke-opacity="0.75"/>
<circle cx="410.98" cy="466.91" r="1.6" fill="#8da0cb" fill-opacity="0.6" stroke="#444" stroke-width="0.35" stroke-opacity="0.75"/>
<circle cx="412.13" cy="469.21" r="1.6" fill="#8da0cb" fill-opacity="0.6" stroke="#444" stroke-width="0.35" stroke-opacity="0.75"/>
<circle cx="413.79" cy="496.37" r="1.6" fill="#8da0cb" fill-opacity="0.6" stroke="#444" stroke-width="0.35" stroke-opacity="0.75"/>
<circle cx="409.93" cy="494.13" r="1.6" fill="#8da0cb" fill-opacity="0.6" stroke="#444" stroke-width="0.35" stroke-opacity="0.75"/>
<circle cx="409.74" cy="494.9" r="1.6" fill="#8da0cb" fill-opacity="0.6" stroke="#444" stroke-width="0.35" stroke-opacity="0.75"/>
<circle cx="410.54" cy="494.69" r="1.6" fill="#8da0cb" fill-opacity="0.6" stroke="#444" stroke-width="0.35" stroke-opacity="0.75"/>
<circle cx="413.12" cy="495.52" r="1.6" fill="#8da0cb" fill-opacity="0.6" stroke="#444" stroke-width="0.35" stroke-opacity="0.75"/>
<path d="M435.85 444.77V441.7M435.85 496.61V518.97M432.49 441.7H439.22M432.49 518.97H439.22" stroke="#777" stroke-width="0.6" fill="none"/>
<rect x="429.13" y="444.77" width="13.45" height="51.84" fill="#6cb89f" stroke="#606060" stroke-width="0.45"/>
<path d="M429.13 459.35H442.58" stroke="#606060" stroke-width="0.55" fill="none"/>
<circle cx="435.81" cy="518.97" r="1.6" fill="#66c2a5" fill-opacity="0.6" stroke="#444" stroke-width="0.35" stroke-opacity="0.75"/>
<circle cx="434.65" cy="496.61" r="1.6" fill="#66c2a5" fill-opacity="0.6" stroke="#444" stroke-width="0.35" stroke-opacity="0.75"/>
<circle cx="438.24" cy="459.35" r="1.6" fill="#66c2a5" fill-opacity="0.6" stroke="#444" stroke-width="0.35" stroke-opacity="0.75"/>
<circle cx="434.04" cy="444.77" r="1.6" fill="#66c2a5" fill-opacity="0.6" stroke="#444" stroke-width="0.35" stroke-opacity="0.75"/>
<circle cx="436" cy="441.7" r="1.6" fill="#66c2a5" fill-opacity="0.6" stroke="#444" stroke-width="0.35" stroke-opacity="0.75"/>
<circle cx="437.17" cy="484.3" r="1.6" fill="#66c2a5" fill-opacity="0.6" stroke="#444" stroke-width="0.35" stroke-opacity="0.75"/>
<circle cx="435.42" cy="505.25" r="1.6" fill="#66c2a5" fill-opacity="0.6" stroke="#444" stroke-width="0.35" stroke-opacity="0.75"/>
<circle cx="438.2" cy="494.39" r="1.6" fill="#66c2a5" fill-opacity="0.6" stroke="#444" stroke-width="0.35" stroke-opacity="0.75"/>
<circle cx="435.75" cy="450.16" r="1.6" fill="#66c2a5" fill-opacity="0.6" stroke="#444" stroke-width="0.35" stroke-opacity="0.75"/>
<circle cx="434.62" cy="458.51" r="1.6" fill="#66c2a5" fill-opacity="0.6" stroke="#444" stroke-width="0.35" stroke-opacity="0.75"/>
<circle cx="435.43" cy="495.67" r="1.6" fill="#66c2a5" fill-opacity="0.6" stroke="#444" stroke-width="0.35" stroke-opacity="0.75"/>
<circle cx="433.63" cy="444.33" r="1.6" fill="#66c2a5" fill-opacity="0.6" stroke="#444" stroke-width="0.35" stroke-opacity="0.75"/>
<circle cx="435.48" cy="475.33" r="1.6" fill="#66c2a5" fill-opacity="0.6" stroke="#444" stroke-width="0.35" stroke-opacity="0.75"/>
<circle cx="434.65" cy="464.44" r="1.6" fill="#66c2a5" fill-opacity="0.6" stroke="#444" stroke-width="0.35" stroke-opacity="0.75"/>
<circle cx="437.72" cy="481.4" r="1.6" fill="#66c2a5" fill-opacity="0.6" stroke="#444" stroke-width="0.35" stroke-opacity="0.75"/>
<circle cx="437.44" cy="484.65" r="1.6" fill="#66c2a5" fill-opacity="0.6" stroke="#444" stroke-width="0.35" stroke-opacity="0.75"/>
<circle cx="435.85" cy="489.48" r="1.6" fill="#66c2a5" fill-opacity="0.6" stroke="#444" stroke-width="0.35" stroke-opacity="0.75"/>
<circle cx="433.61" cy="479.43" r="1.6" fill="#66c2a5" fill-opacity="0.6" stroke="#444" stroke-width="0.35" stroke-opacity="0.75"/>
<circle cx="434.68" cy="515.51" r="1.6" fill="#66c2a5" fill-opacity="0.6" stroke="#444" stroke-width="0.35" stroke-opacity="0.75"/>
<circle cx="434.62" cy="458.41" r="1.6" fill="#66c2a5" fill-opacity="0.6" stroke="#444" stroke-width="0.35" stroke-opacity="0.75"/>
<circle cx="434.45" cy="496.53" r="1.6" fill="#66c2a5" fill-opacity="0.6" stroke="#444" stroke-width="0.35" stroke-opacity="0.75"/>
<circle cx="434.57" cy="443.11" r="1.6" fill="#66c2a5" fill-opacity="0.6" stroke="#444" stroke-width="0.35" stroke-opacity="0.75"/>
<circle cx="437.63" cy="485.83" r="1.6" fill="#66c2a5" fill-opacity="0.6" stroke="#444" stroke-width="0.35" stroke-opacity="0.75"/>
<circle cx="434.14" cy="514.7" r="1.6" fill="#66c2a5" fill-opacity="0.6" stroke="#444" stroke-width="0.35" stroke-opacity="0.75"/>
<circle cx="433.7" cy="466.67" r="1.6" fill="#66c2a5" fill-opacity="0.6" stroke="#444" stroke-width="0.35" stroke-opacity="0.75"/>
<circle cx="437.91" cy="515.81" r="1.6" fill="#66c2a5" fill-opacity="0.6" stroke="#444" stroke-width="0.35" stroke-opacity="0.75"/>
<path d="M449.57 442.8V441.7M449.57 484.22V505.49M446.21 441.7H452.94M446.21 505.49H452.94" stroke="#777" stroke-width="0.6" fill="none"/>
<rect x="442.85" y="442.8" width="13.45" height="41.43" fill="#e8906e" stroke="#606060" stroke-width="0.45"/>
<path d="M442.85 452.22H456.3" stroke="#606060" stroke-width="0.55" fill="none"/>
<circle cx="447.24" cy="505.49" r="1.6" fill="#fc8d62" fill-opacity="0.6" stroke="#444" stroke-width="0.35" stroke-opacity="0.75"/>
<circle cx="451.38" cy="484.22" r="1.6" fill="#fc8d62" fill-opacity="0.6" stroke="#444" stroke-width="0.35" stroke-opacity="0.75"/>
<circle cx="447.73" cy="452.22" r="1.6" fill="#fc8d62" fill-opacity="0.6" stroke="#444" stroke-width="0.35" stroke-opacity="0.75"/>
<circle cx="451.06" cy="442.8" r="1.6" fill="#fc8d62" fill-opacity="0.6" stroke="#444" stroke-width="0.35" stroke-opacity="0.75"/>
<circle cx="450.93" cy="441.7" r="1.6" fill="#fc8d62" fill-opacity="0.6" stroke="#444" stroke-width="0.35" stroke-opacity="0.75"/>
<circle cx="451.39" cy="443.19" r="1.6" fill="#fc8d62" fill-opacity="0.6" stroke="#444" stroke-width="0.35" stroke-opacity="0.75"/>
<circle cx="449.82" cy="446.9" r="1.6" fill="#fc8d62" fill-opacity="0.6" stroke="#444" stroke-width="0.35" stroke-opacity="0.75"/>
<circle cx="451.39" cy="451.46" r="1.6" fill="#fc8d62" fill-opacity="0.6" stroke="#444" stroke-width="0.35" stroke-opacity="0.75"/>
<circle cx="448.14" cy="463.75" r="1.6" fill="#fc8d62" fill-opacity="0.6" stroke="#444" stroke-width="0.35" stroke-opacity="0.75"/>
<circle cx="450.4" cy="492.03" r="1.6" fill="#fc8d62" fill-opacity="0.6" stroke="#444" stroke-width="0.35" stroke-opacity="0.75"/>
<circle cx="448.76" cy="446.95" r="1.6" fill="#fc8d62" fill-opacity="0.6" stroke="#444" stroke-width="0.35" stroke-opacity="0.75"/>
<circle cx="451.46" cy="470.28" r="1.6" fill="#fc8d62" fill-opacity="0.6" stroke="#444" stroke-width="0.35" stroke-opacity="0.75"/>
<circle cx="450.89" cy="451.1" r="1.6" fill="#fc8d62" fill-opacity="0.6" stroke="#444" stroke-width="0.35" stroke-opacity="0.75"/>
<circle cx="449.44" cy="450.47" r="1.6" fill="#fc8d62" fill-opacity="0.6" stroke="#444" stroke-width="0.35" stroke-opacity="0.75"/>
<circle cx="449.7" cy="457.1" r="1.6" fill="#fc8d62" fill-opacity="0.6" stroke="#444" stroke-width="0.35" stroke-opacity="0.75"/>
<circle cx="447.3" cy="473.11" r="1.6" fill="#fc8d62" fill-opacity="0.6" stroke="#444" stroke-width="0.35" stroke-opacity="0.75"/>
<circle cx="447.34" cy="444.61" r="1.6" fill="#fc8d62" fill-opacity="0.6" stroke="#444" stroke-width="0.35" stroke-opacity="0.75"/>
<circle cx="450.03" cy="443.54" r="1.6" fill="#fc8d62" fill-opacity="0.6" stroke="#444" stroke-width="0.35" stroke-opacity="0.75"/>
<circle cx="449.52" cy="456.54" r="1.6" fill="#fc8d62" fill-opacity="0.6" stroke="#444" stroke-width="0.35" stroke-opacity="0.75"/>
<circle cx="451.33" cy="448.14" r="1.6" fill="#fc8d62" fill-opacity="0.6" stroke="#444" stroke-width="0.35" stroke-opacity="0.75"/>
<circle cx="450.09" cy="443.71" r="1.6" fill="#fc8d62" fill-opacity="0.6" stroke="#444" stroke-width="0.35" stroke-opacity="0.75"/>
<circle cx="447.84" cy="481.72" r="1.6" fill="#fc8d62" fill-opacity="0.6" stroke="#444" stroke-width="0.35" stroke-opacity="0.75"/>
<circle cx="448.92" cy="464.97" r="1.6" fill="#fc8d62" fill-opacity="0.6" stroke="#444" stroke-width="0.35" stroke-opacity="0.75"/>
<circle cx="450.86" cy="453.3" r="1.6" fill="#fc8d62" fill-opacity="0.6" stroke="#444" stroke-width="0.35" stroke-opacity="0.75"/>
<circle cx="449.69" cy="475.17" r="1.6" fill="#fc8d62" fill-opacity="0.6" stroke="#444" stroke-width="0.35" stroke-opacity="0.75"/>
<circle cx="447.23" cy="446.65" r="1.6" fill="#fc8d62" fill-opacity="0.6" stroke="#444" stroke-width="0.35" stroke-opacity="0.75"/>
<path d="M463.3 443.78V441.7M463.3 486.42V504.5M459.93 441.7H466.66M459.93 504.5H466.66" stroke="#777" stroke-width="0.6" fill="none"/>
<rect x="456.57" y="443.78" width="13.45" height="42.63" fill="#93a2c4" stroke="#606060" stroke-width="0.45"/>
<path d="M456.57 460.99H470.02" stroke="#606060" stroke-width="0.55" fill="none"/>
<circle cx="464.96" cy="504.5" r="1.6" fill="#8da0cb" fill-opacity="0.6" stroke="#444" stroke-width="0.35" stroke-opacity="0.75"/>
<circle cx="462.61" cy="486.42" r="1.6" fill="#8da0cb" fill-opacity="0.6" stroke="#444" stroke-width="0.35" stroke-opacity="0.75"/>
<circle cx="464.58" cy="460.99" r="1.6" fill="#8da0cb" fill-opacity="0.6" stroke="#444" stroke-width="0.35" stroke-opacity="0.75"/>
<circle cx="465.63" cy="443.78" r="1.6" fill="#8da0cb" fill-opacity="0.6" stroke="#444" stroke-width="0.35" stroke-opacity="0.75"/>
<circle cx="463.9" cy="441.7" r="1.6" fill="#8da0cb" fill-opacity="0.6" stroke="#444" stroke-width="0.35" stroke-opacity="0.75"/>
<circle cx="464.14" cy="451.13" r="1.6" fill="#8da0cb" fill-opacity="0.6" stroke="#444" stroke-width="0.35" stroke-opacity="0.75"/>
<circle cx="463.82" cy="470.38" r="1.6" fill="#8da0cb" fill-opacity="0.6" stroke="#444" stroke-width="0.35" stroke-opacity="0.75"/>
<circle cx="462.4" cy="455.05" r="1.6" fill="#8da0cb" fill-opacity="0.6" stroke="#444" stroke-width="0.35" stroke-opacity="0.75"/>
<circle cx="465.28" cy="489.82" r="1.6" fill="#8da0cb" fill-opacity="0.6" stroke="#444" stroke-width="0.35" stroke-opacity="0.75"/>
<circle cx="463.14" cy="445.22" r="1.6" fill="#8da0cb" fill-opacity="0.6" stroke="#444" stroke-width="0.35" stroke-opacity="0.75"/>
<circle cx="465.27" cy="497.31" r="1.6" fill="#8da0cb" fill-opacity="0.6" stroke="#444" stroke-width="0.35" stroke-opacity="0.75"/>
<circle cx="462.36" cy="448.67" r="1.6" fill="#8da0cb" fill-opacity="0.6" stroke="#444" stroke-width="0.35" stroke-opacity="0.75"/>
<circle cx="465.06" cy="467.92" r="1.6" fill="#8da0cb" fill-opacity="0.6" stroke="#444" stroke-width="0.35" stroke-opacity="0.75"/>
<circle cx="464.67" cy="453.31" r="1.6" fill="#8da0cb" fill-opacity="0.6" stroke="#444" stroke-width="0.35" stroke-opacity="0.75"/>
<circle cx="463.84" cy="449.15" r="1.6" fill="#8da0cb" fill-opacity="0.6" stroke="#444" stroke-width="0.35" stroke-opacity="0.75"/>
<circle cx="463.02" cy="485.52" r="1.6" fill="#8da0cb" fill-opacity="0.6" stroke="#444" stroke-width="0.35" stroke-opacity="0.75"/>
<circle cx="461.57" cy="468.41" r="1.6" fill="#8da0cb" fill-opacity="0.6" stroke="#444" stroke-width="0.35" stroke-opacity="0.75"/>
<circle cx="464.6" cy="479.28" r="1.6" fill="#8da0cb" fill-opacity="0.6" stroke="#444" stroke-width="0.35" stroke-opacity="0.75"/>
<circle cx="462.63" cy="478.9" r="1.6" fill="#8da0cb" fill-opacity="0.6" stroke="#444" stroke-width="0.35" stroke-opacity="0.75"/>
<circle cx="464.07" cy="473.46" r="1.6" fill="#8da0cb" fill-opacity="0.6" stroke="#444" stroke-width="0.35" stroke-opacity="0.75"/>
<circle cx="461.53" cy="470.47" r="1.6" fill="#8da0cb" fill-opacity="0.6" stroke="#444" stroke-width="0.35" stroke-opacity="0.75"/>
<circle cx="461.29" cy="456.12" r="1.6" fill="#8da0cb" fill-opacity="0.6" stroke="#444" stroke-width="0.35" stroke-opacity="0.75"/>
<circle cx="461.59" cy="484.92" r="1.6" fill="#8da0cb" fill-opacity="0.6" stroke="#444" stroke-width="0.35" stroke-opacity="0.75"/>
<circle cx="464.78" cy="465.67" r="1.6" fill="#8da0cb" fill-opacity="0.6" stroke="#444" stroke-width="0.35" stroke-opacity="0.75"/>
<circle cx="461.75" cy="465.77" r="1.6" fill="#8da0cb" fill-opacity="0.6" stroke="#444" stroke-width="0.35" stroke-opacity="0.75"/>
<circle cx="465.22" cy="489.09" r="1.6" fill="#8da0cb" fill-opacity="0.6" stroke="#444" stroke-width="0.35" stroke-opacity="0.75"/>
<path d="M487.3 480.06V463.07M487.3 512.72V551.3M483.94 463.07H490.67M483.94 551.3H490.67" stroke="#777" stroke-width="0.6" fill="none"/>
<rect x="480.58" y="480.06" width="13.45" height="32.66" fill="#6cb89f" stroke="#606060" stroke-width="0.45"/>
<path d="M480.58 500.99H494.03" stroke="#606060" stroke-width="0.55" fill="none"/>
<circle cx="485" cy="551.3" r="1.6" fill="#66c2a5" fill-opacity="0.6" stroke="#444" stroke-width="0.35" stroke-opacity="0.75"/>
<circle cx="489.46" cy="512.72" r="1.6" fill="#66c2a5" fill-opacity="0.6" stroke="#444" stroke-width="0.35" stroke-opacity="0.75"/>
<circle cx="488.89" cy="500.99" r="1.6" fill="#66c2a5" fill-opacity="0.6" stroke="#444" stroke-width="0.35" stroke-opacity="0.75"/>
<circle cx="488.75" cy="480.06" r="1.6" fill="#66c2a5" fill-opacity="0.6" stroke="#444" stroke-width="0.35" stroke-opacity="0.75"/>
<circle cx="488.78" cy="463.07" r="1.6" fill="#66c2a5" fill-opacity="0.6" stroke="#444" stroke-width="0.35" stroke-opacity="0.75"/>
<circle cx="489.48" cy="500.48" r="1.6" fill="#66c2a5" fill-opacity="0.6" stroke="#444" stroke-width="0.35" stroke-opacity="0.75"/>
<circle cx="485.67" cy="496.53" r="1.6" fill="#66c2a5" fill-opacity="0.6" stroke="#444" stroke-width="0.35" stroke-opacity="0.75"/>
<circle cx="487.71" cy="515.78" r="1.6" fill="#66c2a5" fill-opacity="0.6" stroke="#444" stroke-width="0.35" stroke-opacity="0.75"/>
<circle cx="487.28" cy="506.85" r="1.6" fill="#66c2a5" fill-opacity="0.6" stroke="#444" stroke-width="0.35" stroke-opacity="0.75"/>
<circle cx="487.66" cy="502.05" r="1.6" fill="#66c2a5" fill-opacity="0.6" stroke="#444" stroke-width="0.35" stroke-opacity="0.75"/>
<circle cx="489.41" cy="549.26" r="1.6" fill="#66c2a5" fill-opacity="0.6" stroke="#444" stroke-width="0.35" stroke-opacity="0.75"/>
<path d="M501.02 473.37V447.95M501.02 508.56V551.3M497.66 447.95H504.39M497.66 551.3H504.39" stroke="#777" stroke-width="0.6" fill="none"/>
<rect x="494.3" y="473.37" width="13.45" height="35.18" fill="#e8906e" stroke="#606060" stroke-width="0.45"/>
<path d="M494.3 497.27H507.75" stroke="#606060" stroke-width="0.55" fill="none"/>
<circle cx="502.93" cy="551.3" r="1.6" fill="#fc8d62" fill-opacity="0.6" stroke="#444" stroke-width="0.35" stroke-opacity="0.75"/>
<circle cx="502" cy="508.56" r="1.6" fill="#fc8d62" fill-opacity="0.6" stroke="#444" stroke-width="0.35" stroke-opacity="0.75"/>
<circle cx="500.11" cy="497.27" r="1.6" fill="#fc8d62" fill-opacity="0.6" stroke="#444" stroke-width="0.35" stroke-opacity="0.75"/>
<circle cx="499.73" cy="473.37" r="1.6" fill="#fc8d62" fill-opacity="0.6" stroke="#444" stroke-width="0.35" stroke-opacity="0.75"/>
<circle cx="500.19" cy="447.95" r="1.6" fill="#fc8d62" fill-opacity="0.6" stroke="#444" stroke-width="0.35" stroke-opacity="0.75"/>
<circle cx="501.63" cy="474.48" r="1.6" fill="#fc8d62" fill-opacity="0.6" stroke="#444" stroke-width="0.35" stroke-opacity="0.75"/>
<circle cx="503.41" cy="483.96" r="1.6" fill="#fc8d62" fill-opacity="0.6" stroke="#444" stroke-width="0.35" stroke-opacity="0.75"/>
<circle cx="502.94" cy="482.34" r="1.6" fill="#fc8d62" fill-opacity="0.6" stroke="#444" stroke-width="0.35" stroke-opacity="0.75"/>
<circle cx="500.55" cy="479.31" r="1.6" fill="#fc8d62" fill-opacity="0.6" stroke="#444" stroke-width="0.35" stroke-opacity="0.75"/>
<circle cx="500.55" cy="455.41" r="1.6" fill="#fc8d62" fill-opacity="0.6" stroke="#444" stroke-width="0.35" stroke-opacity="0.75"/>
<circle cx="502.55" cy="487.48" r="1.6" fill="#fc8d62" fill-opacity="0.6" stroke="#444" stroke-width="0.35" stroke-opacity="0.75"/>
<path d="M514.75 482.14V467.57M514.75 496.61V496.61M511.38 467.57H518.11M511.38 496.61H518.11" stroke="#777" stroke-width="0.6" fill="none"/>
<rect x="508.02" y="482.14" width="13.45" height="14.47" fill="#93a2c4" stroke="#606060" stroke-width="0.45"/>
<path d="M508.02 496.61H521.47" stroke="#606060" stroke-width="0.55" fill="none"/>
<circle cx="517.02" cy="496.61" r="1.6" fill="#8da0cb" fill-opacity="0.6" stroke="#444" stroke-width="0.35" stroke-opacity="0.75"/>
<circle cx="517.09" cy="496.61" r="1.6" fill="#8da0cb" fill-opacity="0.6" stroke="#444" stroke-width="0.35" stroke-opacity="0.75"/>
<circle cx="516.76" cy="496.61" r="1.6" fill="#8da0cb" fill-opacity="0.6" stroke="#444" stroke-width="0.35" stroke-opacity="0.75"/>
<circle cx="515.24" cy="482.14" r="1.6" fill="#8da0cb" fill-opacity="0.6" stroke="#444" stroke-width="0.35" stroke-opacity="0.75"/>
<circle cx="513.84" cy="467.57" r="1.6" fill="#8da0cb" fill-opacity="0.6" stroke="#444" stroke-width="0.35" stroke-opacity="0.75"/>
<circle cx="512.78" cy="484.66" r="1.6" fill="#8da0cb" fill-opacity="0.6" stroke="#444" stroke-width="0.35" stroke-opacity="0.75"/>
<circle cx="513.58" cy="491.27" r="1.6" fill="#8da0cb" fill-opacity="0.6" stroke="#444" stroke-width="0.35" stroke-opacity="0.75"/>
<circle cx="513.41" cy="486.58" r="1.6" fill="#8da0cb" fill-opacity="0.6" stroke="#444" stroke-width="0.35" stroke-opacity="0.75"/>
<circle cx="516.8" cy="491.34" r="1.6" fill="#8da0cb" fill-opacity="0.6" stroke="#444" stroke-width="0.35" stroke-opacity="0.75"/>
<circle cx="516.63" cy="487.59" r="1.6" fill="#8da0cb" fill-opacity="0.6" stroke="#444" stroke-width="0.35" stroke-opacity="0.75"/>
<circle cx="516.08" cy="494.64" r="1.6" fill="#8da0cb" fill-opacity="0.6" stroke="#444" stroke-width="0.35" stroke-opacity="0.75"/>
<path d="M538.75 470.31V441.7M538.75 498.69V539.24M535.39 441.7H542.12M535.39 539.24H542.12" stroke="#777" stroke-width="0.6" fill="none"/>
<rect x="532.03" y="470.31" width="13.45" height="28.39" fill="#6cb89f" stroke="#606060" stroke-width="0.45"/>
<path d="M532.03 487.29H545.48" stroke="#606060" stroke-width="0.55" fill="none"/>
<circle cx="536.49" cy="539.24" r="1.6" fill="#66c2a5" fill-opacity="0.6" stroke="#444" stroke-width="0.35" stroke-opacity="0.75"/>
<circle cx="540.56" cy="498.69" r="1.6" fill="#66c2a5" fill-opacity="0.6" stroke="#444" stroke-width="0.35" stroke-opacity="0.75"/>
<circle cx="536.45" cy="487.29" r="1.6" fill="#66c2a5" fill-opacity="0.6" stroke="#444" stroke-width="0.35" stroke-opacity="0.75"/>
<circle cx="540.96" cy="470.31" r="1.6" fill="#66c2a5" fill-opacity="0.6" stroke="#444" stroke-width="0.35" stroke-opacity="0.75"/>
<circle cx="537.09" cy="441.7" r="1.6" fill="#66c2a5" fill-opacity="0.6" stroke="#444" stroke-width="0.35" stroke-opacity="0.75"/>
<circle cx="537.11" cy="549.66" r="1.6" fill="#66c2a5" fill-opacity="0.6" stroke="#444" stroke-width="0.35" stroke-opacity="0.75"/>
<circle cx="540.43" cy="515.99" r="1.6" fill="#66c2a5" fill-opacity="0.6" stroke="#444" stroke-width="0.35" stroke-opacity="0.75"/>
<circle cx="540.31" cy="446.78" r="1.6" fill="#66c2a5" fill-opacity="0.6" stroke="#444" stroke-width="0.35" stroke-opacity="0.75"/>
<circle cx="537.47" cy="462.14" r="1.6" fill="#66c2a5" fill-opacity="0.6" stroke="#444" stroke-width="0.35" stroke-opacity="0.75"/>
<circle cx="539.01" cy="483.16" r="1.6" fill="#66c2a5" fill-opacity="0.6" stroke="#444" stroke-width="0.35" stroke-opacity="0.75"/>
<circle cx="538.64" cy="491.25" r="1.6" fill="#66c2a5" fill-opacity="0.6" stroke="#444" stroke-width="0.35" stroke-opacity="0.75"/>
<circle cx="539.8" cy="494.22" r="1.6" fill="#66c2a5" fill-opacity="0.6" stroke="#444" stroke-width="0.35" stroke-opacity="0.75"/>
<circle cx="537.24" cy="536.15" r="1.6" fill="#66c2a5" fill-opacity="0.6" stroke="#444" stroke-width="0.35" stroke-opacity="0.75"/>
<circle cx="540.32" cy="527.37" r="1.6" fill="#66c2a5" fill-opacity="0.6" stroke="#444" stroke-width="0.35" stroke-opacity="0.75"/>
<circle cx="541.14" cy="442.43" r="1.6" fill="#66c2a5" fill-opacity="0.6" stroke="#444" stroke-width="0.35" stroke-opacity="0.75"/>
<circle cx="539.75" cy="452.41" r="1.6" fill="#66c2a5" fill-opacity="0.6" stroke="#444" stroke-width="0.35" stroke-opacity="0.75"/>
<circle cx="540.78" cy="477.93" r="1.6" fill="#66c2a5" fill-opacity="0.6" stroke="#444" stroke-width="0.35" stroke-opacity="0.75"/>
<circle cx="540.85" cy="471.65" r="1.6" fill="#66c2a5" fill-opacity="0.6" stroke="#444" stroke-width="0.35" stroke-opacity="0.75"/>
<circle cx="538.18" cy="478.27" r="1.6" fill="#66c2a5" fill-opacity="0.6" stroke="#444" stroke-width="0.35" stroke-opacity="0.75"/>
<circle cx="540.42" cy="479" r="1.6" fill="#66c2a5" fill-opacity="0.6" stroke="#444" stroke-width="0.35" stroke-opacity="0.75"/>
<circle cx="540.36" cy="483.01" r="1.6" fill="#66c2a5" fill-opacity="0.6" stroke="#444" stroke-width="0.35" stroke-opacity="0.75"/>
<circle cx="539.17" cy="494.31" r="1.6" fill="#66c2a5" fill-opacity="0.6" stroke="#444" stroke-width="0.35" stroke-opacity="0.75"/>
<circle cx="536.87" cy="484.95" r="1.6" fill="#66c2a5" fill-opacity="0.6" stroke="#444" stroke-width="0.35" stroke-opacity="0.75"/>
<circle cx="539.33" cy="522.85" r="1.6" fill="#66c2a5" fill-opacity="0.6" stroke="#444" stroke-width="0.35" stroke-opacity="0.75"/>
<circle cx="540.73" cy="491.42" r="1.6" fill="#66c2a5" fill-opacity="0.6" stroke="#444" stroke-width="0.35" stroke-opacity="0.75"/>
<circle cx="537.82" cy="472.71" r="1.6" fill="#66c2a5" fill-opacity="0.6" stroke="#444" stroke-width="0.35" stroke-opacity="0.75"/>
<circle cx="539.46" cy="489.37" r="1.6" fill="#66c2a5" fill-opacity="0.6" stroke="#444" stroke-width="0.35" stroke-opacity="0.75"/>
<circle cx="540.66" cy="497.97" r="1.6" fill="#66c2a5" fill-opacity="0.6" stroke="#444" stroke-width="0.35" stroke-opacity="0.75"/>
<path d="M552.48 464.06V441.7M552.48 499.35V544.83M549.11 441.7H555.84M549.11 544.83H555.84" stroke="#777" stroke-width="0.6" fill="none"/>
<rect x="545.75" y="464.06" width="13.45" height="35.29" fill="#e8906e" stroke="#606060" stroke-width="0.45"/>
<path d="M545.75 476.55H559.2" stroke="#606060" stroke-width="0.55" fill="none"/>
<circle cx="553.67" cy="544.83" r="1.6" fill="#fc8d62" fill-opacity="0.6" stroke="#444" stroke-width="0.35" stroke-opacity="0.75"/>
<circle cx="553.99" cy="499.35" r="1.6" fill="#fc8d62" fill-opacity="0.6" stroke="#444" stroke-width="0.35" stroke-opacity="0.75"/>
<circle cx="551.51" cy="476.55" r="1.6" fill="#fc8d62" fill-opacity="0.6" stroke="#444" stroke-width="0.35" stroke-opacity="0.75"/>
<circle cx="551.94" cy="464.06" r="1.6" fill="#fc8d62" fill-opacity="0.6" stroke="#444" stroke-width="0.35" stroke-opacity="0.75"/>
<circle cx="552.98" cy="441.7" r="1.6" fill="#fc8d62" fill-opacity="0.6" stroke="#444" stroke-width="0.35" stroke-opacity="0.75"/>
<circle cx="550.24" cy="498.04" r="1.6" fill="#fc8d62" fill-opacity="0.6" stroke="#444" stroke-width="0.35" stroke-opacity="0.75"/>
<circle cx="552.05" cy="490.33" r="1.6" fill="#fc8d62" fill-opacity="0.6" stroke="#444" stroke-width="0.35" stroke-opacity="0.75"/>
<circle cx="554.75" cy="475.99" r="1.6" fill="#fc8d62" fill-opacity="0.6" stroke="#444" stroke-width="0.35" stroke-opacity="0.75"/>
<circle cx="553.69" cy="452.46" r="1.6" fill="#fc8d62" fill-opacity="0.6" stroke="#444" stroke-width="0.35" stroke-opacity="0.75"/>
<circle cx="554.22" cy="487.38" r="1.6" fill="#fc8d62" fill-opacity="0.6" stroke="#444" stroke-width="0.35" stroke-opacity="0.75"/>
<circle cx="551.51" cy="467.88" r="1.6" fill="#fc8d62" fill-opacity="0.6" stroke="#444" stroke-width="0.35" stroke-opacity="0.75"/>
<circle cx="553.39" cy="468.18" r="1.6" fill="#fc8d62" fill-opacity="0.6" stroke="#444" stroke-width="0.35" stroke-opacity="0.75"/>
<circle cx="553.86" cy="474.69" r="1.6" fill="#fc8d62" fill-opacity="0.6" stroke="#444" stroke-width="0.35" stroke-opacity="0.75"/>
<circle cx="553.46" cy="480.75" r="1.6" fill="#fc8d62" fill-opacity="0.6" stroke="#444" stroke-width="0.35" stroke-opacity="0.75"/>
<circle cx="552.17" cy="486.89" r="1.6" fill="#fc8d62" fill-opacity="0.6" stroke="#444" stroke-width="0.35" stroke-opacity="0.75"/>
<circle cx="550.91" cy="471.25" r="1.6" fill="#fc8d62" fill-opacity="0.6" stroke="#444" stroke-width="0.35" stroke-opacity="0.75"/>
<circle cx="550.16" cy="480.09" r="1.6" fill="#fc8d62" fill-opacity="0.6" stroke="#444" stroke-width="0.35" stroke-opacity="0.75"/>
<circle cx="554.33" cy="490.53" r="1.6" fill="#fc8d62" fill-opacity="0.6" stroke="#444" stroke-width="0.35" stroke-opacity="0.75"/>
<circle cx="554.55" cy="537.48" r="1.6" fill="#fc8d62" fill-opacity="0.6" stroke="#444" stroke-width="0.35" stroke-opacity="0.75"/>
<circle cx="551.4" cy="467.29" r="1.6" fill="#fc8d62" fill-opacity="0.6" stroke="#444" stroke-width="0.35" stroke-opacity="0.75"/>
<circle cx="553.7" cy="495.23" r="1.6" fill="#fc8d62" fill-opacity="0.6" stroke="#444" stroke-width="0.35" stroke-opacity="0.75"/>
<circle cx="552.03" cy="470.17" r="1.6" fill="#fc8d62" fill-opacity="0.6" stroke="#444" stroke-width="0.35" stroke-opacity="0.75"/>
<circle cx="553.09" cy="499.32" r="1.6" fill="#fc8d62" fill-opacity="0.6" stroke="#444" stroke-width="0.35" stroke-opacity="0.75"/>
<circle cx="554.12" cy="477.35" r="1.6" fill="#fc8d62" fill-opacity="0.6" stroke="#444" stroke-width="0.35" stroke-opacity="0.75"/>
<circle cx="551.62" cy="498.7" r="1.6" fill="#fc8d62" fill-opacity="0.6" stroke="#444" stroke-width="0.35" stroke-opacity="0.75"/>
<circle cx="553.05" cy="498.14" r="1.6" fill="#fc8d62" fill-opacity="0.6" stroke="#444" stroke-width="0.35" stroke-opacity="0.75"/>
<circle cx="551.3" cy="494.24" r="1.6" fill="#fc8d62" fill-opacity="0.6" stroke="#444" stroke-width="0.35" stroke-opacity="0.75"/>
<circle cx="552.53" cy="453.03" r="1.6" fill="#fc8d62" fill-opacity="0.6" stroke="#444" stroke-width="0.35" stroke-opacity="0.75"/>
<path d="M566.2 468.66V441.7M566.2 498.25V498.25M562.83 441.7H569.56M562.83 498.25H569.56" stroke="#777" stroke-width="0.6" fill="none"/>
<rect x="559.47" y="468.66" width="13.45" height="29.59" fill="#93a2c4" stroke="#606060" stroke-width="0.45"/>
<path d="M559.47 483.79H572.92" stroke="#606060" stroke-width="0.55" fill="none"/>
<circle cx="568.36" cy="498.25" r="1.6" fill="#8da0cb" fill-opacity="0.6" stroke="#444" stroke-width="0.35" stroke-opacity="0.75"/>
<circle cx="567.08" cy="498.25" r="1.6" fill="#8da0cb" fill-opacity="0.6" stroke="#444" stroke-width="0.35" stroke-opacity="0.75"/>
<circle cx="568.49" cy="483.79" r="1.6" fill="#8da0cb" fill-opacity="0.6" stroke="#444" stroke-width="0.35" stroke-opacity="0.75"/>
<circle cx="564.07" cy="468.66" r="1.6" fill="#8da0cb" fill-opacity="0.6" stroke="#444" stroke-width="0.35" stroke-opacity="0.75"/>
<circle cx="568.13" cy="441.7" r="1.6" fill="#8da0cb" fill-opacity="0.6" stroke="#444" stroke-width="0.35" stroke-opacity="0.75"/>
<circle cx="567.18" cy="483.35" r="1.6" fill="#8da0cb" fill-opacity="0.6" stroke="#444" stroke-width="0.35" stroke-opacity="0.75"/>
<circle cx="567" cy="446.54" r="1.6" fill="#8da0cb" fill-opacity="0.6" stroke="#444" stroke-width="0.35" stroke-opacity="0.75"/>
<circle cx="567.84" cy="455.37" r="1.6" fill="#8da0cb" fill-opacity="0.6" stroke="#444" stroke-width="0.35" stroke-opacity="0.75"/>
<circle cx="564.3" cy="442.47" r="1.6" fill="#8da0cb" fill-opacity="0.6" stroke="#444" stroke-width="0.35" stroke-opacity="0.75"/>
<circle cx="564.75" cy="493.04" r="1.6" fill="#8da0cb" fill-opacity="0.6" stroke="#444" stroke-width="0.35" stroke-opacity="0.75"/>
<circle cx="564.46" cy="445.49" r="1.6" fill="#8da0cb" fill-opacity="0.6" stroke="#444" stroke-width="0.35" stroke-opacity="0.75"/>
<circle cx="566.09" cy="471.9" r="1.6" fill="#8da0cb" fill-opacity="0.6" stroke="#444" stroke-width="0.35" stroke-opacity="0.75"/>
<circle cx="566.42" cy="494.88" r="1.6" fill="#8da0cb" fill-opacity="0.6" stroke="#444" stroke-width="0.35" stroke-opacity="0.75"/>
<circle cx="566.39" cy="472.49" r="1.6" fill="#8da0cb" fill-opacity="0.6" stroke="#444" stroke-width="0.35" stroke-opacity="0.75"/>
<circle cx="565.53" cy="493.33" r="1.6" fill="#8da0cb" fill-opacity="0.6" stroke="#444" stroke-width="0.35" stroke-opacity="0.75"/>
<circle cx="567.36" cy="450.56" r="1.6" fill="#8da0cb" fill-opacity="0.6" stroke="#444" stroke-width="0.35" stroke-opacity="0.75"/>
<circle cx="567.82" cy="443.32" r="1.6" fill="#8da0cb" fill-opacity="0.6" stroke="#444" stroke-width="0.35" stroke-opacity="0.75"/>
<circle cx="567.44" cy="466.17" r="1.6" fill="#8da0cb" fill-opacity="0.6" stroke="#444" stroke-width="0.35" stroke-opacity="0.75"/>
<circle cx="563.98" cy="471.41" r="1.6" fill="#8da0cb" fill-opacity="0.6" stroke="#444" stroke-width="0.35" stroke-opacity="0.75"/>
<circle cx="564.53" cy="450.36" r="1.6" fill="#8da0cb" fill-opacity="0.6" stroke="#444" stroke-width="0.35" stroke-opacity="0.75"/>
<circle cx="564.85" cy="457.63" r="1.6" fill="#8da0cb" fill-opacity="0.6" stroke="#444" stroke-width="0.35" stroke-opacity="0.75"/>
<circle cx="564.94" cy="454.9" r="1.6" fill="#8da0cb" fill-opacity="0.6" stroke="#444" stroke-width="0.35" stroke-opacity="0.75"/>
<circle cx="566.55" cy="486.59" r="1.6" fill="#8da0cb" fill-opacity="0.6" stroke="#444" stroke-width="0.35" stroke-opacity="0.75"/>
<circle cx="564.73" cy="479.91" r="1.6" fill="#8da0cb" fill-opacity="0.6" stroke="#444" stroke-width="0.35" stroke-opacity="0.75"/>
<circle cx="566.79" cy="442.67" r="1.6" fill="#8da0cb" fill-opacity="0.6" stroke="#444" stroke-width="0.35" stroke-opacity="0.75"/>
<circle cx="565.45" cy="487.47" r="1.6" fill="#8da0cb" fill-opacity="0.6" stroke="#444" stroke-width="0.35" stroke-opacity="0.75"/>
<circle cx="565.54" cy="493.17" r="1.6" fill="#8da0cb" fill-opacity="0.6" stroke="#444" stroke-width="0.35" stroke-opacity="0.75"/>
<circle cx="567.19" cy="444.18" r="1.6" fill="#8da0cb" fill-opacity="0.6" stroke="#444" stroke-width="0.35" stroke-opacity="0.75"/>
<path d="M590.2 442.36V441.7M590.2 496.61V511.3M586.84 441.7H593.57M586.84 511.3H593.57" stroke="#777" stroke-width="0.6" fill="none"/>
<rect x="583.48" y="442.36" width="13.45" height="54.25" fill="#6cb89f" stroke="#606060" stroke-width="0.45"/>
<path d="M583.48 449.59H596.93" stroke="#606060" stroke-width="0.55" fill="none"/>
<circle cx="591.28" cy="511.3" r="1.6" fill="#66c2a5" fill-opacity="0.6" stroke="#444" stroke-width="0.35" stroke-opacity="0.75"/>
<circle cx="587.91" cy="496.61" r="1.6" fill="#66c2a5" fill-opacity="0.6" stroke="#444" stroke-width="0.35" stroke-opacity="0.75"/>
<circle cx="589.9" cy="449.59" r="1.6" fill="#66c2a5" fill-opacity="0.6" stroke="#444" stroke-width="0.35" stroke-opacity="0.75"/>
<circle cx="591.65" cy="442.36" r="1.6" fill="#66c2a5" fill-opacity="0.6" stroke="#444" stroke-width="0.35" stroke-opacity="0.75"/>
<circle cx="588.47" cy="441.7" r="1.6" fill="#66c2a5" fill-opacity="0.6" stroke="#444" stroke-width="0.35" stroke-opacity="0.75"/>
<circle cx="588.01" cy="486.27" r="1.6" fill="#66c2a5" fill-opacity="0.6" stroke="#444" stroke-width="0.35" stroke-opacity="0.75"/>
<circle cx="588.68" cy="442.98" r="1.6" fill="#66c2a5" fill-opacity="0.6" stroke="#444" stroke-width="0.35" stroke-opacity="0.75"/>
<circle cx="589.18" cy="509.42" r="1.6" fill="#66c2a5" fill-opacity="0.6" stroke="#444" stroke-width="0.35" stroke-opacity="0.75"/>
<circle cx="589.89" cy="453.85" r="1.6" fill="#66c2a5" fill-opacity="0.6" stroke="#444" stroke-width="0.35" stroke-opacity="0.75"/>
<circle cx="589.31" cy="445.7" r="1.6" fill="#66c2a5" fill-opacity="0.6" stroke="#444" stroke-width="0.35" stroke-opacity="0.75"/>
<circle cx="590.85" cy="494.37" r="1.6" fill="#66c2a5" fill-opacity="0.6" stroke="#444" stroke-width="0.35" stroke-opacity="0.75"/>
<circle cx="588.62" cy="461.24" r="1.6" fill="#66c2a5" fill-opacity="0.6" stroke="#444" stroke-width="0.35" stroke-opacity="0.75"/>
<circle cx="589.46" cy="501.58" r="1.6" fill="#66c2a5" fill-opacity="0.6" stroke="#444" stroke-width="0.35" stroke-opacity="0.75"/>
<circle cx="591.05" cy="479.02" r="1.6" fill="#66c2a5" fill-opacity="0.6" stroke="#444" stroke-width="0.35" stroke-opacity="0.75"/>
<circle cx="590.42" cy="480.23" r="1.6" fill="#66c2a5" fill-opacity="0.6" stroke="#444" stroke-width="0.35" stroke-opacity="0.75"/>
<circle cx="592.41" cy="509.22" r="1.6" fill="#66c2a5" fill-opacity="0.6" stroke="#444" stroke-width="0.35" stroke-opacity="0.75"/>
<circle cx="592.3" cy="456.88" r="1.6" fill="#66c2a5" fill-opacity="0.6" stroke="#444" stroke-width="0.35" stroke-opacity="0.75"/>
<circle cx="589.04" cy="490.38" r="1.6" fill="#66c2a5" fill-opacity="0.6" stroke="#444" stroke-width="0.35" stroke-opacity="0.75"/>
<circle cx="589.41" cy="472.44" r="1.6" fill="#66c2a5" fill-opacity="0.6" stroke="#444" stroke-width="0.35" stroke-opacity="0.75"/>
<circle cx="590.39" cy="470.48" r="1.6" fill="#66c2a5" fill-opacity="0.6" stroke="#444" stroke-width="0.35" stroke-opacity="0.75"/>
<circle cx="590.42" cy="468.02" r="1.6" fill="#66c2a5" fill-opacity="0.6" stroke="#444" stroke-width="0.35" stroke-opacity="0.75"/>
<circle cx="589.56" cy="468.49" r="1.6" fill="#66c2a5" fill-opacity="0.6" stroke="#444" stroke-width="0.35" stroke-opacity="0.75"/>
<circle cx="591.95" cy="464.1" r="1.6" fill="#66c2a5" fill-opacity="0.6" stroke="#444" stroke-width="0.35" stroke-opacity="0.75"/>
<path d="M603.92 442.36V441.7M603.92 485.43V518.97M600.56 441.7H607.29M600.56 518.97H607.29" stroke="#777" stroke-width="0.6" fill="none"/>
<rect x="597.2" y="442.36" width="13.45" height="43.07" fill="#e8906e" stroke="#606060" stroke-width="0.45"/>
<path d="M597.2 449.59H610.65" stroke="#606060" stroke-width="0.55" fill="none"/>
<circle cx="603.56" cy="518.97" r="1.6" fill="#fc8d62" fill-opacity="0.6" stroke="#444" stroke-width="0.35" stroke-opacity="0.75"/>
<circle cx="605.91" cy="485.43" r="1.6" fill="#fc8d62" fill-opacity="0.6" stroke="#444" stroke-width="0.35" stroke-opacity="0.75"/>
<circle cx="602.89" cy="449.59" r="1.6" fill="#fc8d62" fill-opacity="0.6" stroke="#444" stroke-width="0.35" stroke-opacity="0.75"/>
<circle cx="605.58" cy="442.36" r="1.6" fill="#fc8d62" fill-opacity="0.6" stroke="#444" stroke-width="0.35" stroke-opacity="0.75"/>
<circle cx="606.11" cy="441.7" r="1.6" fill="#fc8d62" fill-opacity="0.6" stroke="#444" stroke-width="0.35" stroke-opacity="0.75"/>
<circle cx="605.45" cy="482.56" r="1.6" fill="#fc8d62" fill-opacity="0.6" stroke="#444" stroke-width="0.35" stroke-opacity="0.75"/>
<circle cx="602.49" cy="450.73" r="1.6" fill="#fc8d62" fill-opacity="0.6" stroke="#444" stroke-width="0.35" stroke-opacity="0.75"/>
<circle cx="605.93" cy="442.89" r="1.6" fill="#fc8d62" fill-opacity="0.6" stroke="#444" stroke-width="0.35" stroke-opacity="0.75"/>
<circle cx="605.95" cy="464.02" r="1.6" fill="#fc8d62" fill-opacity="0.6" stroke="#444" stroke-width="0.35" stroke-opacity="0.75"/>
<circle cx="606.32" cy="483.21" r="1.6" fill="#fc8d62" fill-opacity="0.6" stroke="#444" stroke-width="0.35" stroke-opacity="0.75"/>
<circle cx="601.58" cy="447.78" r="1.6" fill="#fc8d62" fill-opacity="0.6" stroke="#444" stroke-width="0.35" stroke-opacity="0.75"/>
<circle cx="601.54" cy="446.2" r="1.6" fill="#fc8d62" fill-opacity="0.6" stroke="#444" stroke-width="0.35" stroke-opacity="0.75"/>
<circle cx="602.92" cy="459.39" r="1.6" fill="#fc8d62" fill-opacity="0.6" stroke="#444" stroke-width="0.35" stroke-opacity="0.75"/>
<circle cx="604.01" cy="474.1" r="1.6" fill="#fc8d62" fill-opacity="0.6" stroke="#444" stroke-width="0.35" stroke-opacity="0.75"/>
<circle cx="603.56" cy="482.23" r="1.6" fill="#fc8d62" fill-opacity="0.6" stroke="#444" stroke-width="0.35" stroke-opacity="0.75"/>
<circle cx="601.97" cy="476.42" r="1.6" fill="#fc8d62" fill-opacity="0.6" stroke="#444" stroke-width="0.35" stroke-opacity="0.75"/>
<circle cx="604.6" cy="473.26" r="1.6" fill="#fc8d62" fill-opacity="0.6" stroke="#444" stroke-width="0.35" stroke-opacity="0.75"/>
<circle cx="604.73" cy="444.1" r="1.6" fill="#fc8d62" fill-opacity="0.6" stroke="#444" stroke-width="0.35" stroke-opacity="0.75"/>
<circle cx="604.55" cy="473.03" r="1.6" fill="#fc8d62" fill-opacity="0.6" stroke="#444" stroke-width="0.35" stroke-opacity="0.75"/>
<circle cx="603.98" cy="485.32" r="1.6" fill="#fc8d62" fill-opacity="0.6" stroke="#444" stroke-width="0.35" stroke-opacity="0.75"/>
<circle cx="604.16" cy="448.67" r="1.6" fill="#fc8d62" fill-opacity="0.6" stroke="#444" stroke-width="0.35" stroke-opacity="0.75"/>
<circle cx="604.84" cy="482.33" r="1.6" fill="#fc8d62" fill-opacity="0.6" stroke="#444" stroke-width="0.35" stroke-opacity="0.75"/>
<circle cx="601.83" cy="481.98" r="1.6" fill="#fc8d62" fill-opacity="0.6" stroke="#444" stroke-width="0.35" stroke-opacity="0.75"/>
<path d="M617.64 442.36V441.7M617.64 494.09V500.99M614.28 441.7H621.01M614.28 500.99H621.01" stroke="#777" stroke-width="0.6" fill="none"/>
<rect x="610.92" y="442.36" width="13.45" height="51.73" fill="#93a2c4" stroke="#606060" stroke-width="0.45"/>
<path d="M610.92 450.58H624.37" stroke="#606060" stroke-width="0.55" fill="none"/>
<circle cx="616.7" cy="500.99" r="1.6" fill="#8da0cb" fill-opacity="0.6" stroke="#444" stroke-width="0.35" stroke-opacity="0.75"/>
<circle cx="616.76" cy="494.09" r="1.6" fill="#8da0cb" fill-opacity="0.6" stroke="#444" stroke-width="0.35" stroke-opacity="0.75"/>
<circle cx="616.69" cy="450.58" r="1.6" fill="#8da0cb" fill-opacity="0.6" stroke="#444" stroke-width="0.35" stroke-opacity="0.75"/>
<circle cx="616.76" cy="442.36" r="1.6" fill="#8da0cb" fill-opacity="0.6" stroke="#444" stroke-width="0.35" stroke-opacity="0.75"/>
<circle cx="616.25" cy="441.7" r="1.6" fill="#8da0cb" fill-opacity="0.6" stroke="#444" stroke-width="0.35" stroke-opacity="0.75"/>
<circle cx="617.57" cy="487.08" r="1.6" fill="#8da0cb" fill-opacity="0.6" stroke="#444" stroke-width="0.35" stroke-opacity="0.75"/>
<circle cx="616.65" cy="455.81" r="1.6" fill="#8da0cb" fill-opacity="0.6" stroke="#444" stroke-width="0.35" stroke-opacity="0.75"/>
<circle cx="617.01" cy="480.87" r="1.6" fill="#8da0cb" fill-opacity="0.6" stroke="#444" stroke-width="0.35" stroke-opacity="0.75"/>
<circle cx="618.43" cy="466.17" r="1.6" fill="#8da0cb" fill-opacity="0.6" stroke="#444" stroke-width="0.35" stroke-opacity="0.75"/>
<circle cx="616.76" cy="462.98" r="1.6" fill="#8da0cb" fill-opacity="0.6" stroke="#444" stroke-width="0.35" stroke-opacity="0.75"/>
<circle cx="619.39" cy="444.36" r="1.6" fill="#8da0cb" fill-opacity="0.6" stroke="#444" stroke-width="0.35" stroke-opacity="0.75"/>
<circle cx="619.07" cy="455.48" r="1.6" fill="#8da0cb" fill-opacity="0.6" stroke="#444" stroke-width="0.35" stroke-opacity="0.75"/>
<circle cx="616.82" cy="472.11" r="1.6" fill="#8da0cb" fill-opacity="0.6" stroke="#444" stroke-width="0.35" stroke-opacity="0.75"/>
<circle cx="619.25" cy="479.69" r="1.6" fill="#8da0cb" fill-opacity="0.6" stroke="#444" stroke-width="0.35" stroke-opacity="0.75"/>
<circle cx="616.09" cy="466.94" r="1.6" fill="#8da0cb" fill-opacity="0.6" stroke="#444" stroke-width="0.35" stroke-opacity="0.75"/>
<circle cx="615.7" cy="481.28" r="1.6" fill="#8da0cb" fill-opacity="0.6" stroke="#444" stroke-width="0.35" stroke-opacity="0.75"/>
<circle cx="620.02" cy="485.26" r="1.6" fill="#8da0cb" fill-opacity="0.6" stroke="#444" stroke-width="0.35" stroke-opacity="0.75"/>
<circle cx="615.4" cy="460.39" r="1.6" fill="#8da0cb" fill-opacity="0.6" stroke="#444" stroke-width="0.35" stroke-opacity="0.75"/>
<circle cx="615.27" cy="464.05" r="1.6" fill="#8da0cb" fill-opacity="0.6" stroke="#444" stroke-width="0.35" stroke-opacity="0.75"/>
<circle cx="619.41" cy="484.06" r="1.6" fill="#8da0cb" fill-opacity="0.6" stroke="#444" stroke-width="0.35" stroke-opacity="0.75"/>
<circle cx="615.26" cy="458.71" r="1.6" fill="#8da0cb" fill-opacity="0.6" stroke="#444" stroke-width="0.35" stroke-opacity="0.75"/>
<circle cx="618.39" cy="444.68" r="1.6" fill="#8da0cb" fill-opacity="0.6" stroke="#444" stroke-width="0.35" stroke-opacity="0.75"/>
<circle cx="617.91" cy="476.88" r="1.6" fill="#8da0cb" fill-opacity="0.6" stroke="#444" stroke-width="0.35" stroke-opacity="0.75"/>
<path d="M641.65 498.25V497.27M641.65 515.46V518.97M638.29 497.27H645.02M638.29 518.97H645.02" stroke="#777" stroke-width="0.6" fill="none"/>
<rect x="634.93" y="498.25" width="13.45" height="17.21" fill="#6cb89f" stroke="#606060" stroke-width="0.45"/>
<path d="M634.93 502.42H648.38" stroke="#606060" stroke-width="0.55" fill="none"/>
<circle cx="643.9" cy="518.97" r="1.6" fill="#66c2a5" fill-opacity="0.6" stroke="#444" stroke-width="0.35" stroke-opacity="0.75"/>
<circle cx="641.14" cy="515.46" r="1.6" fill="#66c2a5" fill-opacity="0.6" stroke="#444" stroke-width="0.35" stroke-opacity="0.75"/>
<circle cx="640.42" cy="502.42" r="1.6" fill="#66c2a5" fill-opacity="0.6" stroke="#444" stroke-width="0.35" stroke-opacity="0.75"/>
<circle cx="641.37" cy="498.25" r="1.6" fill="#66c2a5" fill-opacity="0.6" stroke="#444" stroke-width="0.35" stroke-opacity="0.75"/>
<circle cx="642.77" cy="497.27" r="1.6" fill="#66c2a5" fill-opacity="0.6" stroke="#444" stroke-width="0.35" stroke-opacity="0.75"/>
<circle cx="640.65" cy="513.64" r="1.6" fill="#66c2a5" fill-opacity="0.6" stroke="#444" stroke-width="0.35" stroke-opacity="0.75"/>
<path d="M655.38 499.35V497.27M655.38 524.12V529.38M652.01 497.27H658.74M652.01 529.38H658.74" stroke="#777" stroke-width="0.6" fill="none"/>
<rect x="648.65" y="499.35" width="13.45" height="24.77" fill="#e8906e" stroke="#606060" stroke-width="0.45"/>
<path d="M648.65 506.58H662.1" stroke="#606060" stroke-width="0.55" fill="none"/>
<circle cx="653.44" cy="529.38" r="1.6" fill="#fc8d62" fill-opacity="0.6" stroke="#444" stroke-width="0.35" stroke-opacity="0.75"/>
<circle cx="653.24" cy="524.12" r="1.6" fill="#fc8d62" fill-opacity="0.6" stroke="#444" stroke-width="0.35" stroke-opacity="0.75"/>
<circle cx="653" cy="506.58" r="1.6" fill="#fc8d62" fill-opacity="0.6" stroke="#444" stroke-width="0.35" stroke-opacity="0.75"/>
<circle cx="657.74" cy="499.35" r="1.6" fill="#fc8d62" fill-opacity="0.6" stroke="#444" stroke-width="0.35" stroke-opacity="0.75"/>
<circle cx="655.06" cy="497.27" r="1.6" fill="#fc8d62" fill-opacity="0.6" stroke="#444" stroke-width="0.35" stroke-opacity="0.75"/>
<circle cx="656.51" cy="503.99" r="1.6" fill="#fc8d62" fill-opacity="0.6" stroke="#444" stroke-width="0.35" stroke-opacity="0.75"/>
<path d="M669.1 496.17V496.17M669.1 496.83V496.83M665.73 496.17H672.46M665.73 496.83H672.46" stroke="#777" stroke-width="0.6" fill="none"/>
<rect x="662.37" y="496.17" width="13.45" height="0.66" fill="#93a2c4" stroke="#606060" stroke-width="0.45"/>
<path d="M662.37 496.5H675.82" stroke="#606060" stroke-width="0.55" fill="none"/>
<circle cx="668.34" cy="496.83" r="1.6" fill="#8da0cb" fill-opacity="0.6" stroke="#444" stroke-width="0.35" stroke-opacity="0.75"/>
<circle cx="668.37" cy="496.83" r="1.6" fill="#8da0cb" fill-opacity="0.6" stroke="#444" stroke-width="0.35" stroke-opacity="0.75"/>
<circle cx="669.97" cy="496.5" r="1.6" fill="#8da0cb" fill-opacity="0.6" stroke="#444" stroke-width="0.35" stroke-opacity="0.75"/>
<circle cx="666.7" cy="496.17" r="1.6" fill="#8da0cb" fill-opacity="0.6" stroke="#444" stroke-width="0.35" stroke-opacity="0.75"/>
<circle cx="668.44" cy="496.17" r="1.6" fill="#8da0cb" fill-opacity="0.6" stroke="#444" stroke-width="0.35" stroke-opacity="0.75"/>
<circle cx="670.34" cy="496.19" r="1.6" fill="#8da0cb" fill-opacity="0.6" stroke="#444" stroke-width="0.35" stroke-opacity="0.75"/>
</g>
<rect x="252.6" y="596.3" width="193.4" height="13.3" rx="1.5" fill="#fff" stroke="#dddddd" stroke-width="0.8"/>
<rect x="255.2" y="599.4" width="16.6" height="5.7" fill="#6cb89f" stroke="#555555" stroke-width="0.5"/>
<text x="278.6" y="604.6" font-size="8.2" font-weight="normal" font-style="normal" text-anchor="start" fill="#262626" >Precision</text>
<rect x="327.0" y="599.4" width="16.6" height="5.7" fill="#e8906e" stroke="#555555" stroke-width="0.5"/>
<text x="350" y="604.6" font-size="8.2" font-weight="normal" font-style="normal" text-anchor="start" fill="#262626" >Recall</text>
<rect x="387.1" y="599.4" width="16.6" height="5.7" fill="#93a2c4" stroke="#555555" stroke-width="0.5"/>
<text x="410.2" y="604.6" font-size="8.2" font-weight="normal" font-style="normal" text-anchor="start" fill="#262626" >F1-Score</text>
<path d="M25.82 100.94V126.29M39.26 123.7V133.75M42.24 117.96V128.35M52.86 85.98V111.72M83.8 86.92V119.16M99.26 103.55V129.34M101.69 101.02V132.25M81.52 81.71V117.97M130.81 106.39V130.57M132.45 106.84V132.91M142.46 93.93V123.91M143.33 93.93V143.66M141.87 91.79V124.38M136.16 85.27V117.43M144.19 92.86V120.01M145.06 92.86V125.44M146.76 96.51V128.73M189.34 88.43V124.77M192.64 100.59V133.42M202.77 113.38V137.68M209.77 92.95V120.85M208.68 90.52V126.08M208.02 89.27V121.64M217.68 115.23V134.4M223.44 115.88V134.51M230.99 117.91V145.3M225.54 114.87V131.31M212.52 110.78V128.35M249.8 96.23V117.36M282.17 111.68V128.65M282.97 111.68V122.97M286.18 111.96V120.74M306.52 119.3V131.4" stroke="#377eb8" stroke-width="0.75" stroke-opacity="0.55" fill="none"/>
<path d="M14.95 80.02V109.82M30.86 94.86V122.97M40.48 116.26V126.51M43 115.84V128.89M54.63 91.5V133.16M60 91.91V129.81M53.67 83.03V106.64M70.28 92.52V132.76M73.05 94.05V124.2M90.11 92.95V123.62M92.41 94.24V128.51M93.52 94.73V127.35M97.69 100.14V131.51M99.98 104.15V133.5M100.49 104.15V129.91M101.03 99.88V137.26M107.04 85.57V117.21M112.97 88.73V117.45M113.69 92.74V119.34M116.81 97.91V126.27M119.36 102.39V125.7M122.8 104.3V130.6M121.34 102.37V124.95M115.61 92.6V122.59M125.82 104.8V132.82M131.8 105.83V132.98M134.62 84.2V127.84M149.76 95.92V125.85M160.51 96.71V135.3M196.15 109.2V139.2M200.13 112.29V132.66M202.3 113.38V133.34M201.3 109.8V136.07M221.14 117.04V131.39M229.61 120.91V139.21M232.19 118.71V140.17M240.61 123.08V165.08M252.37 95.94V119.51M253.4 95.94V130.35M261.57 102.84V130.58M284.1 110.56V127.15M322.66 128.98V145.83M315.81 126.45V140.43M242.59 85.78V117.14" stroke="#377eb8" stroke-width="0.75" stroke-opacity="0.75" fill="none"/>
<path d="M22.74 94.05V106.06M18.11 85.97V98.77M48.33 79.24V96.87M65.02 90.46V105.3M66.87 90.47V108.87M68.83 91.86V106.79M77.68 97.13V109.73M95.73 101.21V108.57M126.48 104.8V120.82M132.81 106.84V117.32M151.31 99.16V119.72M182.29 82.71V97.83M191.76 98.19V107.89M246.82 93.69V99.01M264.96 108.68V120.71M263.64 107.99V122.31M291.54 115.92V120.53M288.57 113.24V120.31M296.04 109.38V119.05M296.88 109.38V114.65M308.98 120.22V124.42M314.55 124.38V128.44M313.13 123.17V129.02M301.51 113.44V118.24M275.75 104.29V111.36" stroke="#377eb8" stroke-width="0.75" stroke-opacity="0.8" fill="none"/>
<path d="M22.74 106.06V120.76M18.11 98.77V113.72M16.58 79.8V108.65M35.45 119.32V126.13M33.24 115.88V124.2M48.33 96.87V114.45M65.02 105.3V128.91M66.87 108.87V128.48M69.67 92.52V124.83M68.83 106.79V130.45M77.68 109.73V125.12M87.64 88.64V122.62M95.2 96.9V126.32M95.73 108.57V129.7M126.48 120.82V142.51M132.81 117.32V129.88M128.47 103.07V127.77M151.31 119.72V136.78M159.56 96.71V138.51M162.68 160.7V169.7M166.79 165.68V171.61M171.39 163.59V171.91M172.61 163.59V171.8M174.69 168.74V173.98M177.81 163.08V172.12M177.01 161.82V173.29M182.29 97.83V120.59M183.33 83.86V114.73M191.76 107.89V125.55M234.68 120.17V153.44M236.83 120.14V158.75M234.07 118.19V150.5M246.82 99.01V116.93M264.96 120.71V136.6M263.64 122.31V139.18M273.29 108.37V146.03M270.89 103.58V140.1M291.54 120.53V125.86M288.57 120.31V126.82M296.04 119.05V125.96M296.88 114.65V119.66M308.98 124.42V132.86M314.55 128.44V141.68M313.13 129.02V135.73M310.01 117.89V135.28M301.51 118.24V126.26M275.75 111.36V129.28" stroke="#e41a1c" stroke-width="0.75" stroke-opacity="0.8" fill="none"/>
<path d="M14.4 40.2H139.4M14.4 40.2V66.6M139.4 40.2V56.5M62.6 56.5H215.6M62.6 56.5V61.4M19.3 61.4H106.4M19.3 61.4V66.6M14.4 66.6H23.5M23.5 66.6V68.9M106.4 61.4V66.6M72.2 66.6H145.3M50.3 67.5H95M72.2 66.6V67.5M50.3 67.5V69.3M95 67.5V68.8M82.4 68.8H107.2M82.4 68.8V73.7M107.2 68.8V72.7M145.3 66.6V78.6M189.4 59.6H241.9M215.6 56.5V59.6M189.4 59.6V65.4M182.2 65.4H197.2M197.2 65.4V68.9M241.9 59.6V82M15.4 80.02V80.87M26.95 100.94V101.9M26.39 98.37V100.94M25.48 96.17V98.37M24.4 94.05V96.17M23.57 93V94.05M20.62 89.26V89.94M21.4 86.22V89.26M20.41 85.97V86.22M19.26 79.8V85.97M15.18 79.39V80.02M23.5 68.9H16.55M16.55 68.9V79.39M30.31 92.33V94.86M37.49 123.7V124.42M38.37 121.13V123.7M37.42 119.32V121.13M36.43 117.9V119.32M35.37 115.88V117.9M34.31 114.67V115.88M41.89 116.26V117.96M41.19 115.22V116.26M43.64 115.22V115.84M33.13 113.83V114.67M42.41 113.83V115.22M29.44 90.44V92.33M37.77 90.44V113.83M23.5 68.9H33.61M33.61 68.9V90.44M52.53 84.45V85.98M52.89 82.35V84.45M57.05 93.59V95M56.81 91.07V93.59M55.14 89.37V91.5M56.48 89.37V91.07M59.63 90.26V91.91M57.98 87.99V88.5M59.21 87.99V90.26M55.81 87.09V89.37M58.6 87.09V87.99M57.2 83.03V87.09M52.17 79.81V82.35M55.44 79.81V83.03M69.97 91.86V92.52M69.4 89.86V91.86M71.81 92.96V93.63M77.35 95.08V97.13M76.59 93.44V95.08M73.47 92.76V94.05M75.62 92.76V93.44M71.31 90.4V92.96M74.55 90.4V92.76M72.93 89.24V90.4M61.61 81.64V83.5M70.7 81.64V89.24M53.8 77.78V79.81M66.15 77.78V81.64M59.98 75.84V77.78M50.3 69.3H53.5M53.5 69.3V75.84M91.37 92.95V95.12M90.74 90.59V92.95M90 88.64V90.59M94.17 93.65V94.73M92.22 92.73V94.24M93.51 92.73V93.65M97.37 99.16V100.14M100.23 103.55V104.15M98.34 101.73V103.8M99.74 101.73V103.55M102.12 99.88V101.02M99.04 99.28V101.73M101.57 99.28V99.88M100.31 98.13V99.28M92.87 91.27V92.73M98.5 91.27V98.13M88.82 88.08V88.64M95.68 88.08V91.27M92.25 87.25V88.08M89.09 85.92V87.25M83.53 85.12V86.92M86.93 85.12V85.92M85.23 81.92V85.12M84.03 81.71V81.92M79.06 79.39V80.71M82.78 79.39V81.71M82.4 73.7H80.92M80.92 73.7V79.39M109.41 85.08V86.43M106.31 83.61V85.57M108.74 83.61V85.08M107.52 83.04V83.61M105.88 82.32V83.04M114.59 92.74V94.73M119.03 100.75V102.39M123.86 104.3V105.06M123.33 102.37V104.3M122.34 101V102.37M118.53 99.16V100.75M121.16 99.16V101M119.84 98.32V99.16M116.63 95.78V97.91M118.6 95.78V98.32M117.62 92.6V95.78M114.14 92.03V92.74M116.61 92.03V92.6M126.15 102.67V104.8M125.78 101.34V102.67M132.63 105.83V106.84M130.37 105.32V106.39M132.22 105.32V105.83M131.29 103.07V105.32M129.88 101.95V103.07M128.54 99.74V101.95M126.96 99.39V99.74M115.38 91.17V92.03M125.79 91.17V99.39M112.21 87.75V88.73M120.59 87.75V91.17M104.82 80.9V82.32M116.4 80.9V87.75M107.2 72.7H110.61M110.61 72.7V80.9M142.9 91.79V93.93M142.38 90.96V91.79M141.83 89.01V90.96M139.6 86.89V88.62M141.26 86.89V89.01M137.28 86.36V88.55M140.43 86.36V86.89M138.86 85.27V86.36M137.51 84.2V85.27M147.35 94.53V96.51M150.51 95.92V97.03M149.24 94.97V96.15M150.13 94.97V95.92M146.65 93.38V94.53M149.69 93.38V94.97M144.63 91.22V92.86M148.17 91.22V93.38M160.04 96.15V96.71M159.07 94.94V96.15M146.4 87.44V91.22M136.07 82.04V84.2M150.21 82.04V87.44M145.3 78.6H143.14M143.14 78.6V82.04M161.5 154.8H167.34M189.79 87.57V88.43M185.44 85.48V86.84M188.64 85.48V87.57M187.04 83.86V85.48M185.18 82.2V83.86M183.65 80.05V82.2M193.05 98.19V100.59M192.41 97.34V98.19M199.48 110.13V112.29M198.46 108.98V110.13M195.86 107.66V109.2M197.59 107.66V108.98M202.53 111.15V113.38M202.15 109.8V111.15M201.73 109.06V109.8M196.72 106.52V107.66M201.26 106.52V109.06M194.5 104.33V105.35M198.99 104.33V106.52M191.67 96.16V97.34M196.75 96.16V104.33M182.52 78.21V80.05M194.21 78.21V96.16M182.2 65.4H188.37M188.37 65.4V78.21M211.15 92.95V93.57M210.46 90.52V92.95M209.57 89.27V90.52M208.79 87.48V89.27M220.66 116.41V117.04M222.45 116.41V117.28M219.18 115.8V117.37M221.55 115.8V116.41M220.37 115.23V115.8M215.3 113.72V115.07M219.02 113.72V115.23M217.16 112.74V113.72M229.1 119.03V120.91M228.5 117.34V119.03M232.74 117.91V118.71M240.04 121.11V123.08M239.02 120.14V121.11M237.93 119.24V120.14M236.56 118.19V119.24M231.86 116.94V117.91M227.69 115.32V117.34M233.59 115.32V116.94M230.64 114.87V115.32M223.86 114.4V115.88M228.09 114.4V114.87M215.37 110.98V112.74M225.98 110.98V114.4M220.67 110.78V110.98M208.09 86.76V87.48M216.6 86.76V110.78M197.2 68.9H212.34M212.34 68.9V86.76M248.97 93.69V96.23M252.89 93.41V95.94M247.9 91.43V93.69M252.09 91.43V93.41M249.99 89.79V91.43M247.76 88.82V89.79M272.96 103.58V106.13M282.57 109.38V111.68M284.33 107.49V109.38M282.88 106.22V107.49M308.32 119.3V120.22M307.42 117.22V119.3M322.17 127.8V128.98M320.43 126.45V127.8M318.12 124.38V126.45M316.34 123.17V124.38M314.73 121.72V123.17M313.39 120.17V121.72M312.22 117.89V120.17M306.61 116.58V117.22M311.11 116.58V117.89M304.25 115.42V116.15M308.86 115.42V116.58M306.56 114.97V115.42M304.6 113.44V114.97M303.05 112.03V113.44M301.12 110.12V112.03M295.83 106.74V107.78M299.27 106.74V110.12M280.78 104.61V106.22M297.55 104.61V106.74M289.16 104.29V104.61M282.46 101.26V104.29M277.19 101V101.26M269.96 97.74V101M257.93 94.56V97.15M264.86 94.56V97.74M261.39 93.04V94.56M245.89 86.28V88.82M258.27 86.28V93.04M252.08 85.78V86.28M241.9 82H247.34M247.34 82V85.78M29.3 100V145.5M44.3 118V147M102.4 108V144M108.2 82V151M133.6 66.6V88M134.3 70V90M193.4 100V160M208.5 68.9V190M230.7 114V190M233.5 117V176M318.3 110V151.8M283 105V138" stroke="#377eb8" stroke-width="0.75" stroke-opacity="0.85" fill="none"/>
<path d="M24.9 99.34V99.9M24.56 98.37V99.34M23.33 96.17V97.37M22.26 93V93.56M22.92 89.58V93M22.19 89.26V89.58M17.92 79.39V79.8M49.16 77.93V79.24M48.3 77.01V77.93M64.53 88.19V90.46M63.96 86.86V88.19M63.27 84.89V86.86M62.44 83.5V84.89M67.53 89.86V90.47M68.46 89.24V89.86M47.02 75.84V77.01M94.81 94.73V96.9M96.02 99.16V101.21M96.69 98.13V99.16M84.76 85.92V87.18M125.38 99.74V101.34M147.95 96.51V97.03M150.94 97.03V99.16M156.5 94.94V95.64M157.79 93.99V94.94M156.81 91.66V93.99M155.96 89.89V91.66M155.15 88.72V89.89M154.02 87.44V88.72M161.5 95V154.8M166.31 165.22V165.68M165.7 165.02V165.22M165.14 161.74V165.02M162.88 159.59V160.7M164.49 159.59V161.74M169.98 166.4V167.04M169.44 166.11V166.4M168.82 165.31V166.11M168.31 163.84V165.31M175.73 168.74V168.94M173.75 165.89V167.17M175.21 165.89V168.74M179.57 163.08V172.63M178.69 161.82V163.08M174.48 161.26V165.89M177.85 161.26V161.82M172 160.63V163.59M176.17 160.63V161.26M167.9 160.06V163.84M174.08 160.06V160.63M163.69 158.21V159.59M170.99 158.21V160.06M167.34 154.8V158.21M182.12 82.2V82.71M235.19 119.24V120.17M235.31 116.94V118.19M267.68 108.68V110.68M266.32 107.99V108.68M264.98 105.41V107.99M263.9 102.84V105.41M273.94 106.13V108.37M293.83 115.92V116.65M292.69 114.84V115.92M291.43 113.24V114.84M290 111.96V113.24M288.09 110.56V111.96M286.1 109.38V110.56M296.46 107.78V109.38M299.18 112.03V113.07M271.92 101.26V103.58M262.74 101V102.84M94.5 96V157.5M133.6 88V151.8M185.2 95V135M270.5 102V152M265.5 100V147M80.5 80V128" stroke="#e41a1c" stroke-width="0.75" stroke-opacity="0.85" fill="none"/>
<path d="M15.23 80.87H15.57M15.23 80.87V123.66M15.57 80.87V109.73M14.95 80.02H15.4M20.35 89.94H20.88M20.88 89.94V116.84M26.69 101.9H27.21M25.82 100.94H26.95M24.56 98.37H26.39M23.33 96.17H25.48M22.74 94.05H24.4M22.26 93H23.57M20.62 89.26H22.19M19.42 86.22H21.4M18.11 85.97H20.41M16.58 79.8H19.26M15.18 79.39H17.92M29.77 94.86H30.86M28.57 92.33H30.31M28.57 92.33V143.19M37.02 124.42H37.95M37.95 124.42V132.78M37.49 123.7H39.26M36.46 121.13H38.37M35.45 119.32H37.42M34.3 117.9H36.43M33.24 115.88H35.37M31.96 114.67H34.31M41.54 117.96H42.24M40.48 116.26H41.89M43 115.84H44.28M44.28 115.84V131.49M41.19 115.22H43.64M33.13 113.83H42.41M29.44 90.44H37.77M52.19 85.98H52.86M52.53 84.45H53.26M51.45 82.35H52.89M54.63 91.5H55.65M56.91 95H57.18M56.91 95V119.33M57.18 95V118.9M56.58 93.59H57.05M56.58 93.59V117.77M56.14 91.07H56.81M55.14 89.37H56.48M57.66 88.5H58.31M57.66 88.5V121.23M59.26 91.91H60M58.79 90.26H59.63M58.79 90.26V123.13M57.98 87.99H59.21M55.81 87.09H58.6M53.67 83.03H57.2M52.17 79.81H55.44M61.61 84.89H63.27M60.78 83.5H62.44M60.78 83.5V115.66M69.67 92.52H70.28M68.83 91.86H69.97M67.53 89.86H69.4M71.41 93.63H72.21M70.81 92.96H71.81M73.05 94.05H73.89M77.03 97.13H77.68M75.82 95.08H77.35M74.66 93.44H76.59M73.47 92.76H75.62M71.31 90.4H74.55M68.46 89.24H72.93M61.61 81.64H70.7M53.8 77.78H66.15M47.02 75.84H59.98M78.45 80.71H79.68M79.68 80.71V113.86M83.25 86.92H83.8M91.03 95.12H91.71M90.11 92.95H91.37M89.25 90.59H90.74M87.64 88.64H90M92.03 94.24H92.41M93.52 94.73H94.81M92.86 93.65H94.17M92.22 92.73H93.51M97.04 100.14H97.69M96.02 99.16H97.37M98.15 103.8H98.52M98.52 103.8V131.72M99.98 104.15H100.49M99.26 103.55H100.23M98.34 101.73H99.74M101.69 101.02H102.56M101.03 99.88H102.12M99.04 99.28H101.57M96.69 98.13H100.31M92.87 91.27H98.5M88.82 88.08H95.68M85.94 87.25H92.25M84.76 85.92H89.09M83.53 85.12H86.93M82.84 81.92H85.23M81.52 81.71H84.03M79.06 79.39H82.78M105.58 85.57H107.04M105.58 85.57V115.81M109.04 86.43H109.78M109.78 86.43V121.37M108.07 85.08H109.41M106.31 83.61H108.74M104.23 83.04H107.52M103.77 82.32H105.88M111.45 88.73H112.97M114.37 94.73H114.82M114.37 94.73V122.5M113.69 92.74H114.59M116.45 97.91H116.81M118.7 102.39H119.36M118.03 100.75H119.03M118.03 100.75V125.69M123.54 105.06H124.17M124.17 105.06V125.26M122.8 104.3H123.86M121.34 102.37H123.33M119.98 101H122.34M118.53 99.16H121.16M117.36 98.32H119.84M117.36 98.32V119.12M116.63 95.78H118.6M115.61 92.6H117.62M114.14 92.03H116.61M125.82 104.8H126.48M125.41 102.67H126.15M124.99 101.34H125.78M129.92 106.39H130.81M132.45 106.84H132.81M131.8 105.83H132.63M130.37 105.32H132.22M128.47 103.07H131.29M127.19 101.95H129.88M125.38 99.74H128.54M124.63 99.39H126.96M115.38 91.17H125.79M112.21 87.75H120.59M104.82 80.9H116.4M137 88.55H137.56M138.89 88.62H140.31M142.46 93.93H143.33M141.87 91.79H142.9M141.28 90.96H142.38M141.28 90.96V123.34M140.7 89.01H141.83M139.6 86.89H141.26M137.28 86.36H140.43M136.16 85.27H138.86M134.62 84.2H137.51M144.19 92.86H145.06M146.76 96.51H147.95M145.94 94.53H147.35M149.05 96.15H149.44M149.05 96.15V132.25M150.08 97.03H150.94M149.76 95.92H150.51M149.24 94.97H150.13M146.65 93.38H149.69M144.63 91.22H148.17M159.56 96.71H160.51M158.11 96.15H160.04M156.5 94.94H159.07M146.4 87.44H154.02M136.07 82.04H150.21M184.95 86.84H185.92M184.95 86.84V126.02M185.92 86.84V120.51M189.34 88.43H190.24M190.24 88.43V129.8M187.48 87.57H189.79M187.48 87.57V127.12M185.44 85.48H188.64M183.33 83.86H187.04M182.12 82.2H185.18M181.4 80.05H183.65M192.64 100.59H193.46M193.46 100.59V143.91M191.76 98.19H193.05M190.94 97.34H192.41M194.16 105.35H194.84M194.16 105.35V137.28M195.57 109.2H196.15M198.84 112.29H200.13M197.45 110.13H199.48M196.71 108.98H198.46M195.86 107.66H197.59M202.3 113.38H202.77M201.77 111.15H202.53M201.3 109.8H202.15M200.79 109.06H201.73M196.72 106.52H201.26M194.5 104.33H198.99M191.67 96.16H196.75M182.52 78.21H194.21M210.81 93.57H211.48M209.77 92.95H211.15M208.68 90.52H210.46M208.02 89.27H209.57M207.39 87.48H208.79M214.56 115.07H216.05M216.05 115.07V127.36M218.85 117.37H219.5M220.18 117.04H221.14M222.09 117.28H222.8M222.8 117.28V132.11M220.66 116.41H222.45M219.18 115.8H221.55M217.68 115.23H220.37M215.3 113.72H219.02M213.58 112.74H217.16M213.58 112.74V129.26M223.44 115.88H224.29M224.29 115.88V153.94M228.59 120.91H229.61M228.59 120.91V139.73M227.91 119.03H229.1M226.87 117.34H228.5M226.87 117.34V139.81M232.19 118.71H233.29M230.99 117.91H232.74M239.47 123.08H240.61M239.47 123.08V160.02M238.01 121.11H240.04M236.83 120.14H239.02M235.19 119.24H237.93M234.07 118.19H236.56M231.86 116.94H235.31M227.69 115.32H233.59M225.54 114.87H230.64M223.86 114.4H228.09M215.37 110.98H225.98M212.52 110.78H220.67M208.09 86.76H216.6M248.15 96.23H249.8M248.15 96.23V120.37M246.82 93.69H248.97M252.37 95.94H253.4M251.3 93.41H252.89M247.9 91.43H252.09M245.54 89.79H249.99M244.02 88.82H247.76M244.02 88.82V110.59M257.31 97.15H258.54M261.57 102.84H263.9M271.98 106.13H273.94M270.89 103.58H272.96M282.17 111.68H282.97M286.18 111.96H290M284.1 110.56H288.09M282.57 109.38H286.1M281.43 107.49H284.33M278.68 106.22H282.88M295.2 107.78H296.46M295.2 107.78V121.52M303.64 116.15H304.86M303.64 116.15V128.45M307.66 120.22H308.98M306.52 119.3H308.32M305.8 117.22H307.42M305.8 117.22V145.18M321.68 128.98H322.66M318.68 127.8H322.17M315.81 126.45H320.43M314.55 124.38H318.12M313.13 123.17H316.34M312.04 121.72H314.73M311.05 120.17H313.39M310.01 117.89H312.22M306.61 116.58H311.11M304.25 115.42H308.86M302.64 114.97H306.56M301.51 113.44H304.6M299.18 112.03H303.05M297.43 110.12H301.12M295.83 106.74H299.27M280.78 104.61H297.55M275.75 104.29H289.16M271.92 101.26H282.46M262.74 101H277.19M259.75 97.74H269.96M257.93 94.56H264.86M255.16 93.04H261.39M255.16 93.04V115.47M245.89 86.28H258.27M242.59 85.78H252.08" stroke="#377eb8" stroke-width="0.75" stroke-opacity="0.9" fill="none"/>
<path d="M22.09 93.56H22.43M23.08 97.37H23.58M24.73 99.9H25.07M24.22 99.34H24.9M21.46 89.58H22.92M48.33 79.24H49.99M47.43 77.93H49.16M45.75 77.01H48.3M64.03 90.46H65.02M63.39 88.19H64.53M62.57 86.86H63.96M66.87 90.47H68.18M84.45 87.18H85.07M94.43 96.9H95.2M95.73 101.21H96.31M147.53 97.03H148.38M150.56 99.16H151.31M156.25 95.64H156.76M155.82 93.99H157.79M155.11 91.66H156.81M154.35 89.89H155.96M152.88 88.72H155.15M162.68 160.7H163.09M165.82 165.68H166.79M165.09 165.22H166.31M164.58 165.02H165.7M163.85 161.74H165.14M162.88 159.59H164.49M169.68 167.04H170.29M168.89 166.4H169.98M168.2 166.11H169.44M167.8 165.31H168.82M167.49 163.84H168.31M171.39 163.59H172.61M173.4 167.17H174.11M175.31 168.94H176.15M174.69 168.74H175.73M173.75 165.89H175.21M178.77 172.63H180.38M177.81 163.08H179.57M177.01 161.82H178.69M174.48 161.26H177.85M172 160.63H176.17M167.9 160.06H174.08M163.69 158.21H170.99M181.95 82.71H182.29M234.68 120.17H235.7M266.55 110.68H268.8M264.96 108.68H267.68M263.64 107.99H266.32M262.83 105.41H264.98M273.29 108.37H274.59M293.14 116.65H294.52M291.54 115.92H293.83M290.18 114.84H292.69M288.57 113.24H291.43M296.04 109.38H296.88M298.41 113.07H299.94" stroke="#e41a1c" stroke-width="0.75" stroke-opacity="0.9" fill="none"/>
<path d="M20.35 89.94V119.83M26.69 101.9V124.63M27.21 101.9V151.31M29.77 94.86V140.11M37.02 124.42V133.84M34.3 117.9V127.06M31.96 114.67V117.32M41.54 117.96V128.01M45.75 77.01V88.8M53.26 84.45V107.08M51.45 82.35V93.22M55.65 91.5V120.97M56.14 91.07V106.29M59.26 91.91V118.71M64.03 90.46V109.09M61.61 84.89V115.06M71.41 93.63V131.16M72.21 93.63V124.64M70.81 92.96V129.66M77.03 97.13V129.99M75.82 95.08V131.77M74.66 93.44V106.05M78.45 80.71V115.84M83.25 86.92V122.86M91.03 95.12V124.34M91.71 95.12V124.2M92.86 93.65V123.06M96.31 101.21V107.96M98.15 103.8V129.01M102.56 101.02V140.51M82.84 81.92V127.21M109.04 86.43V123.01M108.07 85.08V116.81M104.23 83.04V117.43M103.77 82.32V121.16M111.45 88.73V114.29M114.82 94.73V125.31M116.45 97.91V119.13M118.7 102.39V124.18M125.41 102.67V116.43M129.92 106.39V114.11M127.19 101.95V114.76M137.56 88.55V120.86M138.89 88.62V116.95M140.31 88.62V100.31M147.53 97.03V109.39M148.38 97.03V108.91M145.94 94.53V130.78M149.44 96.15V131.83M150.08 97.03V132.16M156.76 95.64V116.61M181.4 80.05V117.43M194.84 105.35V133.97M195.57 109.2V137.76M198.84 112.29V144.52M197.45 110.13V115.95M196.71 108.98V134.7M201.77 111.15V129.75M200.79 109.06V131.76M210.81 93.57V124.79M211.48 93.57V124.57M207.39 87.48V122.91M214.56 115.07V132.3M218.85 117.37V130.65M219.5 117.37V136.78M220.18 117.04V131.81M222.09 117.28V131.34M227.91 119.03V142.09M238.01 121.11V142.12M251.3 93.41V119.68M257.31 97.15V120.36M258.54 97.15V123.01M268.8 110.68V126.27M271.98 106.13V143.6M278.68 106.22V111.13M304.86 116.15V132.2M307.66 120.22V129.76M318.68 127.8V140.75M302.64 114.97V118.41M297.43 110.12V114.92M259.75 97.74V138.95" stroke="#377eb8" stroke-width="0.75" stroke-opacity="0.95" fill="none"/>
<path d="M22.43 93.56V119.49M19.42 86.22V116.43M36.46 121.13V128.39M31.96 117.32V125.21M45.75 88.8V99.86M52.19 85.98V109.95M51.45 93.22V110.42M56.14 106.29V117.43M64.03 109.09V127.26M73.89 94.05V131.47M74.66 106.05V129.45M96.31 107.96V130.23M125.41 116.43V126.17M129.92 114.11V134.56M127.19 114.76V124.36M137 88.55V116.29M140.31 100.31V121.97M147.53 109.39V133.16M148.38 108.91V130.09M156.25 95.64V131.98M156.76 116.61V134.65M154.35 89.89V137.64M152.88 88.72V129.19M165.09 165.22V168.22M170.29 167.04V170.04M168.89 166.4V169.4M168.2 166.11V169.38M167.8 165.31V168.31M173.4 167.17V170.98M174.11 167.17V170.78M176.15 168.94V171.94M180.38 172.63V175.63M197.45 115.95V131.33M235.7 120.17V155.32M238.01 142.12V159.97M245.54 89.79V108.96M268.8 126.27V144.04M274.59 108.37V140.01M290.18 114.84V125.79M278.68 111.13V122.39M299.94 113.07V123.83M302.64 118.41V126.44M297.43 114.92V125.05" stroke="#e41a1c" stroke-width="0.75" stroke-opacity="0.95" fill="none"/>
<path d="M24.73 99.9V112.78M24.22 99.34V113.04M49.99 79.24V89.69M47.43 77.93V91.54M58.31 88.5V98.95M63.39 88.19V116.25M62.57 86.86V100.87M68.18 90.47V102.93M85.07 87.18V94.6M89.25 90.59V105.93M92.03 94.24V104.54M94.43 96.9V110.6M97.04 100.14V110.24M85.94 87.25V97.61M123.54 105.06V111.42M119.98 101V105.64M124.99 101.34V113.08M158.11 96.15V117.69M181.95 82.71V99.71M190.94 97.34V116.52M262.83 105.41V113.83M293.14 116.65V123.99M294.52 116.65V118.86M281.43 107.49V112.61M298.41 113.07V123.94M321.68 128.98V133.51M312.04 121.72V126.18" stroke="#377eb8" stroke-width="0.75" stroke-opacity="1.0" fill="none"/>
<path d="M22.09 93.56V121.2M23.08 97.37V124.47M23.58 97.37V123.63M24.73 112.78V126.9M25.07 99.9V130.34M24.22 113.04V123.18M21.46 89.58V116.55M49.99 89.69V103.57M47.43 91.54V106.59M58.31 98.95V120.5M63.39 116.25V138.69M62.57 100.87V118.03M68.18 102.93V123.26M84.45 87.18V123.84M85.07 94.6V116.61M89.25 105.93V119.36M92.03 104.54V123.75M94.43 110.6V122.12M97.04 110.24V125M85.94 97.61V119.58M123.54 111.42V125.58M119.98 105.64V123.59M124.99 113.08V127.12M124.63 99.39V126.47M140.7 89.01V129.53M150.56 99.16V135.11M158.11 117.69V136.18M155.82 93.99V139.17M155.11 91.66V146.84M163.09 160.7V169.35M165.82 165.68V171.37M164.58 165.02V168.02M163.85 161.74V166.5M169.68 167.04V170.45M167.49 163.84V168.95M175.31 168.94V171.94M178.77 172.63V175.63M181.95 99.71V119.1M190.94 116.52V131.82M233.29 118.71V152.78M266.55 110.68V141.8M262.83 113.83V130.38M293.14 123.99V134.68M294.52 118.86V125.42M281.43 112.61V119.61M298.41 123.94V137.36M321.68 133.51V139.88M312.04 126.18V134.18M311.05 120.17V132.04" stroke="#e41a1c" stroke-width="0.75" stroke-opacity="1.0" fill="none"/>
<path d="M76.6 33V40" stroke="#8c8c8c" stroke-width="1.3" fill="none"/>
<path d="M426.8 110V142M441.9 118V141M440.9 110V118M455.8 122.8V141.4M491.2 151.6V163M493.5 151.6V163" stroke="#377eb8" stroke-width="0.8" stroke-opacity="0.45" fill="none"/>
<path d="M369.36 187.03V188.38M371.74 187.06V188.8M373.25 187.08V188.96M376.78 187.12V188.06M378.36 187.14V188.74M380.08 187.16V188.37M381.93 187.18V188.71M383.96 187.2V189.29M386.54 187.23V188.91M388.89 187.26V189.41M391 162.5V163.84M392.96 162.52V164.08M394.88 162.55V164.65M396.45 162.57V164.32M397.79 162.58V164.75M399.58 162.6V163.22M401.42 162.63V163.26M403.36 162.65V163.34M405 162.67V164.35M407.98 162.7V164.39M409.24 162.72V164.05M410.61 162.74V163.92M412.08 162.75V164.31M415.38 162.79V164.57M416.58 162.81V164.69M417.72 162.82V164.12M421 162.86V164.16M422.41 162.88V164.52M424.76 162.91V164.8M427.7 142.3V144.01M432.26 142.35V143.23M436.74 142.41V143.99M438 142.42V144.4M440.21 142.45V143.61M441.97 142.47V144.38M444.19 142.5V144.57M446.48 142.53V143.14M448.83 142.55V143.23M450.11 142.57V144.01M452.66 142.6V143.4M453.59 142.61V144.77M454.54 142.62V144.03M592.5 159.4V160.13M595.05 159.43V160.69M596.14 159.44V161.15M602.43 159.52V161.59M604.03 159.54V161.29M605.31 159.55V160.47M606.68 159.57V160.54M609.2 159.6V160.67M610.74 159.62V161.58M615.13 159.67V160.79M619.36 159.72V161.66M621.02 159.74V161.5M622.55 159.76V161.53M624.19 159.78V160.75M626.28 159.81V161.49M628.62 159.83V160.82M629.88 159.85V160.75M643.42 160.01V161.55M647.2 160.06V160.84M650.36 160.09V161.91M652.38 160.12V161.77M653.66 160.13V161.94M657.36 160.18V161.34M661.11 160.22V161.11M668.78 160.32V162.12M670.91 160.34V161.52M574.3 151.3V152.57M576.57 151.33V153.13M577.63 151.34V152.58M579.38 151.36V152.87M582.88 151.4V153.43M584.37 151.42V152.9M586.31 151.44V153.61M587.65 151.46V153.44M591.72 151.51V153.17M545 169.3V170.6M547.61 169.33V170.25M549.31 169.35V171.07M550.87 169.37V171.01M553.63 169.4V171.44M558.51 169.46V170.29M559.66 169.48V170.41M562.19 169.51V170.38M563.09 169.52V170.15M573.88 169.65V170.69M500.23 167.03V168.17M502.7 167.06V167.94M504.82 167.09V169.03M507.28 167.12V168.3M508.5 167.13V168.98M509.78 167.15V168.02M511.67 167.17V168.91M515.96 167.22V168.2M531.85 174.29V176.11M536.04 174.34V175.89M481.4 164.7V166.74M483.07 164.72V166.56M485.67 164.75V166.82M490.25 164.81V165.88M492.2 164.83V165.49M493.5 164.85V166.14M495.63 164.87V166.67M496.62 164.88V165.96M469 161.1V162.16M471.4 161.13V163.02M473.67 161.16V162.61M474.77 161.17V161.85M476.95 161.2V162.54M455 163V164.66M457.27 163.03V164.59M459 163.05V163.92M461.03 163.07V165.26M462.56 163.09V164.25M464.81 163.12V164.44M465.89 163.13V164.23M467.43 163.15V165.11" stroke="#377eb8" stroke-width="0.6" stroke-opacity="0.6" fill="none"/>
<path d="M367 187V188.08M375.73 187.1V189.11M407.07 162.69V164.47M413.55 162.77V164.61M418.7 162.83V163.95M423.61 162.89V163.68M426.06 162.92V164.81M430.12 142.33V143.85M434.25 142.38V143.82M451.76 142.59V144.43M597.87 159.46V160.84M600.29 159.49V160.33M612.02 159.63V160.58M613.68 159.65V160.87M617.72 159.7V161.07M632.23 159.88V161.92M634.58 159.91V161.01M636.7 159.93V160.67M639 159.96V161.02M640.84 159.98V161.66M642.24 160V161.29M645.2 160.03V160.82M648.17 160.07V162.17M655.67 160.16V161.62M659.18 160.2V161.09M662.14 160.24V162.33M663.53 160.25V162.01M665.33 160.27V161.91M666.69 160.29V161.17M580.63 151.38V153.23M589.53 151.48V153.25M546.67 169.32V170.09M552.5 169.39V171.2M555.1 169.42V170.87M556.3 169.44V170.04M561.19 169.49V170.36M564.63 169.54V171.26M566.15 169.55V170.79M568.69 169.58V170.53M570.35 169.6V170.47M571.77 169.62V170.42M497.4 167V169.11M498.73 167.02V168.98M513.35 167.19V168.04M514.99 167.21V169.02M518.35 167.25V169.25M520.76 167.28V169.05M522.23 167.3V168.01M524.5 174.2V175.1M525.44 174.21V176.13M526.29 174.22V176.37M528.69 174.25V174.99M529.89 174.26V176.19M533.74 174.31V175.62M537.81 174.36V175.7M539.23 174.38V175.75M541.03 174.4V176.17M488.15 164.78V165.68M472.63 161.14V163.03M479.52 161.23V161.88M480.34 161.24V162.53M481.23 161.25V162.72" stroke="#e41a1c" stroke-width="0.6" stroke-opacity="0.6" fill="none"/>
<path d="M366 39.4H465.6M366 39.4V84.7M465.6 39.4V84.4M404.3 84.4H527.5M404.3 84.4V93.5M374.7 93.5H434.4M374.7 93.5V100.1M366.2 100.1H382.8M366.2 100.1V145.2M382.8 100.1V108.3M371.4 108.3H394.5M371.4 108.3V170.1M367 170.1H375.7M367 170.1V187M375.7 170.1V187M394.5 108.3V121.7M390.8 121.7H397.7M390.8 121.7V154M391.6 140V165M397.7 121.7V162M434.4 93.5V99.2M434.4 99.2H440.3M440.3 99.2V155.5M527.5 84.4V104M462.3 104H527.5M591.5 128.8V161.5M462.3 104V122.8M455.8 122.8H468.5M468.5 122.8V127.5M459.5 127.5H477.4M477.4 127.5V129.9M460.2 130.4H494.5M494.5 130.4V132.2M461 132.6H527.4M527.4 132.6V133.4M479.2 134.4H574.3M574.3 134.4V151.3M479.2 134.4V136.6M463.9 136.6H494.5M494.5 136.6V139.2M481.4 139.2H494.5M488.7 141.4H506M524.5 144.3H545.6M545.6 144.3V168.4M497.4 146.2H507.7M500.4 149.4H507M500.4 149.4V167M501.8 144.3V149.4M497.4 146.2V168.4M486.5 145H492.3M488.7 141.4V145M486.5 145V164.7M492.3 145V164.7M482.5 145V165.5M468.2 149.4V173.5M465.3 143.9V165.5M463.9 136.6V149.4M465.3 143.9H470M470 143.9V149.4M468.2 149.4H471M459.6 128.99V162.81M460.2 129.67V159.56M460.8 128.18V160.58M461.4 130.51V162.05M462 131.65V162.85" stroke="#377eb8" stroke-width="0.8" stroke-opacity="0.85" fill="none"/>
<path d="M367 187V199M390.8 154V180.4M427.9 99.2H434.4M427.9 99.2V142.3M527.5 104H592.5M592.5 104V159.5M628.9 160V165.6M494.5 139.2H506.9M506.9 139.2V141.4M506 141.4H524.5M524.5 141.4V144.3M501.8 144.3H524.5M544.6 149.4V168.4M507.7 144.3V146.2M507 149.4H514.2M514.2 149.4V165.5M524.5 167V174.2M481.4 139.2V165.5M463.2 147V167" stroke="#e41a1c" stroke-width="0.8" stroke-opacity="0.85" fill="none"/>
<path d="M367 187.4L368.32 187.42M368.32 187.42L369.94 187.44M372.11 187.46L372.94 187.47M372.94 187.47L374.31 187.49M374.31 187.49L377.3 187.52M377.3 187.52L379.94 187.56M379.94 187.56L382.15 187.58M382.15 187.58L384.35 187.61M384.35 187.61L386.3 187.63M388.57 187.66L390 187.68M391 162.9L393.37 162.93M393.37 162.93L396 162.96M397.43 162.98L400.11 163.01M400.11 163.01L401.1 163.02M401.1 163.02L402.8 163.04M402.8 163.04L404.25 163.06M409.12 163.12L411.5 163.15M411.5 163.15L414.24 163.18M414.24 163.18L416.15 163.2M423.13 163.29L424.02 163.3M424.02 163.3L425.51 163.31M429.26 142.72L430.7 142.74M432.1 142.75L433.82 142.77M433.82 142.77L435.52 142.79M436.66 142.81L439.54 142.84M439.54 142.84L442.51 142.88M442.51 142.88L445.4 142.91M445.4 142.91L446.69 142.93M446.69 142.93L449.33 142.96M449.33 142.96L451.27 142.98M451.27 142.98L452.82 143M452.82 143L453.77 143.01M453.77 143.01L455.2 143.03M455.2 143.03L455.8 143.04M592.5 159.8L594.07 159.82M594.07 159.82L596.16 159.84M601.81 159.91L603.43 159.93M603.43 159.93L605.95 159.96M605.95 159.96L608.51 159.99M608.51 159.99L610.26 160.01M610.26 160.01L612.15 160.04M618.63 160.11L620.37 160.13M620.37 160.13L623.23 160.17M623.23 160.17L626 160.2M626 160.2L627.38 160.22M627.38 160.22L628.45 160.23M628.45 160.23L630.71 160.26M643.74 160.41L644.6 160.43M644.6 160.43L645.66 160.44M645.66 160.44L647.94 160.47M653.4 160.53L655.89 160.56M658.26 160.59L660.71 160.62M661.64 160.63L663.68 160.65M668.82 160.72L670.43 160.74M670.43 160.74L671.8 160.75M577.02 151.73L578.93 151.76M578.93 151.76L581.42 151.79M581.42 151.79L582.95 151.8M582.95 151.8L584.95 151.83M584.95 151.83L586.52 151.85M586.52 151.85L587.57 151.86M588.59 151.87L591.1 151.9M591.1 151.9L592 151.91M545 169.7L546.81 169.72M548.78 169.75L550.68 169.77M550.68 169.77L552.46 169.79M552.46 169.79L555.37 169.82M555.37 169.82L556.46 169.84M558.64 169.86L560.23 169.88M560.23 169.88L561.2 169.89M561.2 169.89L564.04 169.93M564.04 169.93L566.76 169.96M566.76 169.96L567.86 169.97M567.86 169.97L569.98 170M572.35 170.03L573.91 170.05M573.91 170.05L574.3 170.05M497.4 167.4L500.25 167.43M500.25 167.43L501.6 167.45M501.6 167.45L504.19 167.48M505.75 167.5L508.05 167.53M518.84 167.66L521.41 167.69M481.4 165.1L483.53 165.13M483.53 165.13L485.1 165.14M485.1 165.14L486.64 165.16M486.64 165.16L487.63 165.17M487.63 165.17L488.79 165.19M488.79 165.19L491.19 165.22M491.19 165.22L494.16 165.25M494.16 165.25L497.01 165.29M497.01 165.29L497.4 165.29M469 161.5L470.14 161.51M470.14 161.51L472.48 161.54M472.48 161.54L475.43 161.58M475.43 161.58L477.05 161.6M480.5 161.64L481.4 161.65M456.34 163.42L458.81 163.45M458.81 163.45L460.73 163.47M460.73 163.47L462.75 163.49M463.92 163.51L466.13 163.53M466.13 163.53L468.93 163.57" stroke="#377eb8" stroke-width="1.45" stroke-opacity="0.9" fill="none"/>
<path d="M369.94 187.44L372.11 187.46M386.3 187.63L388.57 187.66M396 162.96L397.43 162.98M404.25 163.06L406.97 163.09M406.97 163.09L409.12 163.12M416.15 163.2L417.63 163.22M417.63 163.22L419.75 163.25M419.75 163.25L420.99 163.26M420.99 163.26L423.13 163.29M425.51 163.31L426.7 163.33M427.7 142.7L429.26 142.72M430.7 142.74L432.1 142.75M435.52 142.79L436.66 142.81M596.16 159.84L597.38 159.86M597.38 159.86L598.46 159.87M598.46 159.87L600.83 159.9M600.83 159.9L601.81 159.91M612.15 160.04L613.88 160.06M613.88 160.06L615.69 160.08M615.69 160.08L617.67 160.1M617.67 160.1L618.63 160.11M630.71 160.26L633.25 160.29M633.25 160.29L635.66 160.32M635.66 160.32L636.69 160.33M636.69 160.33L637.5 160.34M637.5 160.34L640 160.37M640 160.37L641.01 160.38M641.01 160.38L643.74 160.41M647.94 160.47L650.84 160.5M650.84 160.5L653.4 160.53M655.89 160.56L658.26 160.59M660.71 160.62L661.64 160.63M663.68 160.65L665.01 160.67M665.01 160.67L666.36 160.69M666.36 160.69L668.82 160.72M574.3 151.7L577.02 151.73M587.57 151.86L588.59 151.87M546.81 169.72L548.78 169.75M556.46 169.84L558.64 169.86M569.98 170L572.35 170.03M504.19 167.48L505.75 167.5M508.05 167.53L510.16 167.55M510.16 167.55L511.02 167.56M511.02 167.56L512.2 167.58M512.2 167.58L513.12 167.59M513.12 167.59L515.9 167.62M515.9 167.62L518.84 167.66M521.41 167.69L524.28 167.72M524.28 167.72L524.5 167.73M524.5 174.6L525.53 174.61M525.53 174.61L526.57 174.62M526.57 174.62L528.8 174.65M528.8 174.65L529.71 174.66M529.71 174.66L531.93 174.69M531.93 174.69L532.75 174.7M532.75 174.7L535.68 174.73M535.68 174.73L537.72 174.76M537.72 174.76L540.24 174.79M540.24 174.79L542.7 174.82M477.05 161.6L478.54 161.61M478.54 161.61L480.5 161.64M455 163.4L456.34 163.42M462.75 163.49L463.92 163.51" stroke="#e41a1c" stroke-width="1.45" stroke-opacity="0.9" fill="none"/>
<path d="M439.5 110V145" stroke="#377eb8" stroke-width="0.8" stroke-opacity="0.95" fill="none"/>
<path d="M415.9 33.2V39.4" stroke="#8c8c8c" stroke-width="1.3" fill="none"/>
</svg></body></html>
